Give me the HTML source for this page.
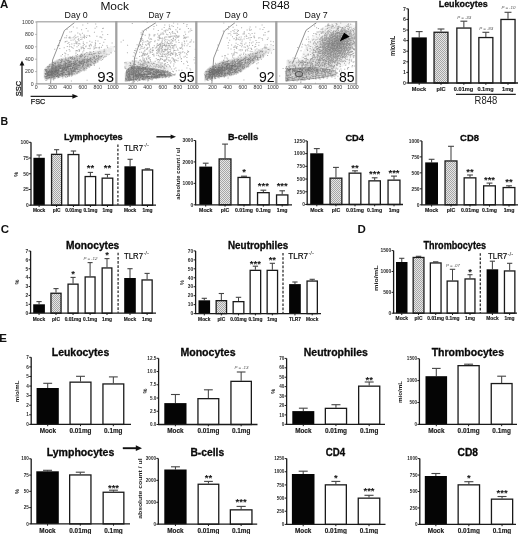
<!DOCTYPE html>
<html><head><meta charset="utf-8"><style>
html,body{margin:0;padding:0;background:#fff;width:520px;height:534px;overflow:hidden}
svg{display:block;will-change:transform;filter:blur(0.3px)}
</style></head><body>
<svg width="520" height="534" viewBox="0 0 520 534" font-family='"Liberation Sans", sans-serif'>
<defs>
<pattern id="hatch" width="2" height="2" patternUnits="userSpaceOnUse">
<rect width="2" height="2" fill="#e6e6e6"/><rect width="1" height="1" fill="#a6a6a6"/><rect x="1" y="1" width="1" height="1" fill="#a6a6a6"/>
</pattern>
<filter id="fb" x="-5%" y="-5%" width="110%" height="110%"><feGaussianBlur stdDeviation="0.6"/></filter>
<filter id="fd" x="-5%" y="-5%" width="110%" height="110%"><feGaussianBlur stdDeviation="0.4"/></filter>
<filter id="bl1" x="-20%" y="-20%" width="140%" height="140%"><feGaussianBlur stdDeviation="1.2"/></filter>
<filter id="bl2" x="-20%" y="-20%" width="140%" height="140%"><feGaussianBlur stdDeviation="2.5"/></filter>
<filter id="bl3" x="-20%" y="-20%" width="140%" height="140%"><feGaussianBlur stdDeviation="4"/></filter>
</defs>
<rect width="520" height="534" fill="#fff"/>
<g filter="url(#fb)">
<path fill="rgb(245,245,245)" d="M110 46h3v1h-3zM107 47h7v1h-7zM104 48h3v1h-3zM112 48h2v1h-2zM100 49h3v1h-3zM112 49h2v1h-2zM95 50h4v1h-4zM112 50h2v1h-2zM90 51h3v1h-3zM112 51h1v1h-1zM85 52h2v1h-2zM111 52h1v1h-1zM81 53h2v1h-2zM110 53h2v1h-2zM78 54h2v1h-2zM108 54h2v1h-2zM72 55h4v1h-4zM107 55h2v1h-2zM67 56h3v1h-3zM106 56h1v1h-1zM62 57h3v1h-3zM104 57h2v1h-2zM59 58h1v1h-1zM103 58h1v1h-1zM56 59h1v1h-1zM102 59h1v1h-1zM54 60h1v1h-1zM100 60h1v1h-1zM52 61h1v1h-1zM98 61h1v1h-1zM97 62h1v1h-1zM49 63h1v1h-1zM95 63h1v1h-1zM48 64h1v1h-1zM94 64h1v1h-1zM47 65h1v1h-1zM92 65h1v1h-1zM89 67h1v1h-1zM44 68h1v1h-1zM86 69h1v1h-1zM43 70h1v1h-1zM84 70h1v1h-1zM43 71h1v1h-1zM82 71h1v1h-1zM43 72h1v1h-1zM43 73h1v1h-1zM79 73h1v1h-1zM43 74h1v1h-1zM77 74h1v1h-1zM43 75h1v1h-1zM74 75h2v1h-2zM43 76h1v1h-1zM70 76h2v1h-2zM43 77h1v1h-1zM62 77h4v1h-4zM56 78h2v1h-2zM51 79h2v1h-2zM162 43h6v1h-6zM160 44h9v1h-9zM160 45h9v1h-9zM159 46h11v1h-11zM159 47h11v1h-11zM159 48h10v1h-10zM159 49h10v1h-10zM159 50h9v1h-9zM160 51h6v1h-6zM162 52h2v1h-2zM131 60h15v1h-15zM125 61h6v1h-6zM147 61h9v1h-9zM124 62h1v1h-1zM155 62h7v1h-7zM124 63h1v1h-1zM162 63h3v1h-3zM124 64h1v1h-1zM164 64h4v1h-4zM124 65h1v1h-1zM167 65h3v1h-3zM124 66h1v1h-1zM168 66h3v1h-3zM124 67h1v1h-1zM169 67h2v1h-2zM125 68h3v1h-3zM169 68h2v1h-2zM126 69h1v1h-1zM169 69h2v1h-2zM167 70h4v1h-4zM169 71h2v1h-2zM124 73h1v1h-1zM172 73h1v1h-1zM124 74h1v1h-1zM174 74h1v1h-1zM124 75h1v1h-1zM174 75h1v1h-1zM124 76h1v1h-1zM171 76h2v1h-2zM124 77h1v1h-1zM167 77h1v1h-1zM124 78h1v1h-1zM160 78h2v1h-2zM124 79h1v1h-1zM151 79h2v1h-2zM124 80h1v1h-1zM140 80h3v1h-3zM129 81h1v1h-1zM269 46h5v1h-5zM264 47h10v1h-10zM260 48h4v1h-4zM271 48h3v1h-3zM258 49h2v1h-2zM271 49h3v1h-3zM255 50h2v1h-2zM271 50h2v1h-2zM252 51h2v1h-2zM270 51h2v1h-2zM250 52h2v1h-2zM268 52h2v1h-2zM247 53h2v1h-2zM267 53h2v1h-2zM245 54h1v1h-1zM266 54h1v1h-1zM242 55h2v1h-2zM265 55h1v1h-1zM239 56h2v1h-2zM264 56h1v1h-1zM235 57h3v1h-3zM263 57h1v1h-1zM231 58h2v1h-2zM261 58h2v1h-2zM226 59h3v1h-3zM260 59h1v1h-1zM221 60h3v1h-3zM258 60h1v1h-1zM219 61h1v1h-1zM257 61h1v1h-1zM217 62h1v1h-1zM255 62h1v1h-1zM215 63h1v1h-1zM213 64h1v1h-1zM252 64h1v1h-1zM211 65h1v1h-1zM209 66h1v1h-1zM249 66h1v1h-1zM208 67h1v1h-1zM246 68h1v1h-1zM245 69h1v1h-1zM243 70h1v1h-1zM204 71h1v1h-1zM242 71h1v1h-1zM240 72h1v1h-1zM203 73h1v1h-1zM238 73h1v1h-1zM236 74h1v1h-1zM233 75h1v1h-1zM229 76h3v1h-3zM222 77h3v1h-3zM216 78h2v1h-2zM212 79h2v1h-2zM209 80h1v1h-1zM204 81h2v1h-2zM334 22h14v1h-14zM331 23h20v1h-20zM328 24h25v1h-25zM326 25h29v1h-29zM324 26h32v1h-32zM323 27h12v1h-12zM346 27h10v1h-10zM321 28h11v1h-11zM349 28h7v1h-7zM320 29h10v1h-10zM351 29h5v1h-5zM319 30h9v1h-9zM352 30h4v1h-4zM318 31h8v1h-8zM353 31h3v1h-3zM317 32h8v1h-8zM354 32h2v1h-2zM316 33h8v1h-8zM355 33h1v1h-1zM315 34h8v1h-8zM355 34h1v1h-1zM314 35h8v1h-8zM313 36h8v1h-8zM312 37h8v1h-8zM311 38h8v1h-8zM311 39h7v1h-7zM310 40h8v1h-8zM309 41h8v1h-8zM308 42h8v1h-8zM308 43h8v1h-8zM307 44h8v1h-8zM307 45h8v1h-8zM306 46h9v1h-9zM305 47h9v1h-9zM355 47h1v1h-1zM305 48h9v1h-9zM355 48h1v1h-1zM304 49h9v1h-9zM354 49h2v1h-2zM304 50h9v1h-9zM354 50h2v1h-2zM303 51h10v1h-10zM353 51h3v1h-3zM303 52h10v1h-10zM352 52h4v1h-4zM302 53h10v1h-10zM351 53h5v1h-5zM302 54h10v1h-10zM351 54h5v1h-5zM302 55h11v1h-11zM350 55h6v1h-6zM301 56h12v1h-12zM349 56h7v1h-7zM301 57h12v1h-12zM347 57h8v1h-8zM298 58h12v1h-12zM346 58h8v1h-8zM287 59h14v1h-14zM344 59h9v1h-9zM286 60h1v1h-1zM343 60h9v1h-9zM286 61h1v1h-1zM341 61h10v1h-10zM286 62h1v1h-1zM339 62h11v1h-11zM286 63h1v1h-1zM338 63h10v1h-10zM286 64h1v1h-1zM337 64h10v1h-10zM286 65h1v1h-1zM337 65h8v1h-8zM337 66h6v1h-6zM337 67h4v1h-4zM336 68h3v1h-3zM285 69h1v1h-1zM333 69h5v1h-5zM334 70h1v1h-1zM284 71h1v1h-1zM337 72h1v1h-1zM337 73h2v1h-2zM336 74h1v1h-1zM335 75h1v1h-1zM332 76h2v1h-2zM328 77h1v1h-1zM321 78h3v1h-3zM312 79h4v1h-4zM299 80h6v1h-6zM288 81h2v1h-2z"/>
<path fill="rgb(235,235,235)" d="M107 48h5v1h-5zM103 49h9v1h-9zM99 50h4v1h-4zM106 50h6v1h-6zM93 51h4v1h-4zM106 51h6v1h-6zM87 52h4v1h-4zM106 52h5v1h-5zM83 53h2v1h-2zM106 53h4v1h-4zM80 54h1v1h-1zM106 54h2v1h-2zM76 55h1v1h-1zM105 55h2v1h-2zM70 56h2v1h-2zM104 56h2v1h-2zM65 57h1v1h-1zM103 57h1v1h-1zM60 58h1v1h-1zM102 58h1v1h-1zM57 59h1v1h-1zM101 59h1v1h-1zM55 60h1v1h-1zM99 60h1v1h-1zM53 61h1v1h-1zM97 61h1v1h-1zM51 62h1v1h-1zM96 62h1v1h-1zM94 63h1v1h-1zM93 64h1v1h-1zM91 65h1v1h-1zM46 66h1v1h-1zM90 66h1v1h-1zM45 67h1v1h-1zM88 67h1v1h-1zM87 68h1v1h-1zM85 69h1v1h-1zM83 70h1v1h-1zM80 72h1v1h-1zM78 73h1v1h-1zM76 74h1v1h-1zM73 75h1v1h-1zM68 76h2v1h-2zM60 77h2v1h-2zM55 78h1v1h-1zM44 79h1v1h-1zM48 79h3v1h-3zM131 61h16v1h-16zM125 62h5v1h-5zM149 62h6v1h-6zM125 63h1v1h-1zM156 63h6v1h-6zM125 64h1v1h-1zM161 64h3v1h-3zM125 65h1v1h-1zM163 65h4v1h-4zM125 66h1v1h-1zM163 66h5v1h-5zM125 67h4v1h-4zM162 67h7v1h-7zM157 68h3v1h-3zM162 68h7v1h-7zM161 69h8v1h-8zM165 70h2v1h-2zM125 71h1v1h-1zM170 72h1v1h-1zM173 74h1v1h-1zM173 75h1v1h-1zM170 76h1v1h-1zM165 77h2v1h-2zM159 78h1v1h-1zM149 79h2v1h-2zM137 80h3v1h-3zM128 81h1v1h-1zM264 48h7v1h-7zM260 49h11v1h-11zM257 50h2v1h-2zM264 50h7v1h-7zM254 51h2v1h-2zM265 51h5v1h-5zM252 52h1v1h-1zM265 52h3v1h-3zM249 53h1v1h-1zM265 53h2v1h-2zM246 54h2v1h-2zM265 54h1v1h-1zM244 55h1v1h-1zM264 55h1v1h-1zM241 56h2v1h-2zM263 56h1v1h-1zM238 57h2v1h-2zM262 57h1v1h-1zM233 58h2v1h-2zM260 58h1v1h-1zM229 59h2v1h-2zM259 59h1v1h-1zM224 60h2v1h-2zM257 60h1v1h-1zM220 61h1v1h-1zM256 61h1v1h-1zM218 62h1v1h-1zM254 62h1v1h-1zM216 63h1v1h-1zM253 63h1v1h-1zM214 64h1v1h-1zM251 64h1v1h-1zM212 65h1v1h-1zM250 65h1v1h-1zM247 67h1v1h-1zM207 68h1v1h-1zM206 69h1v1h-1zM244 69h1v1h-1zM205 70h1v1h-1zM241 71h1v1h-1zM239 72h1v1h-1zM237 73h1v1h-1zM235 74h1v1h-1zM227 76h2v1h-2zM220 77h2v1h-2zM215 78h1v1h-1zM211 79h1v1h-1zM204 80h1v1h-1zM207 80h2v1h-2zM335 27h11v1h-11zM332 28h17v1h-17zM330 29h21v1h-21zM328 30h7v1h-7zM345 30h7v1h-7zM326 31h6v1h-6zM348 31h5v1h-5zM325 32h5v1h-5zM349 32h5v1h-5zM324 33h5v1h-5zM350 33h5v1h-5zM323 34h4v1h-4zM351 34h4v1h-4zM322 35h4v1h-4zM352 35h4v1h-4zM321 36h4v1h-4zM352 36h4v1h-4zM320 37h4v1h-4zM353 37h3v1h-3zM319 38h4v1h-4zM353 38h3v1h-3zM318 39h4v1h-4zM353 39h3v1h-3zM318 40h4v1h-4zM353 40h3v1h-3zM317 41h4v1h-4zM353 41h3v1h-3zM316 42h5v1h-5zM353 42h3v1h-3zM316 43h4v1h-4zM353 43h3v1h-3zM315 44h5v1h-5zM353 44h3v1h-3zM315 45h4v1h-4zM352 45h4v1h-4zM315 46h4v1h-4zM352 46h4v1h-4zM314 47h5v1h-5zM352 47h3v1h-3zM314 48h4v1h-4zM351 48h4v1h-4zM313 49h5v1h-5zM350 49h4v1h-4zM313 50h5v1h-5zM350 50h4v1h-4zM313 51h5v1h-5zM349 51h4v1h-4zM313 52h5v1h-5zM348 52h4v1h-4zM312 53h6v1h-6zM347 53h4v1h-4zM312 54h7v1h-7zM346 54h5v1h-5zM313 55h6v1h-6zM345 55h5v1h-5zM313 56h7v1h-7zM343 56h6v1h-6zM313 57h8v1h-8zM342 57h5v1h-5zM310 58h8v1h-8zM340 58h6v1h-6zM301 59h10v1h-10zM337 59h7v1h-7zM287 60h12v1h-12zM336 60h7v1h-7zM287 61h1v1h-1zM337 61h4v1h-4zM287 62h1v1h-1zM337 62h2v1h-2zM287 63h1v1h-1zM336 63h2v1h-2zM287 64h1v1h-1zM336 64h1v1h-1zM287 65h1v1h-1zM336 65h1v1h-1zM286 66h1v1h-1zM335 66h2v1h-2zM286 67h1v1h-1zM335 67h2v1h-2zM327 68h9v1h-9zM332 69h1v1h-1zM335 71h1v1h-1zM336 72h1v1h-1zM336 73h1v1h-1zM334 75h1v1h-1zM331 76h1v1h-1zM326 77h2v1h-2zM319 78h2v1h-2zM309 79h3v1h-3zM294 80h5v1h-5zM285 81h1v1h-1zM287 81h1v1h-1z"/>
<path fill="rgb(226,226,226)" d="M103 50h3v1h-3zM97 51h9v1h-9zM91 52h4v1h-4zM98 52h8v1h-8zM85 53h2v1h-2zM100 53h6v1h-6zM81 54h2v1h-2zM101 54h5v1h-5zM77 55h2v1h-2zM102 55h3v1h-3zM72 56h2v1h-2zM102 56h2v1h-2zM66 57h2v1h-2zM102 57h1v1h-1zM61 58h2v1h-2zM101 58h1v1h-1zM58 59h1v1h-1zM100 59h1v1h-1zM98 60h1v1h-1zM52 62h1v1h-1zM95 62h1v1h-1zM50 63h1v1h-1zM49 64h1v1h-1zM92 64h1v1h-1zM89 66h1v1h-1zM86 68h1v1h-1zM44 69h1v1h-1zM84 69h1v1h-1zM81 71h1v1h-1zM79 72h1v1h-1zM77 73h1v1h-1zM75 74h1v1h-1zM71 75h2v1h-2zM66 76h2v1h-2zM59 77h1v1h-1zM44 78h1v1h-1zM54 78h1v1h-1zM45 79h3v1h-3zM130 62h19v1h-19zM126 63h30v1h-30zM126 64h35v1h-35zM126 65h37v1h-37zM126 66h5v1h-5zM143 66h20v1h-20zM149 67h13v1h-13zM155 68h2v1h-2zM160 68h2v1h-2zM160 69h1v1h-1zM164 70h1v1h-1zM168 71h1v1h-1zM171 73h1v1h-1zM172 75h1v1h-1zM164 77h1v1h-1zM157 78h2v1h-2zM148 79h1v1h-1zM134 80h3v1h-3zM125 81h1v1h-1zM259 50h5v1h-5zM256 51h9v1h-9zM253 52h12v1h-12zM250 53h2v1h-2zM262 53h3v1h-3zM248 54h1v1h-1zM263 54h2v1h-2zM245 55h2v1h-2zM263 55h1v1h-1zM243 56h1v1h-1zM262 56h1v1h-1zM240 57h1v1h-1zM261 57h1v1h-1zM235 58h2v1h-2zM259 58h1v1h-1zM231 59h1v1h-1zM258 59h1v1h-1zM226 60h1v1h-1zM221 61h1v1h-1zM255 61h1v1h-1zM219 62h1v1h-1zM252 63h1v1h-1zM249 65h1v1h-1zM210 66h1v1h-1zM248 66h1v1h-1zM245 68h1v1h-1zM242 70h1v1h-1zM204 72h1v1h-1zM204 73h1v1h-1zM236 73h1v1h-1zM204 74h1v1h-1zM234 74h1v1h-1zM204 75h1v1h-1zM231 75h2v1h-2zM204 76h1v1h-1zM225 76h2v1h-2zM204 77h1v1h-1zM218 77h2v1h-2zM204 78h1v1h-1zM214 78h1v1h-1zM204 79h1v1h-1zM210 79h1v1h-1zM205 80h2v1h-2zM335 30h10v1h-10zM332 31h16v1h-16zM330 32h7v1h-7zM343 32h6v1h-6zM329 33h5v1h-5zM346 33h4v1h-4zM327 34h5v1h-5zM347 34h4v1h-4zM326 35h4v1h-4zM348 35h4v1h-4zM325 36h4v1h-4zM349 36h3v1h-3zM324 37h4v1h-4zM350 37h3v1h-3zM323 38h4v1h-4zM350 38h3v1h-3zM322 39h4v1h-4zM350 39h3v1h-3zM322 40h3v1h-3zM350 40h3v1h-3zM321 41h3v1h-3zM350 41h3v1h-3zM321 42h3v1h-3zM350 42h3v1h-3zM320 43h3v1h-3zM350 43h3v1h-3zM320 44h3v1h-3zM350 44h3v1h-3zM319 45h3v1h-3zM350 45h2v1h-2zM319 46h3v1h-3zM349 46h3v1h-3zM319 47h3v1h-3zM349 47h3v1h-3zM318 48h4v1h-4zM348 48h3v1h-3zM318 49h4v1h-4zM347 49h3v1h-3zM318 50h4v1h-4zM347 50h3v1h-3zM318 51h4v1h-4zM346 51h3v1h-3zM318 52h4v1h-4zM345 52h3v1h-3zM318 53h5v1h-5zM344 53h3v1h-3zM319 54h5v1h-5zM342 54h4v1h-4zM319 55h6v1h-6zM340 55h5v1h-5zM320 56h6v1h-6zM338 56h5v1h-5zM321 57h10v1h-10zM333 57h9v1h-9zM318 58h22v1h-22zM311 59h8v1h-8zM323 59h14v1h-14zM299 60h11v1h-11zM332 60h4v1h-4zM288 61h13v1h-13zM334 61h3v1h-3zM288 62h11v1h-11zM335 62h2v1h-2zM288 63h11v1h-11zM334 63h2v1h-2zM288 64h12v1h-12zM332 64h4v1h-4zM288 65h12v1h-12zM330 65h6v1h-6zM287 66h18v1h-18zM328 66h7v1h-7zM287 67h7v1h-7zM319 67h16v1h-16zM286 68h1v1h-1zM325 68h2v1h-2zM330 69h2v1h-2zM285 70h1v1h-1zM333 70h1v1h-1zM285 71h1v1h-1zM285 72h1v1h-1zM335 72h1v1h-1zM285 73h1v1h-1zM335 73h1v1h-1zM285 74h1v1h-1zM335 74h1v1h-1zM285 75h1v1h-1zM333 75h1v1h-1zM285 76h1v1h-1zM329 76h2v1h-2zM285 77h1v1h-1zM324 77h2v1h-2zM285 78h1v1h-1zM317 78h2v1h-2zM285 79h1v1h-1zM307 79h2v1h-2zM285 80h1v1h-1zM291 80h3v1h-3zM286 81h1v1h-1z"/>
<path fill="rgb(216,216,216)" d="M95 52h3v1h-3zM87 53h13v1h-13zM83 54h3v1h-3zM88 54h13v1h-13zM79 55h2v1h-2zM89 55h7v1h-7zM99 55h3v1h-3zM74 56h3v1h-3zM100 56h2v1h-2zM68 57h2v1h-2zM100 57h2v1h-2zM63 58h2v1h-2zM100 58h1v1h-1zM59 59h1v1h-1zM99 59h1v1h-1zM56 60h1v1h-1zM97 60h1v1h-1zM54 61h1v1h-1zM96 61h1v1h-1zM94 62h1v1h-1zM51 63h1v1h-1zM93 63h1v1h-1zM91 64h1v1h-1zM48 65h1v1h-1zM90 65h1v1h-1zM47 66h1v1h-1zM87 67h1v1h-1zM85 68h1v1h-1zM44 70h1v1h-1zM82 70h1v1h-1zM44 71h1v1h-1zM80 71h1v1h-1zM44 72h1v1h-1zM78 72h1v1h-1zM44 73h1v1h-1zM44 74h1v1h-1zM74 74h1v1h-1zM44 75h1v1h-1zM70 75h1v1h-1zM44 76h1v1h-1zM63 76h3v1h-3zM44 77h1v1h-1zM57 77h2v1h-2zM52 78h2v1h-2zM138 66h5v1h-5zM129 67h1v1h-1zM148 67h1v1h-1zM154 68h1v1h-1zM159 69h1v1h-1zM163 70h1v1h-1zM167 71h1v1h-1zM125 72h1v1h-1zM169 72h1v1h-1zM125 73h1v1h-1zM125 74h1v1h-1zM172 74h1v1h-1zM125 75h1v1h-1zM125 76h1v1h-1zM169 76h1v1h-1zM125 77h1v1h-1zM163 77h1v1h-1zM125 78h1v1h-1zM156 78h1v1h-1zM125 79h1v1h-1zM146 79h2v1h-2zM125 80h1v1h-1zM132 80h2v1h-2zM127 81h1v1h-1zM252 53h10v1h-10zM249 54h14v1h-14zM247 55h6v1h-6zM259 55h4v1h-4zM244 56h4v1h-4zM259 56h3v1h-3zM241 57h2v1h-2zM258 57h3v1h-3zM237 58h2v1h-2zM258 58h1v1h-1zM232 59h2v1h-2zM257 59h1v1h-1zM227 60h2v1h-2zM256 60h1v1h-1zM222 61h2v1h-2zM254 61h1v1h-1zM253 62h1v1h-1zM217 63h1v1h-1zM251 63h1v1h-1zM215 64h1v1h-1zM250 64h1v1h-1zM213 65h1v1h-1zM211 66h1v1h-1zM247 66h1v1h-1zM209 67h1v1h-1zM246 67h1v1h-1zM243 69h1v1h-1zM240 71h1v1h-1zM238 72h1v1h-1zM233 74h1v1h-1zM230 75h1v1h-1zM223 76h2v1h-2zM216 77h2v1h-2zM213 78h1v1h-1zM209 79h1v1h-1zM337 32h6v1h-6zM334 33h12v1h-12zM332 34h7v1h-7zM340 34h7v1h-7zM330 35h5v1h-5zM344 35h4v1h-4zM329 36h4v1h-4zM346 36h3v1h-3zM328 37h3v1h-3zM347 37h3v1h-3zM327 38h3v1h-3zM347 38h3v1h-3zM326 39h3v1h-3zM348 39h2v1h-2zM325 40h3v1h-3zM348 40h2v1h-2zM324 41h3v1h-3zM348 41h2v1h-2zM324 42h3v1h-3zM348 42h2v1h-2zM323 43h3v1h-3zM348 43h2v1h-2zM323 44h3v1h-3zM347 44h3v1h-3zM322 45h3v1h-3zM347 45h3v1h-3zM322 46h3v1h-3zM347 46h2v1h-2zM322 47h3v1h-3zM346 47h3v1h-3zM322 48h3v1h-3zM345 48h3v1h-3zM322 49h3v1h-3zM345 49h2v1h-2zM322 50h3v1h-3zM344 50h3v1h-3zM322 51h4v1h-4zM343 51h3v1h-3zM322 52h4v1h-4zM341 52h4v1h-4zM323 53h5v1h-5zM339 53h5v1h-5zM324 54h6v1h-6zM337 54h5v1h-5zM325 55h15v1h-15zM326 56h12v1h-12zM331 57h2v1h-2zM319 59h4v1h-4zM310 60h9v1h-9zM321 60h11v1h-11zM301 61h14v1h-14zM327 61h7v1h-7zM299 62h17v1h-17zM326 62h9v1h-9zM299 63h20v1h-20zM322 63h12v1h-12zM300 64h32v1h-32zM300 65h30v1h-30zM305 66h23v1h-23zM294 67h9v1h-9zM318 67h1v1h-1zM323 68h2v1h-2zM328 69h2v1h-2zM334 71h1v1h-1zM333 72h2v1h-2zM330 73h5v1h-5zM330 74h5v1h-5zM329 75h4v1h-4zM327 76h2v1h-2zM322 77h2v1h-2zM314 78h3v1h-3zM304 79h3v1h-3zM290 80h1v1h-1z"/>
<path fill="rgb(206,206,206)" d="M86 54h2v1h-2zM81 55h8v1h-8zM96 55h3v1h-3zM77 56h23v1h-23zM70 57h4v1h-4zM78 57h11v1h-11zM97 57h3v1h-3zM65 58h2v1h-2zM97 58h3v1h-3zM60 59h2v1h-2zM96 59h3v1h-3zM57 60h1v1h-1zM95 60h2v1h-2zM55 61h1v1h-1zM94 61h2v1h-2zM53 62h1v1h-1zM93 62h1v1h-1zM91 63h2v1h-2zM50 64h1v1h-1zM90 64h1v1h-1zM89 65h1v1h-1zM87 66h2v1h-2zM46 67h1v1h-1zM86 67h1v1h-1zM45 68h1v1h-1zM84 68h1v1h-1zM83 69h1v1h-1zM81 70h1v1h-1zM79 71h1v1h-1zM77 72h1v1h-1zM75 73h2v1h-2zM73 74h1v1h-1zM69 75h1v1h-1zM62 76h1v1h-1zM56 77h1v1h-1zM51 78h1v1h-1zM135 66h3v1h-3zM146 67h2v1h-2zM128 68h1v1h-1zM152 68h2v1h-2zM158 69h1v1h-1zM162 70h1v1h-1zM166 71h1v1h-1zM170 73h1v1h-1zM171 74h1v1h-1zM171 75h1v1h-1zM168 76h1v1h-1zM162 77h1v1h-1zM154 78h2v1h-2zM145 79h1v1h-1zM131 80h1v1h-1zM126 81h1v1h-1zM253 55h6v1h-6zM248 56h11v1h-11zM243 57h6v1h-6zM256 57h2v1h-2zM239 58h6v1h-6zM255 58h3v1h-3zM234 59h6v1h-6zM254 59h3v1h-3zM229 60h3v1h-3zM253 60h3v1h-3zM224 61h3v1h-3zM252 61h2v1h-2zM220 62h1v1h-1zM251 62h2v1h-2zM218 63h1v1h-1zM250 63h1v1h-1zM216 64h1v1h-1zM249 64h1v1h-1zM248 65h1v1h-1zM245 67h1v1h-1zM208 68h1v1h-1zM244 68h1v1h-1zM241 70h1v1h-1zM205 71h1v1h-1zM239 71h1v1h-1zM237 72h1v1h-1zM235 73h1v1h-1zM228 75h2v1h-2zM221 76h2v1h-2zM215 77h1v1h-1zM205 78h1v1h-1zM212 78h1v1h-1zM205 79h1v1h-1zM208 79h1v1h-1zM339 34h1v1h-1zM335 35h9v1h-9zM333 36h13v1h-13zM331 37h4v1h-4zM342 37h5v1h-5zM330 38h3v1h-3zM344 38h3v1h-3zM329 39h3v1h-3zM344 39h4v1h-4zM328 40h3v1h-3zM345 40h3v1h-3zM327 41h3v1h-3zM345 41h3v1h-3zM327 42h2v1h-2zM345 42h3v1h-3zM326 43h3v1h-3zM345 43h3v1h-3zM326 44h2v1h-2zM345 44h2v1h-2zM325 45h3v1h-3zM344 45h3v1h-3zM325 46h3v1h-3zM344 46h3v1h-3zM325 47h3v1h-3zM343 47h3v1h-3zM325 48h3v1h-3zM342 48h3v1h-3zM325 49h3v1h-3zM341 49h4v1h-4zM325 50h4v1h-4zM340 50h4v1h-4zM326 51h4v1h-4zM338 51h5v1h-5zM326 52h15v1h-15zM328 53h11v1h-11zM330 54h7v1h-7zM319 60h2v1h-2zM315 61h12v1h-12zM316 62h10v1h-10zM319 63h3v1h-3zM303 67h6v1h-6zM316 67h2v1h-2zM287 68h2v1h-2zM321 68h2v1h-2zM327 69h1v1h-1zM331 70h2v1h-2zM332 71h2v1h-2zM318 72h15v1h-15zM310 73h20v1h-20zM308 74h22v1h-22zM307 75h22v1h-22zM307 76h20v1h-20zM306 77h16v1h-16zM305 78h9v1h-9zM299 79h5v1h-5zM289 80h1v1h-1z"/>
<path fill="rgb(196,196,196)" d="M74 57h4v1h-4zM89 57h8v1h-8zM67 58h30v1h-30zM62 59h19v1h-19zM91 59h5v1h-5zM58 60h16v1h-16zM91 60h4v1h-4zM56 61h13v1h-13zM90 61h4v1h-4zM54 62h10v1h-10zM89 62h4v1h-4zM52 63h8v1h-8zM88 63h3v1h-3zM51 64h4v1h-4zM87 64h3v1h-3zM49 65h3v1h-3zM86 65h3v1h-3zM48 66h2v1h-2zM85 66h2v1h-2zM47 67h1v1h-1zM83 67h3v1h-3zM82 68h2v1h-2zM80 69h3v1h-3zM79 70h2v1h-2zM77 71h2v1h-2zM76 72h1v1h-1zM74 73h1v1h-1zM71 74h2v1h-2zM67 75h2v1h-2zM60 76h2v1h-2zM55 77h1v1h-1zM45 78h1v1h-1zM47 78h4v1h-4zM133 66h2v1h-2zM145 67h1v1h-1zM151 68h1v1h-1zM157 69h1v1h-1zM126 70h1v1h-1zM161 70h1v1h-1zM165 71h1v1h-1zM170 74h1v1h-1zM170 75h1v1h-1zM167 76h1v1h-1zM161 77h1v1h-1zM153 78h1v1h-1zM143 79h2v1h-2zM130 80h1v1h-1zM249 57h7v1h-7zM245 58h10v1h-10zM240 59h5v1h-5zM250 59h4v1h-4zM232 60h8v1h-8zM249 60h4v1h-4zM227 61h7v1h-7zM248 61h4v1h-4zM221 62h8v1h-8zM247 62h4v1h-4zM219 63h5v1h-5zM246 63h4v1h-4zM217 64h1v1h-1zM245 64h4v1h-4zM214 65h1v1h-1zM244 65h4v1h-4zM212 66h1v1h-1zM243 66h4v1h-4zM210 67h1v1h-1zM243 67h2v1h-2zM242 68h2v1h-2zM207 69h1v1h-1zM241 69h2v1h-2zM206 70h1v1h-1zM240 70h1v1h-1zM238 71h1v1h-1zM205 72h1v1h-1zM236 72h1v1h-1zM205 73h1v1h-1zM234 73h1v1h-1zM205 74h1v1h-1zM232 74h1v1h-1zM205 75h1v1h-1zM226 75h2v1h-2zM205 76h1v1h-1zM220 76h1v1h-1zM205 77h1v1h-1zM211 78h1v1h-1zM206 79h2v1h-2zM335 37h7v1h-7zM333 38h11v1h-11zM332 39h12v1h-12zM331 40h4v1h-4zM341 40h4v1h-4zM330 41h4v1h-4zM342 41h3v1h-3zM329 42h4v1h-4zM342 42h3v1h-3zM329 43h3v1h-3zM342 43h3v1h-3zM328 44h4v1h-4zM342 44h3v1h-3zM328 45h3v1h-3zM341 45h3v1h-3zM328 46h3v1h-3zM341 46h3v1h-3zM328 47h4v1h-4zM340 47h3v1h-3zM328 48h4v1h-4zM338 48h4v1h-4zM328 49h13v1h-13zM329 50h11v1h-11zM330 51h8v1h-8zM309 67h7v1h-7zM289 68h1v1h-1zM319 68h2v1h-2zM286 69h1v1h-1zM326 69h1v1h-1zM330 70h1v1h-1zM286 71h1v1h-1zM297 71h35v1h-35zM286 72h1v1h-1zM290 72h28v1h-28zM286 73h1v1h-1zM290 73h20v1h-20zM286 74h1v1h-1zM290 74h18v1h-18zM286 75h1v1h-1zM290 75h17v1h-17zM286 76h1v1h-1zM290 76h17v1h-17zM286 77h1v1h-1zM290 77h16v1h-16zM286 78h1v1h-1zM290 78h15v1h-15zM286 79h1v1h-1zM290 79h9v1h-9zM286 80h3v1h-3z"/>
<path fill="rgb(186,186,186)" d="M81 59h10v1h-10zM74 60h17v1h-17zM69 61h5v1h-5zM85 61h5v1h-5zM64 62h5v1h-5zM85 62h4v1h-4zM60 63h4v1h-4zM84 63h4v1h-4zM55 64h5v1h-5zM83 64h4v1h-4zM52 65h4v1h-4zM81 65h5v1h-5zM50 66h3v1h-3zM80 66h5v1h-5zM48 67h2v1h-2zM79 67h4v1h-4zM46 68h2v1h-2zM78 68h4v1h-4zM45 69h1v1h-1zM77 69h3v1h-3zM76 70h3v1h-3zM75 71h2v1h-2zM73 72h3v1h-3zM72 73h2v1h-2zM70 74h1v1h-1zM64 75h3v1h-3zM58 76h2v1h-2zM45 77h1v1h-1zM53 77h2v1h-2zM46 78h1v1h-1zM131 66h2v1h-2zM144 67h1v1h-1zM150 68h1v1h-1zM127 69h1v1h-1zM156 69h1v1h-1zM164 71h1v1h-1zM168 72h1v1h-1zM168 73h2v1h-2zM168 74h2v1h-2zM168 75h2v1h-2zM165 76h2v1h-2zM160 77h1v1h-1zM151 78h2v1h-2zM141 79h2v1h-2zM129 80h1v1h-1zM245 59h5v1h-5zM240 60h9v1h-9zM234 61h5v1h-5zM244 61h4v1h-4zM229 62h4v1h-4zM243 62h4v1h-4zM224 63h4v1h-4zM243 63h3v1h-3zM218 64h5v1h-5zM241 64h4v1h-4zM215 65h2v1h-2zM240 65h4v1h-4zM213 66h1v1h-1zM239 66h4v1h-4zM211 67h1v1h-1zM238 67h5v1h-5zM209 68h1v1h-1zM238 68h4v1h-4zM237 69h4v1h-4zM237 70h3v1h-3zM236 71h2v1h-2zM235 72h1v1h-1zM233 73h1v1h-1zM230 74h2v1h-2zM224 75h2v1h-2zM218 76h2v1h-2zM214 77h1v1h-1zM206 78h1v1h-1zM210 78h1v1h-1zM335 40h6v1h-6zM334 41h8v1h-8zM333 42h9v1h-9zM332 43h10v1h-10zM332 44h10v1h-10zM331 45h10v1h-10zM331 46h10v1h-10zM332 47h8v1h-8zM332 48h6v1h-6zM290 68h1v1h-1zM313 68h6v1h-6zM319 69h7v1h-7zM286 70h1v1h-1zM321 70h9v1h-9zM287 71h10v1h-10zM287 72h3v1h-3zM287 73h3v1h-3zM287 74h3v1h-3zM287 75h3v1h-3zM287 76h3v1h-3zM287 77h3v1h-3zM287 78h3v1h-3zM287 79h3v1h-3z"/>
<path fill="rgb(177,177,177)" d="M74 61h11v1h-11zM69 62h16v1h-16zM64 63h5v1h-5zM78 63h6v1h-6zM60 64h4v1h-4zM78 64h5v1h-5zM56 65h4v1h-4zM77 65h4v1h-4zM53 66h2v1h-2zM76 66h4v1h-4zM50 67h2v1h-2zM75 67h4v1h-4zM48 68h2v1h-2zM73 68h5v1h-5zM46 69h2v1h-2zM72 69h5v1h-5zM45 70h1v1h-1zM70 70h6v1h-6zM45 71h1v1h-1zM69 71h6v1h-6zM45 72h1v1h-1zM67 72h6v1h-6zM66 73h6v1h-6zM45 74h1v1h-1zM64 74h6v1h-6zM45 75h1v1h-1zM61 75h3v1h-3zM45 76h1v1h-1zM57 76h1v1h-1zM46 77h1v1h-1zM51 77h2v1h-2zM130 67h1v1h-1zM143 67h1v1h-1zM149 68h1v1h-1zM155 69h1v1h-1zM159 70h2v1h-2zM126 71h1v1h-1zM161 71h3v1h-3zM126 72h1v1h-1zM161 72h7v1h-7zM126 73h1v1h-1zM160 73h8v1h-8zM126 74h1v1h-1zM160 74h8v1h-8zM126 75h1v1h-1zM160 75h8v1h-8zM126 76h1v1h-1zM160 76h5v1h-5zM126 77h1v1h-1zM158 77h2v1h-2zM126 78h1v1h-1zM149 78h2v1h-2zM126 79h1v1h-1zM137 79h4v1h-4zM126 80h1v1h-1zM128 80h1v1h-1zM239 61h5v1h-5zM233 62h10v1h-10zM228 63h4v1h-4zM239 63h4v1h-4zM223 64h4v1h-4zM238 64h3v1h-3zM217 65h5v1h-5zM237 65h3v1h-3zM214 66h2v1h-2zM236 66h3v1h-3zM212 67h1v1h-1zM235 67h3v1h-3zM210 68h1v1h-1zM234 68h4v1h-4zM208 69h1v1h-1zM233 69h4v1h-4zM207 70h1v1h-1zM232 70h5v1h-5zM206 71h1v1h-1zM232 71h4v1h-4zM206 72h1v1h-1zM231 72h4v1h-4zM206 73h1v1h-1zM229 73h4v1h-4zM225 74h5v1h-5zM221 75h3v1h-3zM206 76h1v1h-1zM216 76h2v1h-2zM206 77h1v1h-1zM213 77h1v1h-1zM209 78h1v1h-1zM291 68h22v1h-22zM287 69h1v1h-1zM307 69h12v1h-12zM287 70h34v1h-34z"/>
<path fill="rgb(167,167,167)" d="M69 63h9v1h-9zM64 64h14v1h-14zM60 65h17v1h-17zM55 66h8v1h-8zM71 66h5v1h-5zM52 67h5v1h-5zM70 67h5v1h-5zM50 68h3v1h-3zM69 68h4v1h-4zM48 69h3v1h-3zM67 69h5v1h-5zM46 70h3v1h-3zM64 70h6v1h-6zM46 71h2v1h-2zM62 71h7v1h-7zM60 72h7v1h-7zM45 73h1v1h-1zM58 73h8v1h-8zM56 74h8v1h-8zM46 75h1v1h-1zM54 75h7v1h-7zM46 76h11v1h-11zM47 77h4v1h-4zM137 67h6v1h-6zM129 68h2v1h-2zM133 68h7v1h-7zM147 68h2v1h-2zM128 69h22v1h-22zM153 69h2v1h-2zM127 70h32v1h-32zM127 71h34v1h-34zM127 72h34v1h-34zM127 73h33v1h-33zM127 74h33v1h-33zM127 75h33v1h-33zM127 76h33v1h-33zM127 77h31v1h-31zM127 78h22v1h-22zM127 79h10v1h-10zM127 80h1v1h-1zM232 63h7v1h-7zM227 64h5v1h-5zM233 64h5v1h-5zM222 65h4v1h-4zM234 65h3v1h-3zM216 66h6v1h-6zM233 66h3v1h-3zM213 67h2v1h-2zM232 67h3v1h-3zM211 68h2v1h-2zM230 68h4v1h-4zM209 69h2v1h-2zM228 69h5v1h-5zM208 70h1v1h-1zM227 70h5v1h-5zM207 71h1v1h-1zM225 71h7v1h-7zM223 72h8v1h-8zM221 73h8v1h-8zM206 74h1v1h-1zM219 74h6v1h-6zM206 75h1v1h-1zM217 75h4v1h-4zM214 76h2v1h-2zM207 77h1v1h-1zM210 77h3v1h-3zM207 78h2v1h-2zM288 69h1v1h-1zM295 69h12v1h-12z"/>
<path fill="rgb(157,157,157)" d="M63 66h8v1h-8zM57 67h13v1h-13zM53 68h16v1h-16zM51 69h16v1h-16zM49 70h5v1h-5zM58 70h6v1h-6zM48 71h3v1h-3zM57 71h5v1h-5zM46 72h4v1h-4zM56 72h4v1h-4zM46 73h3v1h-3zM52 73h6v1h-6zM46 74h10v1h-10zM47 75h7v1h-7zM133 67h4v1h-4zM131 68h2v1h-2zM140 68h7v1h-7zM150 69h3v1h-3zM232 64h1v1h-1zM226 65h8v1h-8zM222 66h11v1h-11zM215 67h17v1h-17zM213 68h17v1h-17zM211 69h5v1h-5zM222 69h6v1h-6zM209 70h4v1h-4zM221 70h6v1h-6zM208 71h3v1h-3zM220 71h5v1h-5zM207 72h2v1h-2zM219 72h4v1h-4zM207 73h1v1h-1zM217 73h4v1h-4zM207 74h1v1h-1zM215 74h4v1h-4zM207 75h1v1h-1zM211 75h6v1h-6zM207 76h7v1h-7zM208 77h2v1h-2zM289 69h6v1h-6z"/>
<path fill="rgb(147,147,147)" d="M54 70h4v1h-4zM51 71h6v1h-6zM50 72h6v1h-6zM49 73h3v1h-3zM131 67h2v1h-2zM216 69h6v1h-6zM213 70h8v1h-8zM211 71h9v1h-9zM209 72h10v1h-10zM208 73h9v1h-9zM208 74h7v1h-7zM208 75h3v1h-3z"/>
</g>
<path fill="#303030" fill-opacity="0.40" d="M87.2 22.8h1v1h-1zM95.2 23.4h1v1h-1zM82.3 24.6h1v1h-1zM72.9 26.5h1v1h-1zM96.2 26.2h1v1h-1zM76.5 27.5h1v1h-1zM94.6 27.8h1v1h-1zM102.8 27.7h1v1h-1zM66.6 28.7h1v1h-1zM85.8 28.1h1v1h-1zM102.2 28.0h1v1h-1zM81.1 29.2h1v1h-1zM87.5 30.5h1v1h-1zM69.4 31.5h1v1h-1zM71.1 31.2h1v1h-1zM93.9 31.7h1v1h-1zM101.4 31.3h1v1h-1zM77.3 32.6h1v1h-1zM81.9 32.7h1v1h-1zM79.2 33.5h1v1h-1zM107.2 33.9h1v1h-1zM74.7 34.8h1v1h-1zM80.1 34.4h1v1h-1zM83.6 34.5h1v1h-1zM88.8 34.9h1v1h-1zM102.2 34.3h1v1h-1zM66.2 35.3h1v1h-1zM83.9 35.4h1v1h-1zM86.5 35.3h1v1h-1zM89.3 35.7h1v1h-1zM96.4 35.7h1v1h-1zM69.3 36.6h1v1h-1zM73.7 36.2h1v1h-1zM75.6 36.7h1v1h-1zM77.4 36.3h1v1h-1zM80.4 36.7h1v1h-1zM82.4 36.7h1v1h-1zM83.2 36.8h1v1h-1zM84.4 36.3h1v1h-1zM86.0 36.9h1v1h-1zM99.4 36.6h1v1h-1zM100.3 36.6h1v1h-1zM64.3 37.3h1v1h-1zM65.8 37.3h1v1h-1zM68.4 37.2h1v1h-1zM69.1 37.5h1v1h-1zM70.3 37.4h1v1h-1zM72.6 37.2h1v1h-1zM75.2 37.3h1v1h-1zM84.0 37.6h1v1h-1zM101.3 37.3h1v1h-1zM74.1 38.5h1v1h-1zM78.2 38.2h1v1h-1zM81.5 38.4h1v1h-1zM70.5 39.8h1v1h-1zM72.6 39.4h1v1h-1zM77.6 39.1h1v1h-1zM78.3 39.7h1v1h-1zM80.3 39.0h1v1h-1zM104.5 39.1h1v1h-1zM59.2 40.1h1v1h-1zM65.2 40.9h1v1h-1zM66.5 40.7h1v1h-1zM74.9 40.4h1v1h-1zM78.5 40.2h1v1h-1zM89.3 40.7h1v1h-1zM95.1 40.3h1v1h-1zM97.5 40.4h1v1h-1zM64.6 41.4h1v1h-1zM68.4 41.9h1v1h-1zM75.9 41.4h1v1h-1zM76.8 41.6h1v1h-1zM82.8 41.6h1v1h-1zM91.5 41.7h1v1h-1zM103.3 41.8h1v1h-1zM75.5 42.3h1v1h-1zM86.4 42.3h1v1h-1zM94.8 42.2h1v1h-1zM111.6 42.4h1v1h-1zM67.4 43.0h1v1h-1zM71.3 43.5h1v1h-1zM73.7 43.3h1v1h-1zM75.5 43.1h1v1h-1zM76.5 43.3h1v1h-1zM78.4 43.0h1v1h-1zM79.4 43.5h1v1h-1zM82.8 43.1h1v1h-1zM90.1 43.7h1v1h-1zM95.1 43.3h1v1h-1zM99.4 43.1h1v1h-1zM57.4 44.9h1v1h-1zM58.5 44.9h1v1h-1zM69.1 44.2h1v1h-1zM77.9 44.7h1v1h-1zM83.7 44.0h1v1h-1zM88.8 44.7h1v1h-1zM90.7 44.4h1v1h-1zM94.7 44.4h1v1h-1zM102.1 44.8h1v1h-1zM73.7 45.3h1v1h-1zM82.7 45.1h1v1h-1zM85.6 45.5h1v1h-1zM88.9 45.7h1v1h-1zM90.7 45.2h1v1h-1zM94.7 45.5h1v1h-1zM106.5 45.2h1v1h-1zM66.8 46.1h1v1h-1zM68.9 46.3h1v1h-1zM70.6 46.1h1v1h-1zM71.5 46.9h1v1h-1zM76.5 46.2h1v1h-1zM80.6 46.4h1v1h-1zM82.4 46.5h1v1h-1zM85.3 46.3h1v1h-1zM93.4 46.5h1v1h-1zM98.5 46.9h1v1h-1zM99.1 46.8h1v1h-1zM101.0 46.7h1v1h-1zM107.1 46.7h1v1h-1zM113.7 46.2h1v1h-1zM63.7 47.2h1v1h-1zM72.7 47.7h1v1h-1zM81.4 47.3h1v1h-1zM82.8 47.1h1v1h-1zM83.8 47.9h1v1h-1zM87.6 47.9h1v1h-1zM89.6 47.8h1v1h-1zM94.2 47.8h1v1h-1zM95.2 47.3h1v1h-1zM96.3 47.2h1v1h-1zM54.2 48.7h1v1h-1zM59.3 48.0h1v1h-1zM78.5 48.9h1v1h-1zM80.7 48.2h1v1h-1zM82.9 48.3h1v1h-1zM83.6 48.3h1v1h-1zM89.4 48.2h1v1h-1zM93.4 48.4h1v1h-1zM98.7 48.2h1v1h-1zM68.7 49.1h1v1h-1zM79.1 49.7h1v1h-1zM103.8 49.5h1v1h-1zM66.1 50.2h1v1h-1zM69.4 50.5h1v1h-1zM75.6 50.1h1v1h-1zM76.4 50.0h1v1h-1zM77.4 50.4h1v1h-1zM78.9 50.8h1v1h-1zM83.3 50.2h1v1h-1zM114.4 50.7h1v1h-1zM75.5 51.4h1v1h-1zM82.3 51.6h1v1h-1zM89.3 51.6h1v1h-1zM90.3 51.8h1v1h-1zM93.1 51.1h1v1h-1zM97.6 51.6h1v1h-1zM99.4 51.3h1v1h-1zM103.6 51.1h1v1h-1zM64.3 52.5h1v1h-1zM86.3 52.0h1v1h-1zM95.2 52.9h1v1h-1zM97.8 52.5h1v1h-1zM99.4 52.6h1v1h-1zM100.5 52.8h1v1h-1zM103.4 52.8h1v1h-1zM110.6 52.2h1v1h-1zM65.2 53.2h1v1h-1zM75.4 53.3h1v1h-1zM77.0 53.9h1v1h-1zM80.5 53.8h1v1h-1zM81.5 53.4h1v1h-1zM84.7 53.1h1v1h-1zM89.0 53.0h1v1h-1zM91.0 53.8h1v1h-1zM93.1 53.3h1v1h-1zM94.1 53.2h1v1h-1zM98.6 53.2h1v1h-1zM106.4 53.8h1v1h-1zM62.0 54.0h1v1h-1zM67.6 54.2h1v1h-1zM79.7 54.9h1v1h-1zM80.6 54.1h1v1h-1zM81.4 54.2h1v1h-1zM84.1 54.0h1v1h-1zM88.6 54.0h1v1h-1zM89.0 54.1h1v1h-1zM90.5 54.1h1v1h-1zM92.1 54.6h1v1h-1zM108.4 54.1h1v1h-1zM60.6 55.4h1v1h-1zM64.5 55.4h1v1h-1zM69.8 55.9h1v1h-1zM75.5 55.1h1v1h-1zM79.7 55.7h1v1h-1zM80.4 55.6h1v1h-1zM82.1 55.2h1v1h-1zM85.2 55.9h1v1h-1zM93.8 55.7h1v1h-1zM95.6 55.2h1v1h-1zM96.1 55.7h1v1h-1zM98.1 55.1h1v1h-1zM100.2 55.7h1v1h-1zM101.8 55.3h1v1h-1zM105.6 55.7h1v1h-1zM71.9 56.3h1v1h-1zM76.5 56.1h1v1h-1zM79.5 56.2h1v1h-1zM80.2 56.6h1v1h-1zM81.1 56.2h1v1h-1zM83.9 56.8h1v1h-1zM84.1 56.7h1v1h-1zM87.1 56.2h1v1h-1zM93.4 56.6h1v1h-1zM96.0 56.1h1v1h-1zM97.8 56.8h1v1h-1zM98.3 56.3h1v1h-1zM99.1 56.5h1v1h-1zM101.1 56.0h1v1h-1zM104.2 56.3h1v1h-1zM65.0 57.4h1v1h-1zM68.6 57.3h1v1h-1zM70.0 57.3h1v1h-1zM71.1 57.0h1v1h-1zM72.0 57.8h1v1h-1zM73.4 57.5h1v1h-1zM74.1 57.7h1v1h-1zM76.7 57.5h1v1h-1zM84.4 57.3h1v1h-1zM90.1 57.6h1v1h-1zM92.4 57.3h1v1h-1zM93.8 57.8h1v1h-1zM94.4 57.2h1v1h-1zM100.4 57.6h1v1h-1zM103.1 57.2h1v1h-1zM61.1 58.7h1v1h-1zM68.4 58.6h1v1h-1zM70.2 58.2h1v1h-1zM71.6 58.8h1v1h-1zM74.3 58.1h1v1h-1zM79.0 58.6h1v1h-1zM82.7 58.6h1v1h-1zM87.3 58.3h1v1h-1zM89.6 58.1h1v1h-1zM90.4 58.1h1v1h-1zM95.3 58.8h1v1h-1zM96.4 58.5h1v1h-1zM97.5 58.1h1v1h-1zM98.3 58.7h1v1h-1zM58.7 59.1h1v1h-1zM61.6 59.0h1v1h-1zM64.7 59.5h1v1h-1zM65.5 59.2h1v1h-1zM66.8 59.3h1v1h-1zM68.0 59.9h1v1h-1zM73.2 59.1h1v1h-1zM74.4 59.4h1v1h-1zM75.9 59.3h1v1h-1zM77.0 59.5h1v1h-1zM81.9 59.8h1v1h-1zM83.3 59.8h1v1h-1zM84.3 59.0h1v1h-1zM86.3 59.2h1v1h-1zM87.6 59.6h1v1h-1zM88.5 59.1h1v1h-1zM89.7 59.2h1v1h-1zM91.7 59.0h1v1h-1zM95.4 59.3h1v1h-1zM97.1 59.8h1v1h-1zM100.7 59.8h1v1h-1zM102.1 59.1h1v1h-1zM60.1 60.5h1v1h-1zM61.4 60.1h1v1h-1zM62.7 60.7h1v1h-1zM64.0 60.7h1v1h-1zM66.4 60.1h1v1h-1zM67.1 60.4h1v1h-1zM68.7 60.5h1v1h-1zM70.2 60.8h1v1h-1zM75.5 60.4h1v1h-1zM77.0 60.0h1v1h-1zM79.0 60.5h1v1h-1zM80.6 60.8h1v1h-1zM82.3 60.7h1v1h-1zM83.8 60.6h1v1h-1zM86.6 60.3h1v1h-1zM87.0 60.5h1v1h-1zM88.1 60.7h1v1h-1zM89.7 60.2h1v1h-1zM90.8 60.7h1v1h-1zM94.3 60.5h1v1h-1zM95.6 60.8h1v1h-1zM97.3 60.4h1v1h-1zM57.4 61.7h1v1h-1zM60.9 61.6h1v1h-1zM61.1 61.0h1v1h-1zM64.7 61.5h1v1h-1zM67.6 61.6h1v1h-1zM68.9 61.4h1v1h-1zM69.5 61.3h1v1h-1zM70.8 61.2h1v1h-1zM72.8 61.0h1v1h-1zM74.6 61.4h1v1h-1zM75.3 61.4h1v1h-1zM77.7 61.5h1v1h-1zM78.9 61.5h1v1h-1zM79.5 61.8h1v1h-1zM80.6 61.4h1v1h-1zM81.1 61.2h1v1h-1zM82.4 61.5h1v1h-1zM83.6 61.4h1v1h-1zM85.9 61.5h1v1h-1zM86.2 61.6h1v1h-1zM87.6 61.2h1v1h-1zM90.5 61.5h1v1h-1zM93.9 61.0h1v1h-1zM94.7 61.2h1v1h-1zM95.2 61.4h1v1h-1zM97.3 61.4h1v1h-1zM52.6 62.1h1v1h-1zM53.1 62.5h1v1h-1zM54.2 62.7h1v1h-1zM55.1 62.6h1v1h-1zM57.5 62.6h1v1h-1zM59.7 62.1h1v1h-1zM60.5 62.2h1v1h-1zM64.7 62.4h1v1h-1zM65.1 62.6h1v1h-1zM67.5 62.3h1v1h-1zM68.7 62.0h1v1h-1zM69.5 62.1h1v1h-1zM71.2 62.5h1v1h-1zM72.6 62.4h1v1h-1zM74.4 62.2h1v1h-1zM75.9 62.4h1v1h-1zM77.1 62.0h1v1h-1zM79.0 62.7h1v1h-1zM80.0 62.7h1v1h-1zM81.2 62.7h1v1h-1zM83.7 62.5h1v1h-1zM84.2 62.1h1v1h-1zM85.5 62.5h1v1h-1zM86.6 62.5h1v1h-1zM92.1 62.6h1v1h-1zM93.6 62.5h1v1h-1zM95.3 62.6h1v1h-1zM53.4 63.7h1v1h-1zM54.6 63.1h1v1h-1zM55.1 63.5h1v1h-1zM57.8 63.7h1v1h-1zM59.3 63.5h1v1h-1zM62.7 63.6h1v1h-1zM64.4 63.4h1v1h-1zM65.5 63.1h1v1h-1zM66.1 63.0h1v1h-1zM67.7 63.4h1v1h-1zM69.3 63.8h1v1h-1zM70.8 63.2h1v1h-1zM72.7 63.1h1v1h-1zM73.3 63.3h1v1h-1zM74.1 63.4h1v1h-1zM75.7 63.3h1v1h-1zM80.5 63.1h1v1h-1zM81.3 63.6h1v1h-1zM82.7 63.1h1v1h-1zM83.4 63.8h1v1h-1zM87.3 63.9h1v1h-1zM88.2 63.5h1v1h-1zM90.3 63.7h1v1h-1zM93.2 63.3h1v1h-1zM94.0 63.5h1v1h-1zM49.3 64.1h1v1h-1zM51.7 64.5h1v1h-1zM52.4 64.0h1v1h-1zM53.0 64.9h1v1h-1zM57.6 64.3h1v1h-1zM59.4 64.5h1v1h-1zM60.2 64.6h1v1h-1zM61.4 64.9h1v1h-1zM62.7 64.7h1v1h-1zM64.7 64.0h1v1h-1zM65.2 64.5h1v1h-1zM67.6 64.1h1v1h-1zM68.8 64.6h1v1h-1zM69.5 64.4h1v1h-1zM70.2 64.7h1v1h-1zM71.0 64.6h1v1h-1zM73.9 64.2h1v1h-1zM74.4 64.1h1v1h-1zM75.2 64.2h1v1h-1zM76.6 64.6h1v1h-1zM77.9 64.4h1v1h-1zM78.8 64.6h1v1h-1zM79.7 64.7h1v1h-1zM80.1 64.7h1v1h-1zM82.7 64.2h1v1h-1zM85.0 64.4h1v1h-1zM87.1 64.8h1v1h-1zM89.7 64.0h1v1h-1zM90.3 64.9h1v1h-1zM91.1 64.7h1v1h-1zM93.8 64.9h1v1h-1zM49.0 65.7h1v1h-1zM52.7 65.2h1v1h-1zM53.4 65.0h1v1h-1zM54.5 65.5h1v1h-1zM55.1 65.5h1v1h-1zM56.3 65.2h1v1h-1zM57.4 65.3h1v1h-1zM58.6 65.2h1v1h-1zM59.2 65.7h1v1h-1zM60.5 65.7h1v1h-1zM64.6 65.1h1v1h-1zM65.1 65.6h1v1h-1zM66.8 65.7h1v1h-1zM67.3 65.3h1v1h-1zM68.1 65.8h1v1h-1zM69.0 65.9h1v1h-1zM70.7 65.4h1v1h-1zM72.8 65.3h1v1h-1zM73.1 65.1h1v1h-1zM74.7 65.8h1v1h-1zM76.7 65.5h1v1h-1zM78.2 65.1h1v1h-1zM79.4 65.3h1v1h-1zM81.8 65.2h1v1h-1zM83.3 65.1h1v1h-1zM86.4 65.3h1v1h-1zM88.4 65.0h1v1h-1zM47.2 66.1h1v1h-1zM48.5 66.1h1v1h-1zM50.9 66.6h1v1h-1zM51.3 66.3h1v1h-1zM52.1 66.2h1v1h-1zM53.4 66.4h1v1h-1zM54.8 66.8h1v1h-1zM55.7 66.3h1v1h-1zM57.7 66.3h1v1h-1zM58.4 66.1h1v1h-1zM59.2 66.4h1v1h-1zM62.7 66.6h1v1h-1zM64.5 66.5h1v1h-1zM66.5 66.3h1v1h-1zM67.6 66.0h1v1h-1zM68.6 66.4h1v1h-1zM69.4 66.1h1v1h-1zM70.9 66.1h1v1h-1zM71.6 66.6h1v1h-1zM72.5 66.9h1v1h-1zM76.2 66.2h1v1h-1zM78.4 66.8h1v1h-1zM81.9 66.3h1v1h-1zM83.3 66.8h1v1h-1zM85.6 66.7h1v1h-1zM87.1 66.2h1v1h-1zM88.5 66.3h1v1h-1zM89.1 66.6h1v1h-1zM47.6 67.3h1v1h-1zM51.2 67.6h1v1h-1zM52.0 67.8h1v1h-1zM53.2 67.5h1v1h-1zM54.7 67.6h1v1h-1zM55.6 67.1h1v1h-1zM56.1 67.3h1v1h-1zM57.5 67.6h1v1h-1zM59.2 67.7h1v1h-1zM60.2 67.2h1v1h-1zM61.8 67.4h1v1h-1zM63.2 67.4h1v1h-1zM64.1 67.4h1v1h-1zM65.3 67.3h1v1h-1zM66.5 67.0h1v1h-1zM67.2 67.2h1v1h-1zM70.8 67.8h1v1h-1zM72.0 67.3h1v1h-1zM73.8 67.2h1v1h-1zM74.2 67.8h1v1h-1zM75.4 67.2h1v1h-1zM76.9 67.6h1v1h-1zM80.5 67.4h1v1h-1zM84.2 67.9h1v1h-1zM98.9 67.7h1v1h-1zM48.7 68.7h1v1h-1zM50.0 68.8h1v1h-1zM52.4 68.7h1v1h-1zM53.7 68.6h1v1h-1zM54.9 68.6h1v1h-1zM56.3 68.4h1v1h-1zM57.9 68.8h1v1h-1zM59.7 68.1h1v1h-1zM60.4 68.1h1v1h-1zM62.1 68.5h1v1h-1zM63.9 68.6h1v1h-1zM64.1 68.0h1v1h-1zM65.6 68.4h1v1h-1zM66.4 68.8h1v1h-1zM67.2 68.7h1v1h-1zM68.3 68.4h1v1h-1zM69.7 68.1h1v1h-1zM70.6 68.3h1v1h-1zM72.1 68.3h1v1h-1zM73.6 68.4h1v1h-1zM74.5 68.8h1v1h-1zM75.2 68.6h1v1h-1zM76.1 68.1h1v1h-1zM80.3 68.9h1v1h-1zM83.3 68.2h1v1h-1zM86.2 68.1h1v1h-1zM44.5 69.0h1v1h-1zM45.1 69.3h1v1h-1zM46.2 69.1h1v1h-1zM47.9 69.9h1v1h-1zM49.1 69.6h1v1h-1zM52.8 69.8h1v1h-1zM54.6 69.4h1v1h-1zM55.8 69.5h1v1h-1zM56.4 69.8h1v1h-1zM57.4 69.8h1v1h-1zM58.2 69.6h1v1h-1zM61.6 69.7h1v1h-1zM62.8 69.1h1v1h-1zM63.4 69.7h1v1h-1zM64.9 69.8h1v1h-1zM65.7 69.7h1v1h-1zM66.6 69.8h1v1h-1zM70.1 69.6h1v1h-1zM71.1 69.8h1v1h-1zM72.8 69.9h1v1h-1zM73.6 69.5h1v1h-1zM75.2 69.8h1v1h-1zM76.8 69.0h1v1h-1zM78.5 69.4h1v1h-1zM79.8 69.4h1v1h-1zM82.8 69.8h1v1h-1zM83.7 69.3h1v1h-1zM85.4 69.4h1v1h-1zM45.3 70.1h1v1h-1zM46.4 70.4h1v1h-1zM48.2 70.6h1v1h-1zM49.4 70.4h1v1h-1zM50.6 70.5h1v1h-1zM51.4 70.2h1v1h-1zM52.4 70.7h1v1h-1zM54.5 70.1h1v1h-1zM55.2 70.3h1v1h-1zM56.2 70.8h1v1h-1zM57.9 70.0h1v1h-1zM58.3 70.5h1v1h-1zM59.5 70.8h1v1h-1zM60.3 70.7h1v1h-1zM61.2 70.8h1v1h-1zM62.1 70.5h1v1h-1zM65.3 70.1h1v1h-1zM66.7 70.5h1v1h-1zM68.5 70.4h1v1h-1zM70.8 70.6h1v1h-1zM71.7 70.4h1v1h-1zM73.8 70.8h1v1h-1zM74.3 70.6h1v1h-1zM77.5 70.8h1v1h-1zM80.6 70.2h1v1h-1zM83.6 70.3h1v1h-1zM46.0 71.2h1v1h-1zM47.5 71.3h1v1h-1zM48.4 71.4h1v1h-1zM49.5 71.5h1v1h-1zM50.7 71.4h1v1h-1zM51.8 71.1h1v1h-1zM52.4 71.4h1v1h-1zM53.8 71.3h1v1h-1zM54.5 71.1h1v1h-1zM55.1 71.5h1v1h-1zM56.8 71.8h1v1h-1zM57.4 71.6h1v1h-1zM58.8 71.4h1v1h-1zM62.6 71.5h1v1h-1zM63.8 71.8h1v1h-1zM66.3 71.5h1v1h-1zM67.7 71.6h1v1h-1zM68.2 71.2h1v1h-1zM69.4 71.5h1v1h-1zM71.3 71.5h1v1h-1zM72.6 71.0h1v1h-1zM73.5 71.3h1v1h-1zM75.1 71.2h1v1h-1zM77.8 71.1h1v1h-1zM78.5 71.5h1v1h-1zM45.4 72.8h1v1h-1zM46.5 72.3h1v1h-1zM47.2 72.4h1v1h-1zM48.1 72.3h1v1h-1zM49.6 72.1h1v1h-1zM51.5 72.3h1v1h-1zM52.3 72.8h1v1h-1zM53.1 72.8h1v1h-1zM54.2 72.6h1v1h-1zM55.5 72.2h1v1h-1zM56.6 72.8h1v1h-1zM57.5 72.5h1v1h-1zM60.4 72.9h1v1h-1zM61.5 72.7h1v1h-1zM62.5 72.6h1v1h-1zM63.3 72.0h1v1h-1zM67.8 72.7h1v1h-1zM68.2 72.7h1v1h-1zM69.0 72.5h1v1h-1zM70.8 72.5h1v1h-1zM71.4 72.0h1v1h-1zM76.3 72.8h1v1h-1zM77.1 72.6h1v1h-1zM44.5 73.3h1v1h-1zM45.1 73.6h1v1h-1zM46.9 73.2h1v1h-1zM47.3 73.5h1v1h-1zM48.4 73.8h1v1h-1zM49.4 73.8h1v1h-1zM50.7 73.5h1v1h-1zM51.6 73.6h1v1h-1zM52.9 73.1h1v1h-1zM54.4 73.7h1v1h-1zM55.6 73.8h1v1h-1zM56.7 73.6h1v1h-1zM57.7 73.4h1v1h-1zM58.5 73.7h1v1h-1zM59.4 73.8h1v1h-1zM60.8 73.3h1v1h-1zM61.6 73.5h1v1h-1zM62.1 73.4h1v1h-1zM66.1 73.8h1v1h-1zM67.5 73.4h1v1h-1zM69.1 73.4h1v1h-1zM70.4 73.5h1v1h-1zM71.3 73.7h1v1h-1zM72.2 73.2h1v1h-1zM74.3 73.3h1v1h-1zM99.5 73.1h1v1h-1zM45.5 74.5h1v1h-1zM46.8 74.8h1v1h-1zM47.6 74.5h1v1h-1zM48.1 74.8h1v1h-1zM50.1 74.3h1v1h-1zM51.1 74.3h1v1h-1zM52.4 74.1h1v1h-1zM53.9 74.5h1v1h-1zM54.4 74.3h1v1h-1zM55.2 74.7h1v1h-1zM58.5 74.6h1v1h-1zM59.1 74.4h1v1h-1zM61.7 74.0h1v1h-1zM62.2 74.3h1v1h-1zM63.6 74.6h1v1h-1zM65.0 74.1h1v1h-1zM66.2 74.3h1v1h-1zM67.8 74.3h1v1h-1zM68.7 74.2h1v1h-1zM69.0 74.4h1v1h-1zM71.6 74.5h1v1h-1zM44.6 75.3h1v1h-1zM47.3 75.6h1v1h-1zM48.7 75.0h1v1h-1zM49.5 75.2h1v1h-1zM51.7 75.0h1v1h-1zM52.8 75.6h1v1h-1zM53.1 75.7h1v1h-1zM56.8 75.0h1v1h-1zM57.2 75.2h1v1h-1zM58.0 75.9h1v1h-1zM59.6 75.3h1v1h-1zM61.7 75.5h1v1h-1zM62.2 75.7h1v1h-1zM66.9 75.9h1v1h-1zM68.7 75.8h1v1h-1zM71.2 75.5h1v1h-1zM44.3 76.3h1v1h-1zM45.3 76.6h1v1h-1zM46.2 76.0h1v1h-1zM48.8 76.9h1v1h-1zM49.1 76.8h1v1h-1zM51.2 76.9h1v1h-1zM52.2 76.6h1v1h-1zM54.0 76.2h1v1h-1zM55.9 76.1h1v1h-1zM56.6 76.0h1v1h-1zM58.7 76.5h1v1h-1zM64.9 76.1h1v1h-1zM65.5 76.9h1v1h-1zM67.1 76.3h1v1h-1zM45.6 77.9h1v1h-1zM46.5 77.6h1v1h-1zM48.2 77.6h1v1h-1zM49.7 77.0h1v1h-1zM51.1 77.2h1v1h-1zM52.9 77.7h1v1h-1zM53.0 77.5h1v1h-1zM54.5 77.8h1v1h-1zM57.5 77.2h1v1h-1zM58.1 77.1h1v1h-1zM62.3 77.4h1v1h-1zM47.3 78.3h1v1h-1zM52.8 78.9h1v1h-1zM54.2 78.2h1v1h-1zM45.4 79.9h1v1h-1zM46.3 79.5h1v1h-1zM53.2 79.6h1v1h-1zM86.6 79.8h1v1h-1zM70.9 80.6h1v1h-1zM131.8 22.9h1v1h-1zM146.7 22.1h1v1h-1zM173.1 22.4h1v1h-1zM183.2 22.9h1v1h-1zM177.2 23.5h1v1h-1zM186.5 23.9h1v1h-1zM156.1 24.7h1v1h-1zM164.3 24.4h1v1h-1zM168.8 24.4h1v1h-1zM153.5 25.9h1v1h-1zM171.4 25.2h1v1h-1zM186.2 25.8h1v1h-1zM169.1 26.0h1v1h-1zM172.8 26.1h1v1h-1zM147.9 27.4h1v1h-1zM163.7 27.0h1v1h-1zM168.7 27.8h1v1h-1zM169.3 27.8h1v1h-1zM177.1 27.3h1v1h-1zM187.9 27.9h1v1h-1zM153.2 28.6h1v1h-1zM161.5 28.7h1v1h-1zM168.4 28.5h1v1h-1zM170.0 28.8h1v1h-1zM179.5 28.4h1v1h-1zM190.3 28.5h1v1h-1zM145.9 29.6h1v1h-1zM157.8 29.9h1v1h-1zM165.7 29.6h1v1h-1zM167.3 29.7h1v1h-1zM175.4 29.3h1v1h-1zM179.3 29.0h1v1h-1zM141.8 30.6h1v1h-1zM163.6 30.4h1v1h-1zM164.8 30.2h1v1h-1zM176.7 30.7h1v1h-1zM189.6 30.6h1v1h-1zM191.3 30.1h1v1h-1zM165.1 31.5h1v1h-1zM171.6 31.8h1v1h-1zM172.1 31.0h1v1h-1zM177.1 31.8h1v1h-1zM184.4 31.6h1v1h-1zM188.2 31.5h1v1h-1zM140.6 32.2h1v1h-1zM160.6 32.7h1v1h-1zM162.4 32.3h1v1h-1zM169.1 32.0h1v1h-1zM172.3 32.8h1v1h-1zM173.7 32.7h1v1h-1zM140.8 33.8h1v1h-1zM148.7 33.7h1v1h-1zM157.2 33.5h1v1h-1zM160.4 33.9h1v1h-1zM162.3 33.5h1v1h-1zM163.2 33.5h1v1h-1zM166.1 33.8h1v1h-1zM170.1 33.4h1v1h-1zM174.9 33.2h1v1h-1zM185.1 33.8h1v1h-1zM142.6 34.0h1v1h-1zM144.7 34.8h1v1h-1zM149.3 34.4h1v1h-1zM153.5 34.4h1v1h-1zM154.5 34.2h1v1h-1zM159.3 34.7h1v1h-1zM167.3 34.2h1v1h-1zM175.5 34.8h1v1h-1zM183.3 34.9h1v1h-1zM148.7 35.5h1v1h-1zM153.6 35.5h1v1h-1zM158.3 35.2h1v1h-1zM170.2 35.7h1v1h-1zM171.3 35.8h1v1h-1zM172.6 35.4h1v1h-1zM173.9 35.8h1v1h-1zM174.1 35.5h1v1h-1zM175.9 35.3h1v1h-1zM177.4 35.5h1v1h-1zM178.6 35.5h1v1h-1zM157.5 36.8h1v1h-1zM158.8 36.3h1v1h-1zM164.6 36.5h1v1h-1zM165.8 36.4h1v1h-1zM167.7 36.5h1v1h-1zM168.8 36.2h1v1h-1zM169.7 36.4h1v1h-1zM175.1 36.4h1v1h-1zM176.7 36.3h1v1h-1zM178.2 36.3h1v1h-1zM183.5 36.6h1v1h-1zM184.7 36.7h1v1h-1zM186.1 36.8h1v1h-1zM187.5 36.5h1v1h-1zM148.2 37.4h1v1h-1zM158.8 37.2h1v1h-1zM159.8 37.5h1v1h-1zM161.8 37.6h1v1h-1zM164.0 37.5h1v1h-1zM169.4 37.1h1v1h-1zM172.6 37.7h1v1h-1zM173.0 37.5h1v1h-1zM175.7 37.5h1v1h-1zM177.4 37.0h1v1h-1zM183.9 37.3h1v1h-1zM185.1 37.8h1v1h-1zM140.3 38.1h1v1h-1zM141.5 38.1h1v1h-1zM149.4 38.8h1v1h-1zM150.3 38.2h1v1h-1zM151.1 38.7h1v1h-1zM158.9 38.2h1v1h-1zM160.5 38.1h1v1h-1zM162.5 38.5h1v1h-1zM164.8 38.7h1v1h-1zM173.0 38.3h1v1h-1zM174.8 38.9h1v1h-1zM183.4 38.0h1v1h-1zM122.8 39.8h1v1h-1zM140.9 39.2h1v1h-1zM141.8 39.7h1v1h-1zM142.5 39.8h1v1h-1zM157.3 39.4h1v1h-1zM158.3 39.8h1v1h-1zM161.6 39.7h1v1h-1zM164.2 39.7h1v1h-1zM166.5 39.3h1v1h-1zM168.3 39.7h1v1h-1zM170.8 39.1h1v1h-1zM172.2 39.7h1v1h-1zM174.6 39.8h1v1h-1zM178.1 39.8h1v1h-1zM190.9 39.6h1v1h-1zM146.8 40.3h1v1h-1zM147.4 40.7h1v1h-1zM154.6 40.2h1v1h-1zM161.6 40.0h1v1h-1zM164.7 40.8h1v1h-1zM169.4 40.4h1v1h-1zM171.8 40.3h1v1h-1zM172.6 40.5h1v1h-1zM183.7 40.5h1v1h-1zM186.2 40.5h1v1h-1zM120.6 41.6h1v1h-1zM140.4 41.0h1v1h-1zM143.4 41.6h1v1h-1zM145.4 41.3h1v1h-1zM148.5 41.4h1v1h-1zM150.4 41.1h1v1h-1zM154.2 41.2h1v1h-1zM161.5 41.1h1v1h-1zM166.6 41.7h1v1h-1zM167.0 41.5h1v1h-1zM171.2 41.4h1v1h-1zM175.6 41.5h1v1h-1zM178.5 41.9h1v1h-1zM184.1 41.3h1v1h-1zM189.4 41.8h1v1h-1zM190.4 41.2h1v1h-1zM193.2 41.5h1v1h-1zM142.0 42.4h1v1h-1zM148.4 42.7h1v1h-1zM149.5 42.2h1v1h-1zM160.4 42.7h1v1h-1zM161.4 42.1h1v1h-1zM164.3 42.3h1v1h-1zM166.4 42.7h1v1h-1zM167.8 42.9h1v1h-1zM168.3 42.9h1v1h-1zM169.7 42.7h1v1h-1zM170.4 42.3h1v1h-1zM181.5 42.5h1v1h-1zM140.1 43.9h1v1h-1zM147.3 43.5h1v1h-1zM148.1 43.6h1v1h-1zM156.6 43.5h1v1h-1zM157.1 43.2h1v1h-1zM158.5 43.9h1v1h-1zM159.2 43.5h1v1h-1zM160.0 43.5h1v1h-1zM161.6 43.5h1v1h-1zM162.4 43.1h1v1h-1zM163.8 43.8h1v1h-1zM169.6 43.6h1v1h-1zM171.6 43.1h1v1h-1zM184.3 43.2h1v1h-1zM187.5 43.4h1v1h-1zM127.1 44.8h1v1h-1zM136.6 44.2h1v1h-1zM138.7 44.8h1v1h-1zM139.9 44.8h1v1h-1zM142.2 44.1h1v1h-1zM145.1 44.2h1v1h-1zM146.1 44.8h1v1h-1zM148.8 44.2h1v1h-1zM149.0 44.8h1v1h-1zM157.3 44.9h1v1h-1zM158.1 44.9h1v1h-1zM159.5 44.3h1v1h-1zM160.3 44.8h1v1h-1zM164.0 44.7h1v1h-1zM165.8 44.4h1v1h-1zM168.5 44.8h1v1h-1zM171.1 44.7h1v1h-1zM173.8 44.8h1v1h-1zM174.2 44.3h1v1h-1zM175.3 44.6h1v1h-1zM181.2 44.2h1v1h-1zM182.2 44.6h1v1h-1zM140.8 45.8h1v1h-1zM141.7 45.8h1v1h-1zM153.8 45.3h1v1h-1zM156.5 45.4h1v1h-1zM159.7 45.5h1v1h-1zM161.8 45.6h1v1h-1zM162.1 45.2h1v1h-1zM163.3 45.1h1v1h-1zM164.0 45.1h1v1h-1zM165.1 45.3h1v1h-1zM166.1 45.5h1v1h-1zM167.6 45.2h1v1h-1zM169.2 45.1h1v1h-1zM171.6 45.1h1v1h-1zM172.2 45.2h1v1h-1zM173.3 45.3h1v1h-1zM181.6 45.7h1v1h-1zM183.9 45.3h1v1h-1zM186.5 45.3h1v1h-1zM138.2 46.1h1v1h-1zM144.1 46.7h1v1h-1zM149.1 46.5h1v1h-1zM152.2 46.9h1v1h-1zM156.2 46.5h1v1h-1zM159.1 46.3h1v1h-1zM160.5 46.5h1v1h-1zM161.7 46.4h1v1h-1zM165.4 46.3h1v1h-1zM167.5 46.8h1v1h-1zM169.6 46.1h1v1h-1zM172.1 46.7h1v1h-1zM173.3 46.5h1v1h-1zM175.8 46.6h1v1h-1zM189.4 46.1h1v1h-1zM140.3 47.4h1v1h-1zM141.6 47.7h1v1h-1zM143.3 47.8h1v1h-1zM146.8 47.6h1v1h-1zM147.5 47.3h1v1h-1zM152.5 47.1h1v1h-1zM154.8 47.5h1v1h-1zM156.3 47.2h1v1h-1zM158.7 47.1h1v1h-1zM161.8 47.3h1v1h-1zM169.8 47.3h1v1h-1zM170.6 47.5h1v1h-1zM172.4 47.7h1v1h-1zM179.3 47.6h1v1h-1zM180.4 47.4h1v1h-1zM181.2 47.2h1v1h-1zM135.4 48.3h1v1h-1zM145.8 48.7h1v1h-1zM146.8 48.4h1v1h-1zM150.3 48.5h1v1h-1zM152.2 48.6h1v1h-1zM157.1 48.8h1v1h-1zM158.0 48.3h1v1h-1zM159.3 48.2h1v1h-1zM160.8 48.0h1v1h-1zM163.8 48.8h1v1h-1zM165.1 48.8h1v1h-1zM167.4 48.1h1v1h-1zM169.3 48.9h1v1h-1zM173.3 48.4h1v1h-1zM177.1 48.6h1v1h-1zM180.1 48.1h1v1h-1zM182.1 48.4h1v1h-1zM194.8 48.8h1v1h-1zM139.4 49.0h1v1h-1zM144.4 49.8h1v1h-1zM149.7 49.2h1v1h-1zM152.9 49.8h1v1h-1zM156.8 49.3h1v1h-1zM157.8 49.7h1v1h-1zM158.5 49.1h1v1h-1zM160.8 49.4h1v1h-1zM162.0 49.3h1v1h-1zM164.1 49.0h1v1h-1zM165.2 49.8h1v1h-1zM166.2 49.2h1v1h-1zM167.2 49.2h1v1h-1zM170.1 49.6h1v1h-1zM173.4 49.9h1v1h-1zM177.5 49.7h1v1h-1zM134.1 50.1h1v1h-1zM135.2 50.3h1v1h-1zM144.3 50.4h1v1h-1zM148.7 50.6h1v1h-1zM151.8 50.1h1v1h-1zM152.3 50.2h1v1h-1zM156.1 50.1h1v1h-1zM157.9 50.7h1v1h-1zM159.0 50.2h1v1h-1zM161.8 50.4h1v1h-1zM164.1 50.4h1v1h-1zM167.4 50.9h1v1h-1zM174.0 50.1h1v1h-1zM175.4 50.0h1v1h-1zM187.1 50.5h1v1h-1zM188.1 50.9h1v1h-1zM139.2 51.7h1v1h-1zM141.1 51.7h1v1h-1zM143.3 51.5h1v1h-1zM149.9 51.3h1v1h-1zM150.4 51.8h1v1h-1zM151.8 51.7h1v1h-1zM156.9 51.4h1v1h-1zM159.6 51.3h1v1h-1zM161.1 51.4h1v1h-1zM163.1 51.0h1v1h-1zM167.7 51.4h1v1h-1zM169.3 51.3h1v1h-1zM170.0 51.3h1v1h-1zM173.1 51.5h1v1h-1zM179.6 51.8h1v1h-1zM181.7 51.8h1v1h-1zM182.5 51.3h1v1h-1zM126.9 52.3h1v1h-1zM133.6 52.1h1v1h-1zM142.4 52.7h1v1h-1zM143.3 52.9h1v1h-1zM147.2 52.7h1v1h-1zM149.5 52.6h1v1h-1zM156.1 52.4h1v1h-1zM158.2 52.3h1v1h-1zM159.5 52.8h1v1h-1zM161.8 52.5h1v1h-1zM163.5 52.5h1v1h-1zM166.5 52.8h1v1h-1zM167.6 52.5h1v1h-1zM168.2 52.1h1v1h-1zM170.6 52.8h1v1h-1zM171.3 52.2h1v1h-1zM174.7 52.2h1v1h-1zM178.4 52.1h1v1h-1zM180.2 52.7h1v1h-1zM184.2 52.2h1v1h-1zM187.3 52.1h1v1h-1zM134.5 53.2h1v1h-1zM142.5 53.6h1v1h-1zM143.3 53.4h1v1h-1zM144.7 53.1h1v1h-1zM146.6 53.6h1v1h-1zM153.4 53.6h1v1h-1zM156.7 53.0h1v1h-1zM160.1 53.8h1v1h-1zM162.3 53.8h1v1h-1zM165.2 53.5h1v1h-1zM166.7 53.3h1v1h-1zM168.1 53.8h1v1h-1zM169.8 53.5h1v1h-1zM170.7 53.2h1v1h-1zM171.8 53.1h1v1h-1zM172.8 53.4h1v1h-1zM174.9 53.6h1v1h-1zM176.1 53.2h1v1h-1zM178.8 53.8h1v1h-1zM185.9 53.2h1v1h-1zM142.3 54.6h1v1h-1zM144.2 54.0h1v1h-1zM145.5 54.2h1v1h-1zM146.6 54.1h1v1h-1zM152.1 54.0h1v1h-1zM153.4 54.6h1v1h-1zM156.3 54.7h1v1h-1zM158.2 54.7h1v1h-1zM161.4 54.5h1v1h-1zM163.7 54.0h1v1h-1zM164.4 54.3h1v1h-1zM166.2 54.1h1v1h-1zM167.3 54.9h1v1h-1zM169.4 54.2h1v1h-1zM172.1 54.1h1v1h-1zM175.4 54.2h1v1h-1zM179.5 54.5h1v1h-1zM186.6 54.2h1v1h-1zM132.7 55.8h1v1h-1zM140.9 55.6h1v1h-1zM141.7 55.3h1v1h-1zM142.4 55.1h1v1h-1zM144.2 55.1h1v1h-1zM147.6 55.8h1v1h-1zM148.2 55.2h1v1h-1zM153.5 55.5h1v1h-1zM158.1 55.2h1v1h-1zM160.7 55.9h1v1h-1zM161.8 55.5h1v1h-1zM162.1 55.4h1v1h-1zM165.3 55.6h1v1h-1zM170.2 55.1h1v1h-1zM174.9 55.5h1v1h-1zM176.8 55.0h1v1h-1zM184.8 55.8h1v1h-1zM139.1 56.1h1v1h-1zM142.4 56.8h1v1h-1zM147.5 56.5h1v1h-1zM159.3 56.3h1v1h-1zM161.8 56.0h1v1h-1zM162.5 56.3h1v1h-1zM164.6 56.3h1v1h-1zM166.5 56.4h1v1h-1zM179.8 56.6h1v1h-1zM183.5 56.6h1v1h-1zM134.5 57.8h1v1h-1zM136.3 57.8h1v1h-1zM145.7 57.4h1v1h-1zM148.1 57.7h1v1h-1zM149.5 57.1h1v1h-1zM160.0 57.7h1v1h-1zM166.1 57.4h1v1h-1zM168.5 57.0h1v1h-1zM171.5 57.4h1v1h-1zM172.1 57.6h1v1h-1zM177.7 57.8h1v1h-1zM180.9 57.9h1v1h-1zM186.4 57.0h1v1h-1zM194.5 57.0h1v1h-1zM142.2 58.4h1v1h-1zM143.4 58.4h1v1h-1zM144.0 58.4h1v1h-1zM146.2 58.3h1v1h-1zM148.8 58.2h1v1h-1zM155.8 58.1h1v1h-1zM159.9 58.7h1v1h-1zM160.6 58.2h1v1h-1zM161.8 58.8h1v1h-1zM162.2 58.9h1v1h-1zM165.5 58.9h1v1h-1zM166.3 58.6h1v1h-1zM173.1 58.2h1v1h-1zM180.7 58.6h1v1h-1zM139.3 59.8h1v1h-1zM140.0 59.5h1v1h-1zM143.6 59.8h1v1h-1zM146.3 59.3h1v1h-1zM149.8 59.0h1v1h-1zM156.7 59.5h1v1h-1zM157.3 59.1h1v1h-1zM158.2 59.1h1v1h-1zM159.4 59.4h1v1h-1zM163.4 59.9h1v1h-1zM164.1 59.5h1v1h-1zM167.8 59.6h1v1h-1zM169.7 59.7h1v1h-1zM172.7 59.6h1v1h-1zM173.6 59.3h1v1h-1zM174.8 59.5h1v1h-1zM176.0 59.7h1v1h-1zM193.5 59.2h1v1h-1zM132.1 60.4h1v1h-1zM135.4 60.6h1v1h-1zM140.9 60.8h1v1h-1zM142.7 60.3h1v1h-1zM144.5 60.5h1v1h-1zM147.4 60.8h1v1h-1zM149.8 60.2h1v1h-1zM154.7 60.8h1v1h-1zM158.7 60.5h1v1h-1zM164.6 60.1h1v1h-1zM165.3 60.6h1v1h-1zM168.7 60.6h1v1h-1zM173.9 60.3h1v1h-1zM177.4 60.3h1v1h-1zM181.0 60.9h1v1h-1zM186.3 60.7h1v1h-1zM133.7 61.2h1v1h-1zM137.8 61.8h1v1h-1zM143.8 61.6h1v1h-1zM144.7 61.4h1v1h-1zM147.7 61.5h1v1h-1zM148.3 61.7h1v1h-1zM150.2 61.0h1v1h-1zM157.6 61.4h1v1h-1zM158.3 61.9h1v1h-1zM163.8 61.0h1v1h-1zM170.7 61.2h1v1h-1zM173.7 61.0h1v1h-1zM174.6 61.7h1v1h-1zM187.0 61.7h1v1h-1zM124.2 62.2h1v1h-1zM125.5 62.2h1v1h-1zM129.6 62.1h1v1h-1zM138.7 62.8h1v1h-1zM142.7 62.7h1v1h-1zM145.6 62.6h1v1h-1zM147.5 62.5h1v1h-1zM148.6 62.4h1v1h-1zM150.8 62.8h1v1h-1zM153.1 62.8h1v1h-1zM160.4 62.5h1v1h-1zM161.8 62.4h1v1h-1zM164.8 62.9h1v1h-1zM166.8 62.1h1v1h-1zM170.1 62.5h1v1h-1zM194.5 62.6h1v1h-1zM130.1 63.1h1v1h-1zM132.9 63.5h1v1h-1zM133.4 63.4h1v1h-1zM134.9 63.9h1v1h-1zM140.1 63.3h1v1h-1zM142.1 63.6h1v1h-1zM143.4 63.7h1v1h-1zM144.3 63.3h1v1h-1zM152.1 63.8h1v1h-1zM153.5 63.0h1v1h-1zM156.3 63.9h1v1h-1zM164.1 63.8h1v1h-1zM173.4 63.4h1v1h-1zM183.2 63.2h1v1h-1zM130.4 64.8h1v1h-1zM132.5 64.9h1v1h-1zM133.7 64.3h1v1h-1zM138.6 64.0h1v1h-1zM139.8 64.4h1v1h-1zM140.5 64.0h1v1h-1zM141.4 64.3h1v1h-1zM142.1 64.4h1v1h-1zM143.7 64.8h1v1h-1zM145.6 64.0h1v1h-1zM146.9 64.3h1v1h-1zM149.8 64.7h1v1h-1zM155.8 64.6h1v1h-1zM157.4 64.0h1v1h-1zM160.3 64.1h1v1h-1zM164.5 64.7h1v1h-1zM167.6 64.0h1v1h-1zM129.5 65.1h1v1h-1zM132.1 65.2h1v1h-1zM136.5 65.2h1v1h-1zM137.4 65.6h1v1h-1zM140.6 65.5h1v1h-1zM142.4 65.0h1v1h-1zM143.6 65.4h1v1h-1zM146.5 65.7h1v1h-1zM147.1 65.2h1v1h-1zM150.6 65.9h1v1h-1zM153.5 65.7h1v1h-1zM158.3 65.3h1v1h-1zM160.5 65.6h1v1h-1zM162.1 65.4h1v1h-1zM166.0 65.7h1v1h-1zM169.1 65.4h1v1h-1zM173.1 65.4h1v1h-1zM187.5 65.1h1v1h-1zM124.4 66.4h1v1h-1zM131.1 66.9h1v1h-1zM136.4 66.6h1v1h-1zM137.6 66.1h1v1h-1zM139.2 66.1h1v1h-1zM142.2 66.6h1v1h-1zM145.5 66.1h1v1h-1zM147.2 66.1h1v1h-1zM149.0 66.2h1v1h-1zM154.9 66.6h1v1h-1zM156.6 66.1h1v1h-1zM158.2 66.8h1v1h-1zM159.1 66.4h1v1h-1zM160.5 66.7h1v1h-1zM162.2 66.4h1v1h-1zM163.5 66.4h1v1h-1zM169.8 66.6h1v1h-1zM124.6 67.7h1v1h-1zM131.3 67.6h1v1h-1zM132.1 67.8h1v1h-1zM133.6 67.5h1v1h-1zM134.5 67.6h1v1h-1zM135.1 67.8h1v1h-1zM137.1 67.7h1v1h-1zM138.3 67.3h1v1h-1zM139.4 67.8h1v1h-1zM142.4 67.7h1v1h-1zM143.2 67.2h1v1h-1zM145.2 67.1h1v1h-1zM148.1 67.6h1v1h-1zM152.6 67.5h1v1h-1zM160.5 67.3h1v1h-1zM163.6 67.4h1v1h-1zM175.3 67.6h1v1h-1zM186.4 67.5h1v1h-1zM125.5 68.3h1v1h-1zM128.2 68.5h1v1h-1zM130.6 68.6h1v1h-1zM131.6 68.0h1v1h-1zM132.2 68.3h1v1h-1zM133.6 68.2h1v1h-1zM135.6 68.2h1v1h-1zM136.0 68.7h1v1h-1zM137.4 68.1h1v1h-1zM138.3 68.3h1v1h-1zM139.2 68.4h1v1h-1zM140.6 68.3h1v1h-1zM141.1 68.0h1v1h-1zM142.4 68.3h1v1h-1zM143.7 68.4h1v1h-1zM144.8 68.0h1v1h-1zM145.1 68.5h1v1h-1zM146.5 68.7h1v1h-1zM147.8 68.6h1v1h-1zM149.6 68.5h1v1h-1zM151.3 68.8h1v1h-1zM152.1 68.9h1v1h-1zM154.4 68.2h1v1h-1zM162.7 68.7h1v1h-1zM164.4 68.2h1v1h-1zM171.1 68.4h1v1h-1zM173.8 68.4h1v1h-1zM189.5 68.2h1v1h-1zM127.9 69.3h1v1h-1zM128.5 69.6h1v1h-1zM130.3 69.2h1v1h-1zM131.5 69.4h1v1h-1zM133.1 69.2h1v1h-1zM134.3 69.2h1v1h-1zM135.5 69.4h1v1h-1zM136.9 69.8h1v1h-1zM137.3 69.6h1v1h-1zM138.2 69.5h1v1h-1zM139.5 69.7h1v1h-1zM140.0 69.4h1v1h-1zM141.6 69.1h1v1h-1zM142.7 69.9h1v1h-1zM143.1 69.3h1v1h-1zM144.6 69.3h1v1h-1zM146.3 69.2h1v1h-1zM147.1 69.6h1v1h-1zM148.8 69.1h1v1h-1zM149.6 69.1h1v1h-1zM150.7 69.8h1v1h-1zM151.7 69.7h1v1h-1zM152.8 69.2h1v1h-1zM156.2 69.5h1v1h-1zM158.0 69.9h1v1h-1zM160.1 69.8h1v1h-1zM178.5 69.7h1v1h-1zM181.4 69.8h1v1h-1zM190.2 69.6h1v1h-1zM128.0 70.8h1v1h-1zM129.4 70.3h1v1h-1zM130.7 70.9h1v1h-1zM131.6 70.1h1v1h-1zM132.1 70.6h1v1h-1zM133.9 70.4h1v1h-1zM134.5 70.8h1v1h-1zM135.5 70.2h1v1h-1zM136.4 70.7h1v1h-1zM138.0 70.7h1v1h-1zM140.6 70.6h1v1h-1zM141.5 70.8h1v1h-1zM142.4 70.5h1v1h-1zM145.2 70.7h1v1h-1zM146.1 70.7h1v1h-1zM147.3 70.9h1v1h-1zM148.2 70.7h1v1h-1zM149.5 70.6h1v1h-1zM150.4 70.0h1v1h-1zM153.0 70.9h1v1h-1zM154.8 70.2h1v1h-1zM156.2 70.6h1v1h-1zM157.2 70.8h1v1h-1zM160.5 70.3h1v1h-1zM161.9 70.4h1v1h-1zM163.1 70.6h1v1h-1zM165.2 70.0h1v1h-1zM167.2 70.1h1v1h-1zM171.9 70.7h1v1h-1zM175.8 70.3h1v1h-1zM126.9 71.5h1v1h-1zM128.3 71.1h1v1h-1zM129.2 71.4h1v1h-1zM130.8 71.7h1v1h-1zM131.4 71.8h1v1h-1zM133.2 71.2h1v1h-1zM135.7 71.1h1v1h-1zM136.5 71.8h1v1h-1zM137.9 71.2h1v1h-1zM138.2 71.4h1v1h-1zM140.7 71.8h1v1h-1zM142.0 71.0h1v1h-1zM144.3 71.0h1v1h-1zM145.7 71.2h1v1h-1zM146.0 71.4h1v1h-1zM147.3 71.8h1v1h-1zM148.6 71.0h1v1h-1zM149.7 71.8h1v1h-1zM150.5 71.9h1v1h-1zM151.4 71.4h1v1h-1zM153.7 71.1h1v1h-1zM154.9 71.9h1v1h-1zM155.4 71.4h1v1h-1zM156.2 71.3h1v1h-1zM157.1 71.6h1v1h-1zM158.1 71.2h1v1h-1zM159.0 71.3h1v1h-1zM160.3 71.4h1v1h-1zM161.7 71.3h1v1h-1zM162.6 71.7h1v1h-1zM163.6 71.2h1v1h-1zM164.7 71.6h1v1h-1zM166.3 71.5h1v1h-1zM167.1 71.4h1v1h-1zM173.0 71.2h1v1h-1zM189.4 71.4h1v1h-1zM126.6 72.6h1v1h-1zM127.2 72.8h1v1h-1zM128.5 72.9h1v1h-1zM129.5 72.6h1v1h-1zM131.6 72.6h1v1h-1zM132.2 72.4h1v1h-1zM133.8 72.2h1v1h-1zM134.9 72.2h1v1h-1zM135.8 72.2h1v1h-1zM137.8 72.6h1v1h-1zM138.2 72.5h1v1h-1zM139.7 72.7h1v1h-1zM140.4 72.7h1v1h-1zM141.3 72.3h1v1h-1zM142.8 72.1h1v1h-1zM143.3 72.2h1v1h-1zM144.9 72.7h1v1h-1zM147.3 72.2h1v1h-1zM148.4 72.5h1v1h-1zM149.5 72.4h1v1h-1zM152.8 72.5h1v1h-1zM153.4 72.5h1v1h-1zM154.7 72.1h1v1h-1zM155.6 72.4h1v1h-1zM156.6 72.4h1v1h-1zM157.4 72.1h1v1h-1zM158.3 72.0h1v1h-1zM159.6 72.5h1v1h-1zM160.2 72.0h1v1h-1zM161.0 72.3h1v1h-1zM162.5 72.0h1v1h-1zM163.8 72.1h1v1h-1zM164.1 72.4h1v1h-1zM165.6 72.3h1v1h-1zM169.8 72.0h1v1h-1zM127.1 73.7h1v1h-1zM128.6 73.8h1v1h-1zM129.1 73.8h1v1h-1zM130.2 73.7h1v1h-1zM131.2 73.5h1v1h-1zM132.2 73.8h1v1h-1zM133.1 73.6h1v1h-1zM134.4 73.2h1v1h-1zM135.1 73.2h1v1h-1zM137.6 73.2h1v1h-1zM138.6 73.1h1v1h-1zM139.1 73.3h1v1h-1zM140.9 73.9h1v1h-1zM142.2 73.7h1v1h-1zM143.8 73.5h1v1h-1zM144.6 73.6h1v1h-1zM146.2 73.8h1v1h-1zM147.2 73.8h1v1h-1zM148.0 73.8h1v1h-1zM149.5 73.5h1v1h-1zM150.2 73.5h1v1h-1zM152.1 73.5h1v1h-1zM153.2 73.9h1v1h-1zM156.2 73.3h1v1h-1zM158.4 73.9h1v1h-1zM160.2 73.3h1v1h-1zM161.2 73.2h1v1h-1zM162.8 73.4h1v1h-1zM163.5 73.4h1v1h-1zM164.5 73.5h1v1h-1zM167.1 73.5h1v1h-1zM168.5 73.2h1v1h-1zM169.6 73.8h1v1h-1zM174.7 73.5h1v1h-1zM185.1 73.9h1v1h-1zM126.5 74.3h1v1h-1zM128.0 74.2h1v1h-1zM129.2 74.8h1v1h-1zM130.9 74.2h1v1h-1zM131.3 74.1h1v1h-1zM132.1 74.0h1v1h-1zM134.6 74.4h1v1h-1zM135.6 74.2h1v1h-1zM136.6 74.8h1v1h-1zM137.2 74.3h1v1h-1zM138.7 74.4h1v1h-1zM139.3 74.1h1v1h-1zM140.4 74.6h1v1h-1zM141.6 74.7h1v1h-1zM142.3 74.3h1v1h-1zM143.5 74.0h1v1h-1zM144.1 74.6h1v1h-1zM145.6 74.5h1v1h-1zM149.6 74.2h1v1h-1zM151.1 74.5h1v1h-1zM152.8 74.2h1v1h-1zM154.0 74.0h1v1h-1zM155.4 74.7h1v1h-1zM157.2 74.7h1v1h-1zM158.6 74.1h1v1h-1zM159.6 74.0h1v1h-1zM160.6 74.0h1v1h-1zM161.7 74.2h1v1h-1zM162.6 74.9h1v1h-1zM163.7 74.0h1v1h-1zM164.3 74.8h1v1h-1zM166.7 74.2h1v1h-1zM167.4 74.4h1v1h-1zM168.5 74.4h1v1h-1zM170.3 74.8h1v1h-1zM173.5 74.1h1v1h-1zM174.3 74.5h1v1h-1zM126.2 75.4h1v1h-1zM127.4 75.4h1v1h-1zM128.9 75.0h1v1h-1zM129.0 75.7h1v1h-1zM132.1 75.8h1v1h-1zM133.7 75.7h1v1h-1zM135.5 75.3h1v1h-1zM136.6 75.6h1v1h-1zM138.0 75.3h1v1h-1zM139.4 75.1h1v1h-1zM140.7 75.2h1v1h-1zM141.8 75.3h1v1h-1zM142.0 75.6h1v1h-1zM143.7 75.1h1v1h-1zM145.4 75.8h1v1h-1zM146.6 75.5h1v1h-1zM147.9 75.6h1v1h-1zM151.1 75.6h1v1h-1zM153.9 75.5h1v1h-1zM155.5 75.8h1v1h-1zM156.6 75.4h1v1h-1zM157.3 75.9h1v1h-1zM158.7 75.2h1v1h-1zM159.4 75.4h1v1h-1zM161.2 75.3h1v1h-1zM162.8 75.2h1v1h-1zM164.8 75.3h1v1h-1zM165.3 75.5h1v1h-1zM166.4 75.7h1v1h-1zM168.8 75.8h1v1h-1zM169.7 75.1h1v1h-1zM170.3 75.5h1v1h-1zM171.3 75.2h1v1h-1zM127.3 76.6h1v1h-1zM128.1 76.6h1v1h-1zM129.2 76.2h1v1h-1zM130.0 76.4h1v1h-1zM131.5 76.3h1v1h-1zM132.5 76.1h1v1h-1zM135.1 76.6h1v1h-1zM136.1 76.6h1v1h-1zM137.5 76.3h1v1h-1zM139.8 76.9h1v1h-1zM140.6 76.6h1v1h-1zM142.4 76.6h1v1h-1zM143.4 76.3h1v1h-1zM145.3 76.7h1v1h-1zM146.7 76.7h1v1h-1zM147.6 76.1h1v1h-1zM148.2 76.0h1v1h-1zM150.4 76.3h1v1h-1zM151.7 76.2h1v1h-1zM153.3 76.8h1v1h-1zM154.5 76.5h1v1h-1zM155.8 76.5h1v1h-1zM157.7 76.8h1v1h-1zM159.0 76.7h1v1h-1zM162.8 76.4h1v1h-1zM164.5 76.3h1v1h-1zM165.8 76.7h1v1h-1zM168.4 76.9h1v1h-1zM126.4 77.6h1v1h-1zM127.9 77.6h1v1h-1zM128.1 77.3h1v1h-1zM129.1 77.4h1v1h-1zM132.4 77.4h1v1h-1zM133.2 77.1h1v1h-1zM136.5 77.3h1v1h-1zM137.1 77.9h1v1h-1zM138.1 77.1h1v1h-1zM142.0 77.9h1v1h-1zM143.5 77.3h1v1h-1zM145.2 77.6h1v1h-1zM146.8 77.1h1v1h-1zM148.6 77.3h1v1h-1zM151.0 77.3h1v1h-1zM152.6 77.5h1v1h-1zM153.5 77.0h1v1h-1zM154.7 77.4h1v1h-1zM155.4 77.5h1v1h-1zM156.7 77.0h1v1h-1zM157.4 77.3h1v1h-1zM162.0 77.3h1v1h-1zM164.7 77.2h1v1h-1zM184.3 77.1h1v1h-1zM125.2 78.3h1v1h-1zM128.2 78.7h1v1h-1zM129.8 78.3h1v1h-1zM130.4 78.6h1v1h-1zM131.1 78.5h1v1h-1zM132.2 78.3h1v1h-1zM134.8 78.2h1v1h-1zM135.7 78.7h1v1h-1zM138.8 78.6h1v1h-1zM139.0 78.8h1v1h-1zM141.8 78.9h1v1h-1zM142.8 78.5h1v1h-1zM143.8 78.7h1v1h-1zM147.7 78.5h1v1h-1zM148.8 78.1h1v1h-1zM149.3 78.3h1v1h-1zM152.2 78.7h1v1h-1zM156.1 78.2h1v1h-1zM190.9 78.7h1v1h-1zM126.0 79.2h1v1h-1zM127.5 79.8h1v1h-1zM128.7 79.6h1v1h-1zM129.2 79.5h1v1h-1zM130.2 79.5h1v1h-1zM131.4 79.5h1v1h-1zM132.8 79.4h1v1h-1zM133.1 79.2h1v1h-1zM134.7 79.1h1v1h-1zM135.8 79.8h1v1h-1zM138.4 79.9h1v1h-1zM139.8 79.7h1v1h-1zM142.8 79.5h1v1h-1zM143.7 79.6h1v1h-1zM145.3 79.6h1v1h-1zM147.3 79.5h1v1h-1zM148.2 79.8h1v1h-1zM150.5 79.1h1v1h-1zM151.5 79.4h1v1h-1zM179.2 79.1h1v1h-1zM183.5 79.9h1v1h-1zM128.8 80.6h1v1h-1zM130.4 80.1h1v1h-1zM134.1 80.6h1v1h-1zM137.2 80.7h1v1h-1zM139.2 80.1h1v1h-1zM147.3 80.5h1v1h-1zM134.1 81.2h1v1h-1zM130.9 82.8h1v1h-1zM223.3 22.4h1v1h-1zM236.1 24.7h1v1h-1zM261.6 24.4h1v1h-1zM228.1 26.1h1v1h-1zM232.6 26.8h1v1h-1zM249.6 26.4h1v1h-1zM255.3 26.5h1v1h-1zM241.1 27.3h1v1h-1zM263.6 27.0h1v1h-1zM227.7 28.8h1v1h-1zM248.9 28.4h1v1h-1zM259.5 28.5h1v1h-1zM262.4 28.9h1v1h-1zM234.3 29.2h1v1h-1zM236.7 29.5h1v1h-1zM246.6 29.6h1v1h-1zM249.5 29.7h1v1h-1zM250.8 29.3h1v1h-1zM222.8 30.6h1v1h-1zM232.5 30.0h1v1h-1zM238.0 30.0h1v1h-1zM249.4 30.1h1v1h-1zM268.4 30.8h1v1h-1zM230.4 31.2h1v1h-1zM233.6 31.3h1v1h-1zM237.2 31.0h1v1h-1zM243.8 31.2h1v1h-1zM267.5 31.3h1v1h-1zM234.8 32.8h1v1h-1zM236.2 32.5h1v1h-1zM243.6 32.4h1v1h-1zM248.4 32.9h1v1h-1zM254.2 32.8h1v1h-1zM264.6 32.1h1v1h-1zM227.8 33.3h1v1h-1zM229.4 33.1h1v1h-1zM233.5 33.1h1v1h-1zM236.8 33.3h1v1h-1zM242.5 33.4h1v1h-1zM243.7 33.5h1v1h-1zM251.6 33.0h1v1h-1zM230.4 34.5h1v1h-1zM236.2 34.7h1v1h-1zM238.2 34.1h1v1h-1zM245.8 34.8h1v1h-1zM249.7 34.4h1v1h-1zM263.0 34.6h1v1h-1zM264.5 34.4h1v1h-1zM236.8 35.1h1v1h-1zM246.2 35.9h1v1h-1zM253.6 35.4h1v1h-1zM232.0 36.3h1v1h-1zM235.7 36.7h1v1h-1zM238.7 36.8h1v1h-1zM240.7 36.6h1v1h-1zM244.3 36.3h1v1h-1zM253.5 36.6h1v1h-1zM226.7 37.6h1v1h-1zM233.6 37.9h1v1h-1zM236.2 37.8h1v1h-1zM248.1 37.6h1v1h-1zM249.6 37.2h1v1h-1zM250.9 37.0h1v1h-1zM254.1 37.2h1v1h-1zM258.1 37.5h1v1h-1zM259.4 37.3h1v1h-1zM267.6 37.6h1v1h-1zM233.5 38.3h1v1h-1zM235.7 38.9h1v1h-1zM236.2 38.5h1v1h-1zM237.6 38.7h1v1h-1zM238.3 38.8h1v1h-1zM240.4 38.5h1v1h-1zM243.6 38.5h1v1h-1zM246.4 38.1h1v1h-1zM261.6 38.1h1v1h-1zM229.2 39.8h1v1h-1zM235.4 39.6h1v1h-1zM239.5 39.4h1v1h-1zM241.7 39.4h1v1h-1zM249.6 39.4h1v1h-1zM262.1 39.4h1v1h-1zM266.8 39.0h1v1h-1zM255.5 40.1h1v1h-1zM270.3 40.8h1v1h-1zM241.5 41.3h1v1h-1zM252.5 41.4h1v1h-1zM272.9 41.3h1v1h-1zM228.1 42.3h1v1h-1zM235.6 42.8h1v1h-1zM240.3 42.8h1v1h-1zM245.4 42.4h1v1h-1zM249.1 42.2h1v1h-1zM251.1 42.4h1v1h-1zM256.3 42.1h1v1h-1zM258.5 42.0h1v1h-1zM241.4 43.2h1v1h-1zM244.2 43.7h1v1h-1zM255.2 43.8h1v1h-1zM217.5 44.4h1v1h-1zM227.5 44.9h1v1h-1zM231.1 44.6h1v1h-1zM237.4 44.1h1v1h-1zM239.5 44.9h1v1h-1zM241.8 44.8h1v1h-1zM248.9 44.7h1v1h-1zM258.3 44.8h1v1h-1zM264.6 44.4h1v1h-1zM266.7 44.2h1v1h-1zM270.5 44.2h1v1h-1zM272.7 44.9h1v1h-1zM234.7 45.3h1v1h-1zM246.7 45.3h1v1h-1zM252.1 45.0h1v1h-1zM233.2 46.7h1v1h-1zM234.1 46.6h1v1h-1zM235.5 46.7h1v1h-1zM236.6 46.1h1v1h-1zM241.2 46.2h1v1h-1zM243.6 46.6h1v1h-1zM244.9 46.8h1v1h-1zM247.3 46.3h1v1h-1zM254.2 46.6h1v1h-1zM255.2 46.1h1v1h-1zM264.1 46.6h1v1h-1zM265.4 46.6h1v1h-1zM227.8 47.6h1v1h-1zM236.1 47.2h1v1h-1zM248.2 47.7h1v1h-1zM250.5 47.8h1v1h-1zM263.5 47.6h1v1h-1zM264.9 47.6h1v1h-1zM266.2 47.6h1v1h-1zM230.5 48.6h1v1h-1zM236.2 48.0h1v1h-1zM246.8 48.8h1v1h-1zM250.9 48.2h1v1h-1zM256.4 48.6h1v1h-1zM261.9 48.6h1v1h-1zM217.4 49.7h1v1h-1zM233.8 49.2h1v1h-1zM238.7 49.5h1v1h-1zM240.4 49.1h1v1h-1zM242.0 49.6h1v1h-1zM245.3 49.6h1v1h-1zM251.2 49.1h1v1h-1zM254.7 49.5h1v1h-1zM258.4 49.5h1v1h-1zM267.6 49.0h1v1h-1zM268.5 49.3h1v1h-1zM273.3 49.1h1v1h-1zM240.4 50.2h1v1h-1zM245.0 50.4h1v1h-1zM247.3 50.3h1v1h-1zM249.7 50.8h1v1h-1zM259.6 50.7h1v1h-1zM260.5 50.6h1v1h-1zM261.7 50.4h1v1h-1zM262.1 50.9h1v1h-1zM265.5 50.8h1v1h-1zM234.1 51.4h1v1h-1zM251.4 51.1h1v1h-1zM257.3 51.5h1v1h-1zM260.4 51.3h1v1h-1zM261.8 51.5h1v1h-1zM233.6 52.8h1v1h-1zM235.5 52.1h1v1h-1zM236.6 52.5h1v1h-1zM243.4 52.6h1v1h-1zM254.9 52.8h1v1h-1zM255.6 52.8h1v1h-1zM256.8 52.2h1v1h-1zM258.9 52.2h1v1h-1zM265.3 52.2h1v1h-1zM267.8 52.6h1v1h-1zM270.9 52.4h1v1h-1zM227.5 53.8h1v1h-1zM231.3 53.2h1v1h-1zM233.4 53.4h1v1h-1zM240.6 53.7h1v1h-1zM243.0 53.7h1v1h-1zM245.2 53.7h1v1h-1zM250.2 53.4h1v1h-1zM252.3 53.2h1v1h-1zM254.8 53.2h1v1h-1zM256.3 53.0h1v1h-1zM263.4 53.3h1v1h-1zM232.2 54.8h1v1h-1zM233.4 54.4h1v1h-1zM238.9 54.7h1v1h-1zM248.3 54.3h1v1h-1zM252.5 54.4h1v1h-1zM255.5 54.7h1v1h-1zM257.5 54.5h1v1h-1zM259.8 54.7h1v1h-1zM262.3 54.3h1v1h-1zM221.7 55.8h1v1h-1zM224.1 55.3h1v1h-1zM225.0 55.3h1v1h-1zM240.1 55.2h1v1h-1zM249.1 55.0h1v1h-1zM251.3 55.7h1v1h-1zM254.4 55.8h1v1h-1zM255.4 55.2h1v1h-1zM260.1 55.7h1v1h-1zM262.7 55.3h1v1h-1zM267.1 55.1h1v1h-1zM232.0 56.4h1v1h-1zM237.7 56.6h1v1h-1zM244.9 56.6h1v1h-1zM245.0 56.5h1v1h-1zM246.3 56.8h1v1h-1zM249.6 56.6h1v1h-1zM251.1 56.3h1v1h-1zM252.4 56.3h1v1h-1zM253.7 56.8h1v1h-1zM254.9 56.4h1v1h-1zM255.5 56.6h1v1h-1zM256.2 56.6h1v1h-1zM257.3 56.7h1v1h-1zM258.7 56.9h1v1h-1zM259.6 56.4h1v1h-1zM262.8 56.5h1v1h-1zM224.3 57.4h1v1h-1zM226.3 57.5h1v1h-1zM233.4 57.6h1v1h-1zM240.8 57.1h1v1h-1zM244.7 57.7h1v1h-1zM250.4 57.2h1v1h-1zM253.7 57.2h1v1h-1zM254.8 57.9h1v1h-1zM256.7 57.3h1v1h-1zM257.2 57.3h1v1h-1zM260.1 57.2h1v1h-1zM227.2 58.5h1v1h-1zM236.5 58.6h1v1h-1zM238.3 58.9h1v1h-1zM242.9 58.1h1v1h-1zM243.1 58.6h1v1h-1zM244.1 58.1h1v1h-1zM247.8 58.7h1v1h-1zM248.3 58.1h1v1h-1zM250.3 58.3h1v1h-1zM251.9 58.7h1v1h-1zM252.1 58.4h1v1h-1zM253.1 58.2h1v1h-1zM254.6 58.5h1v1h-1zM257.1 58.3h1v1h-1zM260.9 58.8h1v1h-1zM223.4 59.5h1v1h-1zM234.1 59.6h1v1h-1zM236.8 59.9h1v1h-1zM237.7 59.1h1v1h-1zM238.9 59.8h1v1h-1zM240.6 59.6h1v1h-1zM242.1 59.6h1v1h-1zM243.2 59.3h1v1h-1zM244.9 59.4h1v1h-1zM246.7 59.1h1v1h-1zM248.2 59.8h1v1h-1zM249.0 59.1h1v1h-1zM250.4 59.7h1v1h-1zM251.6 59.8h1v1h-1zM252.1 59.2h1v1h-1zM256.7 59.2h1v1h-1zM257.3 59.5h1v1h-1zM258.2 59.4h1v1h-1zM223.1 60.1h1v1h-1zM226.8 60.8h1v1h-1zM228.1 60.1h1v1h-1zM232.4 60.3h1v1h-1zM233.7 60.8h1v1h-1zM238.7 60.5h1v1h-1zM239.3 60.8h1v1h-1zM240.5 60.0h1v1h-1zM241.5 60.1h1v1h-1zM245.0 60.0h1v1h-1zM249.3 60.7h1v1h-1zM250.1 60.2h1v1h-1zM252.2 60.4h1v1h-1zM253.2 60.1h1v1h-1zM221.7 61.8h1v1h-1zM223.0 61.8h1v1h-1zM224.6 61.2h1v1h-1zM226.2 61.1h1v1h-1zM227.2 61.0h1v1h-1zM230.8 61.4h1v1h-1zM232.1 61.3h1v1h-1zM234.6 61.2h1v1h-1zM235.2 61.6h1v1h-1zM236.5 61.2h1v1h-1zM238.3 61.6h1v1h-1zM239.8 61.1h1v1h-1zM244.6 61.7h1v1h-1zM245.1 61.6h1v1h-1zM247.4 61.3h1v1h-1zM249.7 61.6h1v1h-1zM250.2 61.8h1v1h-1zM253.6 61.4h1v1h-1zM214.9 62.8h1v1h-1zM222.0 62.8h1v1h-1zM223.3 62.3h1v1h-1zM224.7 62.4h1v1h-1zM226.2 62.8h1v1h-1zM227.4 62.5h1v1h-1zM229.9 62.7h1v1h-1zM230.2 62.9h1v1h-1zM232.3 62.6h1v1h-1zM233.1 62.7h1v1h-1zM235.4 62.4h1v1h-1zM237.7 62.8h1v1h-1zM238.5 62.2h1v1h-1zM239.2 62.5h1v1h-1zM240.6 62.6h1v1h-1zM241.7 62.1h1v1h-1zM244.5 62.8h1v1h-1zM245.4 62.7h1v1h-1zM246.8 62.5h1v1h-1zM247.8 62.2h1v1h-1zM252.4 62.9h1v1h-1zM253.2 62.1h1v1h-1zM257.7 62.3h1v1h-1zM218.8 63.3h1v1h-1zM219.5 63.3h1v1h-1zM222.1 63.5h1v1h-1zM223.2 63.3h1v1h-1zM224.2 63.9h1v1h-1zM225.4 63.5h1v1h-1zM226.9 63.2h1v1h-1zM227.7 63.4h1v1h-1zM228.5 63.0h1v1h-1zM229.6 63.4h1v1h-1zM231.8 63.2h1v1h-1zM236.6 63.8h1v1h-1zM237.3 63.2h1v1h-1zM239.3 63.0h1v1h-1zM240.4 63.8h1v1h-1zM241.7 63.7h1v1h-1zM243.1 63.9h1v1h-1zM249.0 63.1h1v1h-1zM256.3 63.2h1v1h-1zM215.5 64.2h1v1h-1zM218.6 64.5h1v1h-1zM220.8 64.8h1v1h-1zM221.1 64.6h1v1h-1zM224.3 64.2h1v1h-1zM225.2 64.1h1v1h-1zM226.6 64.6h1v1h-1zM227.6 64.1h1v1h-1zM228.5 64.4h1v1h-1zM229.2 64.8h1v1h-1zM231.5 64.9h1v1h-1zM232.0 64.8h1v1h-1zM233.1 64.7h1v1h-1zM234.2 64.1h1v1h-1zM235.3 64.6h1v1h-1zM238.6 64.2h1v1h-1zM239.6 64.4h1v1h-1zM240.7 64.2h1v1h-1zM244.0 64.5h1v1h-1zM245.4 64.2h1v1h-1zM247.8 64.2h1v1h-1zM248.0 64.2h1v1h-1zM214.1 65.3h1v1h-1zM218.8 65.3h1v1h-1zM221.7 65.7h1v1h-1zM222.3 65.8h1v1h-1zM225.9 65.3h1v1h-1zM226.8 65.6h1v1h-1zM227.4 65.1h1v1h-1zM229.2 65.4h1v1h-1zM230.6 65.0h1v1h-1zM231.6 65.6h1v1h-1zM232.6 65.3h1v1h-1zM233.7 65.3h1v1h-1zM234.5 65.8h1v1h-1zM235.5 65.2h1v1h-1zM236.2 65.5h1v1h-1zM237.2 65.6h1v1h-1zM238.5 65.6h1v1h-1zM239.8 65.5h1v1h-1zM240.0 65.1h1v1h-1zM241.5 65.6h1v1h-1zM242.4 65.6h1v1h-1zM246.9 65.8h1v1h-1zM248.2 65.8h1v1h-1zM212.3 66.2h1v1h-1zM213.1 66.3h1v1h-1zM214.9 66.5h1v1h-1zM217.9 66.8h1v1h-1zM218.0 66.8h1v1h-1zM219.8 66.8h1v1h-1zM221.5 66.8h1v1h-1zM225.9 66.0h1v1h-1zM226.0 66.5h1v1h-1zM227.7 66.8h1v1h-1zM228.7 66.1h1v1h-1zM229.1 66.7h1v1h-1zM230.9 66.5h1v1h-1zM231.2 66.3h1v1h-1zM232.3 66.4h1v1h-1zM234.2 66.3h1v1h-1zM235.2 66.3h1v1h-1zM236.8 66.7h1v1h-1zM237.5 66.4h1v1h-1zM238.7 66.2h1v1h-1zM239.5 66.5h1v1h-1zM240.2 66.6h1v1h-1zM242.4 66.2h1v1h-1zM243.6 66.3h1v1h-1zM244.0 66.8h1v1h-1zM245.9 66.6h1v1h-1zM247.8 66.6h1v1h-1zM213.4 67.7h1v1h-1zM214.8 67.2h1v1h-1zM215.3 67.4h1v1h-1zM218.1 67.2h1v1h-1zM219.0 67.3h1v1h-1zM220.7 67.4h1v1h-1zM221.7 67.4h1v1h-1zM222.5 67.0h1v1h-1zM223.9 67.5h1v1h-1zM224.1 67.1h1v1h-1zM225.3 67.5h1v1h-1zM226.8 67.7h1v1h-1zM227.2 67.3h1v1h-1zM229.8 67.8h1v1h-1zM230.8 67.6h1v1h-1zM231.6 67.8h1v1h-1zM232.2 67.9h1v1h-1zM236.4 67.9h1v1h-1zM237.5 67.7h1v1h-1zM238.2 67.7h1v1h-1zM241.6 67.4h1v1h-1zM242.0 67.2h1v1h-1zM243.8 67.3h1v1h-1zM256.8 67.5h1v1h-1zM257.5 67.8h1v1h-1zM209.9 68.0h1v1h-1zM210.3 68.2h1v1h-1zM211.8 68.8h1v1h-1zM212.8 68.9h1v1h-1zM213.5 68.9h1v1h-1zM214.8 68.3h1v1h-1zM216.5 68.6h1v1h-1zM217.7 68.4h1v1h-1zM219.5 68.2h1v1h-1zM220.7 68.0h1v1h-1zM221.6 68.0h1v1h-1zM222.1 68.5h1v1h-1zM224.2 68.6h1v1h-1zM225.8 68.6h1v1h-1zM226.1 68.7h1v1h-1zM227.8 68.2h1v1h-1zM228.8 68.2h1v1h-1zM229.8 68.9h1v1h-1zM230.3 68.2h1v1h-1zM231.0 68.2h1v1h-1zM233.2 68.9h1v1h-1zM234.2 68.7h1v1h-1zM235.6 68.3h1v1h-1zM236.2 68.7h1v1h-1zM238.6 68.1h1v1h-1zM239.9 68.2h1v1h-1zM242.5 68.1h1v1h-1zM243.1 68.5h1v1h-1zM257.2 68.2h1v1h-1zM209.3 69.4h1v1h-1zM211.2 69.3h1v1h-1zM212.5 69.2h1v1h-1zM213.4 69.9h1v1h-1zM214.3 69.2h1v1h-1zM215.3 69.6h1v1h-1zM216.8 69.4h1v1h-1zM217.4 69.8h1v1h-1zM218.4 69.3h1v1h-1zM219.5 69.4h1v1h-1zM220.5 69.2h1v1h-1zM221.2 69.4h1v1h-1zM222.4 69.5h1v1h-1zM223.2 69.8h1v1h-1zM224.4 69.6h1v1h-1zM225.1 69.7h1v1h-1zM226.3 69.2h1v1h-1zM228.5 69.6h1v1h-1zM229.2 69.1h1v1h-1zM230.9 69.0h1v1h-1zM231.3 69.9h1v1h-1zM232.1 69.4h1v1h-1zM234.4 69.8h1v1h-1zM235.0 69.2h1v1h-1zM236.0 69.0h1v1h-1zM237.8 69.6h1v1h-1zM238.8 69.7h1v1h-1zM240.3 69.3h1v1h-1zM208.3 70.7h1v1h-1zM209.1 70.8h1v1h-1zM210.4 70.0h1v1h-1zM211.3 70.4h1v1h-1zM212.1 70.7h1v1h-1zM213.8 70.4h1v1h-1zM214.6 70.3h1v1h-1zM215.8 70.8h1v1h-1zM216.3 70.7h1v1h-1zM217.7 70.1h1v1h-1zM218.3 70.5h1v1h-1zM219.2 70.3h1v1h-1zM220.4 70.6h1v1h-1zM221.6 70.6h1v1h-1zM222.3 70.3h1v1h-1zM223.7 70.3h1v1h-1zM224.3 70.6h1v1h-1zM227.8 70.2h1v1h-1zM228.2 70.4h1v1h-1zM229.6 70.6h1v1h-1zM230.1 70.3h1v1h-1zM231.2 70.6h1v1h-1zM234.1 70.7h1v1h-1zM235.1 70.1h1v1h-1zM236.3 70.8h1v1h-1zM238.2 70.1h1v1h-1zM239.5 70.4h1v1h-1zM240.7 70.5h1v1h-1zM205.5 71.1h1v1h-1zM206.2 71.3h1v1h-1zM207.2 71.7h1v1h-1zM208.1 71.6h1v1h-1zM209.1 71.8h1v1h-1zM210.1 71.9h1v1h-1zM211.1 71.5h1v1h-1zM212.4 71.3h1v1h-1zM213.3 71.4h1v1h-1zM214.6 71.7h1v1h-1zM215.3 71.6h1v1h-1zM216.2 71.6h1v1h-1zM217.1 71.3h1v1h-1zM218.1 71.4h1v1h-1zM219.2 71.0h1v1h-1zM220.1 71.8h1v1h-1zM221.1 71.4h1v1h-1zM222.2 71.7h1v1h-1zM228.6 71.0h1v1h-1zM229.7 71.2h1v1h-1zM231.6 71.8h1v1h-1zM233.7 71.2h1v1h-1zM234.7 71.3h1v1h-1zM235.8 71.8h1v1h-1zM236.9 71.7h1v1h-1zM239.9 71.3h1v1h-1zM240.4 71.2h1v1h-1zM209.1 72.3h1v1h-1zM211.5 72.0h1v1h-1zM212.1 72.6h1v1h-1zM213.5 72.8h1v1h-1zM214.3 72.7h1v1h-1zM215.9 72.0h1v1h-1zM216.5 72.4h1v1h-1zM217.6 72.1h1v1h-1zM218.1 72.5h1v1h-1zM219.8 72.4h1v1h-1zM220.6 72.8h1v1h-1zM221.4 72.7h1v1h-1zM223.6 72.6h1v1h-1zM224.8 72.6h1v1h-1zM226.8 72.9h1v1h-1zM227.3 72.1h1v1h-1zM228.5 72.6h1v1h-1zM229.6 72.4h1v1h-1zM230.4 72.5h1v1h-1zM231.8 72.0h1v1h-1zM232.5 72.2h1v1h-1zM234.9 72.0h1v1h-1zM237.5 72.6h1v1h-1zM206.4 73.8h1v1h-1zM208.2 73.4h1v1h-1zM209.8 73.4h1v1h-1zM211.5 73.2h1v1h-1zM212.6 73.7h1v1h-1zM213.3 73.1h1v1h-1zM214.7 73.1h1v1h-1zM216.4 73.4h1v1h-1zM217.8 73.1h1v1h-1zM218.8 73.0h1v1h-1zM219.0 73.6h1v1h-1zM220.7 73.5h1v1h-1zM221.5 73.4h1v1h-1zM222.0 73.6h1v1h-1zM224.2 73.0h1v1h-1zM225.2 73.6h1v1h-1zM227.5 73.2h1v1h-1zM228.8 73.7h1v1h-1zM231.2 73.7h1v1h-1zM233.9 73.4h1v1h-1zM235.8 73.6h1v1h-1zM204.2 74.3h1v1h-1zM206.2 74.7h1v1h-1zM209.1 74.2h1v1h-1zM210.7 74.1h1v1h-1zM212.6 74.0h1v1h-1zM213.1 74.1h1v1h-1zM214.0 74.2h1v1h-1zM215.6 74.3h1v1h-1zM217.2 74.1h1v1h-1zM218.3 74.7h1v1h-1zM219.1 74.8h1v1h-1zM221.2 74.3h1v1h-1zM223.7 74.9h1v1h-1zM224.3 74.1h1v1h-1zM229.1 74.5h1v1h-1zM230.6 74.8h1v1h-1zM232.6 74.2h1v1h-1zM204.9 75.1h1v1h-1zM205.0 75.8h1v1h-1zM209.3 75.4h1v1h-1zM210.3 75.2h1v1h-1zM211.7 75.9h1v1h-1zM212.1 75.8h1v1h-1zM213.3 75.4h1v1h-1zM214.0 75.4h1v1h-1zM215.4 75.4h1v1h-1zM216.1 75.8h1v1h-1zM217.4 75.7h1v1h-1zM218.6 75.8h1v1h-1zM220.7 75.8h1v1h-1zM221.4 75.8h1v1h-1zM222.9 75.6h1v1h-1zM224.3 75.9h1v1h-1zM225.2 75.1h1v1h-1zM205.3 76.2h1v1h-1zM206.4 76.0h1v1h-1zM207.9 76.2h1v1h-1zM208.8 76.7h1v1h-1zM209.3 76.1h1v1h-1zM210.9 76.8h1v1h-1zM211.7 76.1h1v1h-1zM212.2 76.9h1v1h-1zM214.2 76.7h1v1h-1zM215.4 76.5h1v1h-1zM217.6 76.7h1v1h-1zM219.9 76.1h1v1h-1zM220.2 76.1h1v1h-1zM221.2 76.1h1v1h-1zM223.8 76.4h1v1h-1zM205.1 77.3h1v1h-1zM207.4 77.5h1v1h-1zM208.9 77.3h1v1h-1zM210.5 77.5h1v1h-1zM211.7 77.9h1v1h-1zM212.1 77.1h1v1h-1zM214.2 77.5h1v1h-1zM218.6 77.4h1v1h-1zM227.6 77.5h1v1h-1zM205.5 78.6h1v1h-1zM206.1 78.7h1v1h-1zM207.4 78.5h1v1h-1zM209.8 78.7h1v1h-1zM210.8 78.8h1v1h-1zM211.1 78.3h1v1h-1zM214.3 78.3h1v1h-1zM215.3 78.0h1v1h-1zM207.0 79.5h1v1h-1zM211.2 79.9h1v1h-1zM243.4 79.4h1v1h-1zM260.2 79.5h1v1h-1zM207.5 80.1h1v1h-1zM340.2 22.5h1v1h-1zM314.8 23.1h1v1h-1zM327.4 23.7h1v1h-1zM328.2 23.4h1v1h-1zM335.7 23.0h1v1h-1zM336.5 23.7h1v1h-1zM348.0 23.5h1v1h-1zM350.2 23.7h1v1h-1zM327.3 24.7h1v1h-1zM331.7 24.2h1v1h-1zM336.2 24.3h1v1h-1zM347.4 24.3h1v1h-1zM314.1 25.6h1v1h-1zM325.4 25.7h1v1h-1zM327.1 25.6h1v1h-1zM328.0 25.1h1v1h-1zM329.3 25.1h1v1h-1zM331.7 25.5h1v1h-1zM332.1 25.8h1v1h-1zM333.0 25.5h1v1h-1zM335.3 25.4h1v1h-1zM338.5 25.8h1v1h-1zM345.5 25.5h1v1h-1zM346.3 25.8h1v1h-1zM347.5 25.8h1v1h-1zM348.5 25.4h1v1h-1zM328.6 26.7h1v1h-1zM330.5 26.5h1v1h-1zM331.1 26.4h1v1h-1zM332.4 26.1h1v1h-1zM336.7 26.3h1v1h-1zM337.8 26.2h1v1h-1zM338.5 26.6h1v1h-1zM339.8 26.7h1v1h-1zM343.7 26.6h1v1h-1zM347.8 26.1h1v1h-1zM350.5 26.8h1v1h-1zM316.1 27.3h1v1h-1zM322.3 27.7h1v1h-1zM327.4 27.6h1v1h-1zM330.8 27.8h1v1h-1zM332.5 27.4h1v1h-1zM334.2 27.2h1v1h-1zM336.8 27.8h1v1h-1zM337.3 27.7h1v1h-1zM338.5 27.1h1v1h-1zM341.1 27.5h1v1h-1zM342.1 27.0h1v1h-1zM345.0 27.2h1v1h-1zM347.3 27.7h1v1h-1zM348.9 27.3h1v1h-1zM349.1 27.1h1v1h-1zM354.8 27.2h1v1h-1zM317.9 28.0h1v1h-1zM320.7 28.8h1v1h-1zM325.7 28.6h1v1h-1zM327.0 28.0h1v1h-1zM329.3 28.7h1v1h-1zM336.8 28.5h1v1h-1zM337.4 28.7h1v1h-1zM338.0 28.0h1v1h-1zM342.2 28.1h1v1h-1zM343.3 28.6h1v1h-1zM344.5 28.6h1v1h-1zM348.5 28.6h1v1h-1zM351.3 28.4h1v1h-1zM353.3 28.0h1v1h-1zM322.2 29.3h1v1h-1zM324.6 29.7h1v1h-1zM327.6 29.8h1v1h-1zM336.1 29.8h1v1h-1zM337.4 29.0h1v1h-1zM340.8 29.2h1v1h-1zM341.5 29.1h1v1h-1zM343.5 29.5h1v1h-1zM344.8 29.6h1v1h-1zM347.8 29.0h1v1h-1zM349.8 29.4h1v1h-1zM351.5 29.3h1v1h-1zM352.4 29.8h1v1h-1zM353.2 29.7h1v1h-1zM354.3 29.1h1v1h-1zM327.8 30.4h1v1h-1zM328.5 30.6h1v1h-1zM330.7 30.1h1v1h-1zM332.8 30.8h1v1h-1zM333.6 30.2h1v1h-1zM335.0 30.7h1v1h-1zM337.8 30.1h1v1h-1zM340.3 30.2h1v1h-1zM341.5 30.0h1v1h-1zM342.4 30.5h1v1h-1zM343.6 30.5h1v1h-1zM344.7 30.5h1v1h-1zM345.8 30.7h1v1h-1zM346.3 30.1h1v1h-1zM347.3 30.8h1v1h-1zM348.4 30.5h1v1h-1zM349.9 30.4h1v1h-1zM350.4 30.3h1v1h-1zM352.3 30.1h1v1h-1zM353.3 30.7h1v1h-1zM307.8 31.0h1v1h-1zM316.5 31.6h1v1h-1zM317.7 31.4h1v1h-1zM319.5 31.2h1v1h-1zM320.7 31.6h1v1h-1zM322.3 31.0h1v1h-1zM323.2 31.4h1v1h-1zM324.5 31.4h1v1h-1zM326.4 31.7h1v1h-1zM327.1 31.3h1v1h-1zM328.9 31.3h1v1h-1zM330.2 31.8h1v1h-1zM333.2 31.5h1v1h-1zM335.3 31.0h1v1h-1zM336.9 31.4h1v1h-1zM337.6 31.9h1v1h-1zM338.6 31.5h1v1h-1zM339.5 31.2h1v1h-1zM340.5 31.0h1v1h-1zM341.2 31.3h1v1h-1zM342.1 31.1h1v1h-1zM344.6 31.2h1v1h-1zM345.4 31.2h1v1h-1zM346.8 31.5h1v1h-1zM347.9 31.4h1v1h-1zM348.6 31.4h1v1h-1zM349.7 31.9h1v1h-1zM350.6 31.1h1v1h-1zM352.9 31.4h1v1h-1zM353.0 31.6h1v1h-1zM321.7 32.1h1v1h-1zM322.5 32.8h1v1h-1zM327.6 32.4h1v1h-1zM328.0 32.6h1v1h-1zM330.6 32.8h1v1h-1zM331.8 32.2h1v1h-1zM332.4 32.3h1v1h-1zM333.1 32.8h1v1h-1zM334.8 32.8h1v1h-1zM335.8 32.2h1v1h-1zM336.6 32.1h1v1h-1zM337.0 32.4h1v1h-1zM338.3 32.5h1v1h-1zM339.4 32.4h1v1h-1zM340.8 32.4h1v1h-1zM341.1 32.5h1v1h-1zM342.1 32.4h1v1h-1zM343.0 32.3h1v1h-1zM344.7 32.0h1v1h-1zM345.8 32.3h1v1h-1zM346.2 32.2h1v1h-1zM349.5 32.7h1v1h-1zM350.6 32.5h1v1h-1zM354.2 32.6h1v1h-1zM313.3 33.1h1v1h-1zM315.2 33.2h1v1h-1zM316.1 33.8h1v1h-1zM319.0 33.9h1v1h-1zM320.8 33.0h1v1h-1zM324.9 33.1h1v1h-1zM325.5 33.4h1v1h-1zM327.3 33.5h1v1h-1zM330.8 33.5h1v1h-1zM331.3 33.9h1v1h-1zM332.3 33.5h1v1h-1zM333.3 33.5h1v1h-1zM334.9 33.4h1v1h-1zM335.5 33.4h1v1h-1zM336.5 33.1h1v1h-1zM337.2 33.1h1v1h-1zM338.8 33.3h1v1h-1zM339.7 33.0h1v1h-1zM340.4 33.6h1v1h-1zM341.2 33.5h1v1h-1zM342.1 33.2h1v1h-1zM343.9 33.0h1v1h-1zM344.3 33.2h1v1h-1zM345.4 33.9h1v1h-1zM346.3 33.4h1v1h-1zM347.2 33.2h1v1h-1zM348.3 33.3h1v1h-1zM349.2 33.1h1v1h-1zM350.4 33.4h1v1h-1zM351.1 33.8h1v1h-1zM352.9 33.8h1v1h-1zM354.5 33.5h1v1h-1zM324.1 34.2h1v1h-1zM325.7 34.4h1v1h-1zM326.5 34.8h1v1h-1zM329.2 34.2h1v1h-1zM330.5 34.2h1v1h-1zM331.2 34.5h1v1h-1zM332.4 34.3h1v1h-1zM333.5 34.7h1v1h-1zM334.5 34.7h1v1h-1zM335.3 34.5h1v1h-1zM336.7 34.5h1v1h-1zM337.4 34.4h1v1h-1zM338.8 34.4h1v1h-1zM339.9 34.5h1v1h-1zM340.2 34.8h1v1h-1zM341.1 34.7h1v1h-1zM342.3 34.8h1v1h-1zM343.8 34.8h1v1h-1zM344.2 34.5h1v1h-1zM345.5 34.3h1v1h-1zM346.3 34.0h1v1h-1zM347.3 34.8h1v1h-1zM348.7 34.0h1v1h-1zM349.4 34.8h1v1h-1zM350.2 34.8h1v1h-1zM352.6 34.5h1v1h-1zM354.5 34.6h1v1h-1zM312.4 35.2h1v1h-1zM319.1 35.6h1v1h-1zM321.8 35.8h1v1h-1zM322.3 35.7h1v1h-1zM323.6 35.6h1v1h-1zM324.1 35.0h1v1h-1zM325.1 35.3h1v1h-1zM329.3 35.3h1v1h-1zM330.3 35.4h1v1h-1zM331.2 35.1h1v1h-1zM332.1 35.4h1v1h-1zM333.7 35.7h1v1h-1zM334.2 35.8h1v1h-1zM335.5 35.7h1v1h-1zM336.8 35.3h1v1h-1zM337.2 35.6h1v1h-1zM338.6 35.3h1v1h-1zM339.4 35.9h1v1h-1zM340.2 35.5h1v1h-1zM341.7 35.4h1v1h-1zM342.9 35.2h1v1h-1zM343.8 35.4h1v1h-1zM344.1 35.8h1v1h-1zM345.0 35.1h1v1h-1zM346.2 35.5h1v1h-1zM347.2 35.1h1v1h-1zM348.1 35.6h1v1h-1zM349.7 35.7h1v1h-1zM351.0 35.6h1v1h-1zM352.4 35.1h1v1h-1zM354.6 35.7h1v1h-1zM307.7 36.5h1v1h-1zM316.0 36.8h1v1h-1zM321.2 36.8h1v1h-1zM324.2 36.6h1v1h-1zM326.0 36.3h1v1h-1zM327.4 36.7h1v1h-1zM329.2 36.3h1v1h-1zM330.4 36.7h1v1h-1zM331.8 36.3h1v1h-1zM332.3 36.2h1v1h-1zM333.2 36.0h1v1h-1zM334.8 36.2h1v1h-1zM335.5 36.4h1v1h-1zM336.5 36.6h1v1h-1zM337.1 36.2h1v1h-1zM338.5 36.1h1v1h-1zM339.3 36.6h1v1h-1zM340.0 36.4h1v1h-1zM341.7 36.3h1v1h-1zM342.1 36.5h1v1h-1zM343.7 36.3h1v1h-1zM344.1 36.4h1v1h-1zM345.9 36.4h1v1h-1zM346.6 36.8h1v1h-1zM347.9 36.4h1v1h-1zM348.4 36.1h1v1h-1zM349.4 36.1h1v1h-1zM350.3 36.0h1v1h-1zM351.9 36.8h1v1h-1zM352.6 36.6h1v1h-1zM353.9 36.6h1v1h-1zM317.5 37.4h1v1h-1zM320.1 37.6h1v1h-1zM321.3 37.7h1v1h-1zM322.2 37.5h1v1h-1zM324.2 37.2h1v1h-1zM325.3 37.2h1v1h-1zM326.1 37.5h1v1h-1zM327.2 37.7h1v1h-1zM328.1 37.5h1v1h-1zM329.7 37.1h1v1h-1zM330.5 37.8h1v1h-1zM331.5 37.0h1v1h-1zM332.5 37.2h1v1h-1zM333.9 37.8h1v1h-1zM334.7 37.8h1v1h-1zM335.6 37.6h1v1h-1zM336.3 37.6h1v1h-1zM337.3 37.2h1v1h-1zM338.7 37.7h1v1h-1zM339.8 37.6h1v1h-1zM340.5 37.8h1v1h-1zM341.1 37.6h1v1h-1zM342.3 37.6h1v1h-1zM343.6 37.0h1v1h-1zM344.8 37.3h1v1h-1zM345.5 37.4h1v1h-1zM346.5 37.6h1v1h-1zM347.6 37.4h1v1h-1zM348.8 37.8h1v1h-1zM349.5 37.8h1v1h-1zM350.8 37.3h1v1h-1zM351.1 37.5h1v1h-1zM353.6 37.6h1v1h-1zM354.9 37.2h1v1h-1zM305.9 38.7h1v1h-1zM308.3 38.7h1v1h-1zM313.3 38.7h1v1h-1zM318.9 38.8h1v1h-1zM319.8 38.7h1v1h-1zM321.9 38.7h1v1h-1zM323.6 38.0h1v1h-1zM324.7 38.4h1v1h-1zM325.2 38.4h1v1h-1zM326.0 38.3h1v1h-1zM327.8 38.1h1v1h-1zM328.9 38.1h1v1h-1zM329.1 38.8h1v1h-1zM330.1 38.4h1v1h-1zM331.5 38.2h1v1h-1zM332.8 38.5h1v1h-1zM333.2 38.6h1v1h-1zM334.1 38.2h1v1h-1zM335.3 38.7h1v1h-1zM336.6 38.8h1v1h-1zM337.3 38.3h1v1h-1zM338.2 38.5h1v1h-1zM339.1 38.8h1v1h-1zM340.2 38.1h1v1h-1zM341.8 38.3h1v1h-1zM342.1 38.0h1v1h-1zM343.3 38.9h1v1h-1zM344.7 38.4h1v1h-1zM345.4 38.7h1v1h-1zM346.1 38.0h1v1h-1zM347.4 38.4h1v1h-1zM348.0 38.3h1v1h-1zM349.5 38.2h1v1h-1zM350.3 38.6h1v1h-1zM351.8 38.2h1v1h-1zM352.5 38.6h1v1h-1zM353.6 38.3h1v1h-1zM354.3 38.3h1v1h-1zM312.2 39.5h1v1h-1zM315.3 39.6h1v1h-1zM316.6 39.1h1v1h-1zM320.8 39.8h1v1h-1zM321.6 39.6h1v1h-1zM322.5 39.4h1v1h-1zM323.3 39.2h1v1h-1zM324.4 39.3h1v1h-1zM325.0 39.7h1v1h-1zM326.3 39.3h1v1h-1zM327.6 39.4h1v1h-1zM328.4 39.3h1v1h-1zM329.2 39.6h1v1h-1zM330.8 39.6h1v1h-1zM331.7 39.5h1v1h-1zM332.1 39.5h1v1h-1zM333.8 39.5h1v1h-1zM334.2 39.4h1v1h-1zM335.8 39.5h1v1h-1zM336.1 39.9h1v1h-1zM337.6 39.3h1v1h-1zM338.2 39.8h1v1h-1zM339.3 39.6h1v1h-1zM340.2 39.4h1v1h-1zM341.3 39.7h1v1h-1zM342.7 39.3h1v1h-1zM343.6 39.4h1v1h-1zM344.6 39.8h1v1h-1zM345.3 39.0h1v1h-1zM346.1 39.4h1v1h-1zM347.6 39.1h1v1h-1zM348.2 39.5h1v1h-1zM349.1 39.1h1v1h-1zM350.3 39.7h1v1h-1zM351.4 39.8h1v1h-1zM353.8 39.0h1v1h-1zM318.5 40.7h1v1h-1zM319.6 40.9h1v1h-1zM320.1 40.7h1v1h-1zM321.8 40.4h1v1h-1zM322.5 40.2h1v1h-1zM324.0 40.1h1v1h-1zM325.1 40.0h1v1h-1zM326.7 40.3h1v1h-1zM327.8 40.8h1v1h-1zM328.8 40.8h1v1h-1zM329.7 40.3h1v1h-1zM330.3 40.4h1v1h-1zM331.4 40.2h1v1h-1zM332.1 40.7h1v1h-1zM333.6 40.1h1v1h-1zM334.2 40.9h1v1h-1zM335.1 40.3h1v1h-1zM336.6 40.1h1v1h-1zM337.5 40.6h1v1h-1zM338.2 40.9h1v1h-1zM339.9 40.9h1v1h-1zM340.4 40.2h1v1h-1zM341.2 40.5h1v1h-1zM342.5 40.3h1v1h-1zM343.2 40.6h1v1h-1zM344.6 40.9h1v1h-1zM345.8 40.7h1v1h-1zM346.8 40.0h1v1h-1zM347.1 40.5h1v1h-1zM348.7 40.3h1v1h-1zM349.8 40.2h1v1h-1zM350.0 40.1h1v1h-1zM351.5 40.1h1v1h-1zM352.8 40.7h1v1h-1zM353.1 40.2h1v1h-1zM308.3 41.2h1v1h-1zM310.0 41.5h1v1h-1zM314.1 41.3h1v1h-1zM317.1 41.5h1v1h-1zM319.8 41.7h1v1h-1zM321.8 41.4h1v1h-1zM322.3 41.9h1v1h-1zM323.3 41.4h1v1h-1zM324.5 41.8h1v1h-1zM325.9 41.6h1v1h-1zM326.4 41.2h1v1h-1zM327.4 41.4h1v1h-1zM328.2 41.1h1v1h-1zM329.1 41.4h1v1h-1zM330.8 41.9h1v1h-1zM331.8 41.5h1v1h-1zM332.4 41.3h1v1h-1zM333.7 41.0h1v1h-1zM334.7 41.2h1v1h-1zM335.7 41.3h1v1h-1zM336.3 41.5h1v1h-1zM337.3 41.7h1v1h-1zM338.7 41.9h1v1h-1zM339.8 41.2h1v1h-1zM340.5 41.2h1v1h-1zM341.7 41.7h1v1h-1zM342.1 41.3h1v1h-1zM343.5 41.2h1v1h-1zM344.6 41.0h1v1h-1zM345.3 41.1h1v1h-1zM346.7 41.5h1v1h-1zM347.3 41.0h1v1h-1zM348.1 41.1h1v1h-1zM349.8 41.7h1v1h-1zM350.7 41.5h1v1h-1zM353.1 41.3h1v1h-1zM354.1 41.6h1v1h-1zM313.2 42.6h1v1h-1zM314.6 42.6h1v1h-1zM315.0 42.4h1v1h-1zM317.4 42.2h1v1h-1zM319.8 42.6h1v1h-1zM320.5 42.6h1v1h-1zM322.7 42.4h1v1h-1zM323.5 42.5h1v1h-1zM324.2 42.6h1v1h-1zM325.5 42.4h1v1h-1zM326.2 42.9h1v1h-1zM327.7 42.6h1v1h-1zM328.9 42.8h1v1h-1zM329.1 42.6h1v1h-1zM330.1 42.8h1v1h-1zM331.5 42.8h1v1h-1zM332.3 42.5h1v1h-1zM333.2 42.5h1v1h-1zM334.1 42.2h1v1h-1zM335.8 42.5h1v1h-1zM336.8 42.9h1v1h-1zM337.4 42.5h1v1h-1zM338.5 42.6h1v1h-1zM339.2 42.8h1v1h-1zM340.7 42.2h1v1h-1zM341.7 42.4h1v1h-1zM342.2 42.6h1v1h-1zM343.3 42.8h1v1h-1zM344.1 42.2h1v1h-1zM345.9 42.3h1v1h-1zM346.9 42.0h1v1h-1zM347.1 42.8h1v1h-1zM348.4 42.8h1v1h-1zM349.1 42.7h1v1h-1zM350.7 42.1h1v1h-1zM352.4 42.4h1v1h-1zM353.8 42.6h1v1h-1zM354.5 42.4h1v1h-1zM302.1 43.7h1v1h-1zM312.8 43.5h1v1h-1zM315.7 43.3h1v1h-1zM316.1 43.8h1v1h-1zM318.8 43.8h1v1h-1zM320.0 43.8h1v1h-1zM321.7 43.4h1v1h-1zM322.8 43.2h1v1h-1zM323.6 43.5h1v1h-1zM324.4 43.9h1v1h-1zM325.0 43.6h1v1h-1zM326.4 43.8h1v1h-1zM327.3 43.1h1v1h-1zM328.3 43.0h1v1h-1zM329.4 43.5h1v1h-1zM330.7 43.6h1v1h-1zM331.7 43.7h1v1h-1zM332.4 43.5h1v1h-1zM333.5 43.5h1v1h-1zM334.3 43.1h1v1h-1zM335.5 43.4h1v1h-1zM336.8 43.8h1v1h-1zM337.6 43.6h1v1h-1zM338.7 43.5h1v1h-1zM339.8 43.1h1v1h-1zM340.2 43.1h1v1h-1zM341.6 43.1h1v1h-1zM342.3 43.0h1v1h-1zM343.9 43.4h1v1h-1zM344.5 43.5h1v1h-1zM345.3 43.2h1v1h-1zM346.4 43.2h1v1h-1zM347.5 43.3h1v1h-1zM348.7 43.6h1v1h-1zM349.7 43.8h1v1h-1zM350.2 43.2h1v1h-1zM351.4 43.5h1v1h-1zM352.1 43.5h1v1h-1zM353.2 43.0h1v1h-1zM354.4 43.8h1v1h-1zM304.6 44.5h1v1h-1zM307.5 44.2h1v1h-1zM314.6 44.7h1v1h-1zM320.6 44.2h1v1h-1zM321.2 44.4h1v1h-1zM322.4 44.5h1v1h-1zM323.5 44.7h1v1h-1zM324.8 44.5h1v1h-1zM325.2 44.3h1v1h-1zM326.7 44.4h1v1h-1zM327.8 44.1h1v1h-1zM328.0 44.5h1v1h-1zM329.2 44.1h1v1h-1zM330.7 44.6h1v1h-1zM331.5 44.7h1v1h-1zM332.1 44.7h1v1h-1zM333.3 44.5h1v1h-1zM334.7 44.8h1v1h-1zM335.5 44.2h1v1h-1zM336.8 44.6h1v1h-1zM337.5 44.7h1v1h-1zM338.7 44.6h1v1h-1zM339.8 44.3h1v1h-1zM340.6 44.0h1v1h-1zM341.8 44.3h1v1h-1zM342.8 44.1h1v1h-1zM343.2 44.2h1v1h-1zM344.4 44.1h1v1h-1zM345.8 44.3h1v1h-1zM346.8 44.6h1v1h-1zM347.9 44.0h1v1h-1zM348.8 44.4h1v1h-1zM349.7 44.7h1v1h-1zM350.6 44.8h1v1h-1zM351.6 44.1h1v1h-1zM352.8 44.6h1v1h-1zM305.6 45.2h1v1h-1zM308.6 45.5h1v1h-1zM314.6 45.1h1v1h-1zM317.4 45.2h1v1h-1zM319.3 45.2h1v1h-1zM320.2 45.9h1v1h-1zM321.8 45.7h1v1h-1zM322.8 45.7h1v1h-1zM323.9 45.3h1v1h-1zM324.2 45.6h1v1h-1zM325.7 45.9h1v1h-1zM326.8 45.5h1v1h-1zM327.7 45.4h1v1h-1zM328.7 45.6h1v1h-1zM329.3 45.3h1v1h-1zM330.6 45.8h1v1h-1zM331.7 45.2h1v1h-1zM332.8 45.3h1v1h-1zM333.8 45.8h1v1h-1zM334.0 45.0h1v1h-1zM335.3 45.2h1v1h-1zM336.5 45.8h1v1h-1zM337.2 45.8h1v1h-1zM338.6 45.2h1v1h-1zM339.3 45.5h1v1h-1zM340.7 45.3h1v1h-1zM341.3 45.8h1v1h-1zM342.7 45.8h1v1h-1zM343.2 45.2h1v1h-1zM344.3 45.4h1v1h-1zM345.5 45.5h1v1h-1zM346.2 45.0h1v1h-1zM347.1 45.0h1v1h-1zM348.8 45.1h1v1h-1zM349.2 45.1h1v1h-1zM351.5 45.7h1v1h-1zM353.8 45.6h1v1h-1zM354.8 45.3h1v1h-1zM301.4 46.5h1v1h-1zM310.2 46.1h1v1h-1zM312.4 46.8h1v1h-1zM315.2 46.6h1v1h-1zM316.2 46.0h1v1h-1zM317.2 46.1h1v1h-1zM318.3 46.7h1v1h-1zM319.7 46.7h1v1h-1zM320.1 46.4h1v1h-1zM321.7 46.4h1v1h-1zM322.8 46.2h1v1h-1zM323.0 46.7h1v1h-1zM324.1 46.4h1v1h-1zM325.7 46.2h1v1h-1zM326.7 46.4h1v1h-1zM327.6 46.8h1v1h-1zM328.5 46.2h1v1h-1zM329.4 46.9h1v1h-1zM330.1 46.4h1v1h-1zM331.6 46.8h1v1h-1zM332.3 46.5h1v1h-1zM333.5 46.8h1v1h-1zM334.2 46.3h1v1h-1zM335.7 46.5h1v1h-1zM336.7 46.3h1v1h-1zM337.1 46.6h1v1h-1zM338.8 46.2h1v1h-1zM339.2 46.2h1v1h-1zM340.1 46.8h1v1h-1zM341.3 46.6h1v1h-1zM342.5 46.4h1v1h-1zM343.1 46.1h1v1h-1zM344.6 46.4h1v1h-1zM345.3 46.4h1v1h-1zM346.3 46.8h1v1h-1zM347.7 46.3h1v1h-1zM348.1 46.5h1v1h-1zM349.3 46.5h1v1h-1zM350.2 46.6h1v1h-1zM351.8 46.8h1v1h-1zM297.3 47.1h1v1h-1zM306.6 47.6h1v1h-1zM314.4 47.5h1v1h-1zM316.2 47.4h1v1h-1zM317.9 47.8h1v1h-1zM318.3 47.0h1v1h-1zM319.4 47.0h1v1h-1zM320.4 47.0h1v1h-1zM321.7 47.5h1v1h-1zM322.7 47.4h1v1h-1zM323.9 47.5h1v1h-1zM324.6 47.7h1v1h-1zM325.0 47.0h1v1h-1zM326.1 47.9h1v1h-1zM327.1 47.8h1v1h-1zM328.1 47.1h1v1h-1zM329.6 47.3h1v1h-1zM330.3 47.4h1v1h-1zM331.1 47.3h1v1h-1zM332.5 47.8h1v1h-1zM333.3 47.9h1v1h-1zM334.2 47.8h1v1h-1zM335.6 47.8h1v1h-1zM336.5 47.3h1v1h-1zM337.0 47.3h1v1h-1zM338.1 47.6h1v1h-1zM339.3 47.5h1v1h-1zM340.3 47.7h1v1h-1zM341.1 47.3h1v1h-1zM342.8 47.8h1v1h-1zM343.3 47.4h1v1h-1zM344.0 47.3h1v1h-1zM345.3 47.4h1v1h-1zM346.3 47.2h1v1h-1zM347.8 47.3h1v1h-1zM348.6 47.2h1v1h-1zM349.7 47.2h1v1h-1zM350.5 47.5h1v1h-1zM351.8 47.7h1v1h-1zM352.3 47.7h1v1h-1zM309.6 48.1h1v1h-1zM312.5 48.6h1v1h-1zM316.6 48.2h1v1h-1zM317.2 48.0h1v1h-1zM319.1 48.7h1v1h-1zM322.2 48.8h1v1h-1zM323.3 48.3h1v1h-1zM324.8 48.8h1v1h-1zM325.2 48.5h1v1h-1zM326.2 48.4h1v1h-1zM327.3 48.4h1v1h-1zM328.4 48.7h1v1h-1zM329.5 48.5h1v1h-1zM330.7 48.1h1v1h-1zM331.6 48.2h1v1h-1zM332.1 48.4h1v1h-1zM333.4 48.1h1v1h-1zM334.6 48.6h1v1h-1zM335.6 48.2h1v1h-1zM336.4 48.5h1v1h-1zM337.4 48.8h1v1h-1zM338.2 48.2h1v1h-1zM339.2 48.1h1v1h-1zM340.7 48.0h1v1h-1zM341.2 48.6h1v1h-1zM342.3 48.4h1v1h-1zM343.5 48.2h1v1h-1zM344.2 48.1h1v1h-1zM345.7 48.2h1v1h-1zM346.8 48.2h1v1h-1zM347.4 48.8h1v1h-1zM348.7 48.0h1v1h-1zM350.2 48.4h1v1h-1zM352.9 48.2h1v1h-1zM354.1 48.5h1v1h-1zM306.7 49.1h1v1h-1zM307.1 49.9h1v1h-1zM310.7 49.6h1v1h-1zM312.8 49.8h1v1h-1zM313.3 49.0h1v1h-1zM314.2 49.9h1v1h-1zM315.6 49.2h1v1h-1zM316.3 49.2h1v1h-1zM317.2 49.5h1v1h-1zM318.7 49.0h1v1h-1zM319.4 49.6h1v1h-1zM320.4 49.4h1v1h-1zM321.3 49.7h1v1h-1zM322.2 49.4h1v1h-1zM323.2 49.3h1v1h-1zM324.5 49.3h1v1h-1zM325.4 49.8h1v1h-1zM326.6 49.7h1v1h-1zM327.8 49.3h1v1h-1zM328.7 49.5h1v1h-1zM329.4 49.2h1v1h-1zM330.3 49.3h1v1h-1zM331.9 49.2h1v1h-1zM332.4 49.6h1v1h-1zM333.4 49.1h1v1h-1zM334.7 49.3h1v1h-1zM335.1 49.6h1v1h-1zM336.5 49.7h1v1h-1zM337.8 49.7h1v1h-1zM338.9 49.8h1v1h-1zM339.3 49.8h1v1h-1zM340.6 49.6h1v1h-1zM341.0 49.7h1v1h-1zM342.2 49.4h1v1h-1zM343.9 49.1h1v1h-1zM344.1 49.3h1v1h-1zM345.4 49.5h1v1h-1zM346.3 49.2h1v1h-1zM347.9 49.7h1v1h-1zM348.9 49.3h1v1h-1zM349.5 49.1h1v1h-1zM353.1 49.1h1v1h-1zM354.1 49.5h1v1h-1zM300.5 50.2h1v1h-1zM312.6 50.6h1v1h-1zM315.0 50.5h1v1h-1zM317.8 50.8h1v1h-1zM318.1 50.8h1v1h-1zM319.1 50.8h1v1h-1zM320.6 50.5h1v1h-1zM321.7 50.3h1v1h-1zM322.8 50.8h1v1h-1zM323.7 50.7h1v1h-1zM324.4 50.1h1v1h-1zM325.7 50.3h1v1h-1zM326.3 50.7h1v1h-1zM327.3 50.7h1v1h-1zM328.9 50.5h1v1h-1zM329.2 50.1h1v1h-1zM330.5 50.2h1v1h-1zM331.8 50.7h1v1h-1zM332.3 50.8h1v1h-1zM333.3 50.0h1v1h-1zM334.4 50.2h1v1h-1zM335.3 50.1h1v1h-1zM336.3 50.2h1v1h-1zM337.6 50.8h1v1h-1zM338.8 50.4h1v1h-1zM339.5 50.6h1v1h-1zM340.5 50.2h1v1h-1zM341.1 50.8h1v1h-1zM342.7 50.3h1v1h-1zM343.8 50.1h1v1h-1zM344.0 50.7h1v1h-1zM345.1 50.0h1v1h-1zM346.6 50.1h1v1h-1zM347.5 50.4h1v1h-1zM348.2 50.2h1v1h-1zM349.7 50.7h1v1h-1zM351.2 50.7h1v1h-1zM309.6 51.2h1v1h-1zM312.8 51.9h1v1h-1zM314.5 51.9h1v1h-1zM315.1 51.6h1v1h-1zM316.1 51.4h1v1h-1zM317.4 51.6h1v1h-1zM318.1 51.1h1v1h-1zM319.7 51.1h1v1h-1zM320.6 51.6h1v1h-1zM321.9 51.9h1v1h-1zM322.3 51.4h1v1h-1zM323.7 51.9h1v1h-1zM324.7 51.4h1v1h-1zM325.0 51.3h1v1h-1zM326.4 51.5h1v1h-1zM327.6 51.3h1v1h-1zM328.3 51.2h1v1h-1zM329.8 51.8h1v1h-1zM330.5 51.2h1v1h-1zM331.0 51.5h1v1h-1zM332.3 51.1h1v1h-1zM333.4 51.5h1v1h-1zM334.2 51.1h1v1h-1zM335.6 51.8h1v1h-1zM336.2 51.6h1v1h-1zM337.2 51.1h1v1h-1zM338.0 51.4h1v1h-1zM339.2 51.7h1v1h-1zM340.1 51.6h1v1h-1zM341.5 51.6h1v1h-1zM342.9 51.5h1v1h-1zM343.2 51.2h1v1h-1zM344.8 51.1h1v1h-1zM345.0 51.8h1v1h-1zM346.9 51.9h1v1h-1zM347.7 51.2h1v1h-1zM348.8 51.9h1v1h-1zM349.8 51.8h1v1h-1zM350.2 51.7h1v1h-1zM351.0 51.5h1v1h-1zM352.1 51.1h1v1h-1zM311.7 52.4h1v1h-1zM312.1 52.7h1v1h-1zM315.8 52.1h1v1h-1zM317.5 52.4h1v1h-1zM318.6 52.1h1v1h-1zM319.0 52.8h1v1h-1zM320.0 52.8h1v1h-1zM321.9 52.9h1v1h-1zM322.2 52.9h1v1h-1zM323.1 52.5h1v1h-1zM324.5 52.4h1v1h-1zM325.2 52.3h1v1h-1zM326.7 52.7h1v1h-1zM327.3 52.6h1v1h-1zM328.2 52.8h1v1h-1zM329.1 52.4h1v1h-1zM330.2 52.5h1v1h-1zM331.2 52.1h1v1h-1zM332.4 52.3h1v1h-1zM333.5 52.6h1v1h-1zM334.6 52.5h1v1h-1zM335.0 52.9h1v1h-1zM336.5 52.8h1v1h-1zM337.8 52.8h1v1h-1zM338.7 52.8h1v1h-1zM339.1 52.5h1v1h-1zM340.3 52.3h1v1h-1zM341.6 52.8h1v1h-1zM342.5 52.3h1v1h-1zM343.8 52.4h1v1h-1zM344.1 52.7h1v1h-1zM345.6 52.9h1v1h-1zM347.7 52.6h1v1h-1zM348.2 52.7h1v1h-1zM349.0 52.5h1v1h-1zM352.4 52.8h1v1h-1zM354.6 52.5h1v1h-1zM303.4 53.7h1v1h-1zM307.7 53.4h1v1h-1zM313.0 53.7h1v1h-1zM316.6 53.7h1v1h-1zM318.5 53.3h1v1h-1zM319.6 53.1h1v1h-1zM320.6 53.5h1v1h-1zM321.6 53.1h1v1h-1zM322.1 53.8h1v1h-1zM323.3 53.0h1v1h-1zM324.6 53.2h1v1h-1zM325.4 53.3h1v1h-1zM326.7 53.6h1v1h-1zM327.8 53.5h1v1h-1zM328.6 53.6h1v1h-1zM329.8 53.7h1v1h-1zM330.2 53.6h1v1h-1zM331.2 53.5h1v1h-1zM332.9 53.8h1v1h-1zM333.3 53.6h1v1h-1zM334.6 53.5h1v1h-1zM335.2 53.8h1v1h-1zM336.6 53.2h1v1h-1zM337.2 53.2h1v1h-1zM338.8 53.2h1v1h-1zM339.8 53.2h1v1h-1zM340.2 53.1h1v1h-1zM341.4 53.8h1v1h-1zM342.3 53.3h1v1h-1zM343.8 53.8h1v1h-1zM344.2 53.5h1v1h-1zM345.5 53.4h1v1h-1zM346.5 53.2h1v1h-1zM347.9 53.4h1v1h-1zM351.6 53.8h1v1h-1zM352.9 53.1h1v1h-1zM306.8 54.6h1v1h-1zM308.0 54.6h1v1h-1zM310.2 54.1h1v1h-1zM312.8 54.7h1v1h-1zM313.6 54.3h1v1h-1zM314.1 54.7h1v1h-1zM316.7 54.8h1v1h-1zM317.8 54.6h1v1h-1zM322.2 54.5h1v1h-1zM323.5 54.2h1v1h-1zM324.1 54.1h1v1h-1zM325.8 54.7h1v1h-1zM326.9 54.0h1v1h-1zM327.4 54.1h1v1h-1zM328.3 54.7h1v1h-1zM329.7 54.4h1v1h-1zM330.3 54.2h1v1h-1zM331.9 54.4h1v1h-1zM332.1 54.6h1v1h-1zM333.1 54.2h1v1h-1zM334.8 54.2h1v1h-1zM335.2 54.3h1v1h-1zM336.6 54.1h1v1h-1zM337.6 54.8h1v1h-1zM338.6 54.9h1v1h-1zM339.3 54.5h1v1h-1zM340.8 54.7h1v1h-1zM341.2 54.5h1v1h-1zM342.4 54.2h1v1h-1zM343.9 54.6h1v1h-1zM344.3 54.5h1v1h-1zM345.5 54.5h1v1h-1zM347.4 54.1h1v1h-1zM348.4 54.5h1v1h-1zM349.4 54.3h1v1h-1zM350.3 54.1h1v1h-1zM351.3 54.1h1v1h-1zM353.6 54.9h1v1h-1zM304.6 55.7h1v1h-1zM305.6 55.5h1v1h-1zM311.6 55.6h1v1h-1zM313.5 55.5h1v1h-1zM316.9 55.5h1v1h-1zM317.0 55.5h1v1h-1zM318.2 55.6h1v1h-1zM319.9 55.4h1v1h-1zM320.7 55.1h1v1h-1zM321.4 55.5h1v1h-1zM322.9 55.3h1v1h-1zM323.3 55.1h1v1h-1zM324.7 55.0h1v1h-1zM325.6 55.3h1v1h-1zM326.4 55.5h1v1h-1zM327.2 55.8h1v1h-1zM328.4 55.5h1v1h-1zM329.7 55.1h1v1h-1zM330.2 55.4h1v1h-1zM331.2 55.1h1v1h-1zM332.9 55.8h1v1h-1zM333.2 55.3h1v1h-1zM334.5 55.2h1v1h-1zM335.8 55.3h1v1h-1zM336.3 55.6h1v1h-1zM337.1 55.4h1v1h-1zM338.2 55.2h1v1h-1zM339.8 55.8h1v1h-1zM340.8 55.1h1v1h-1zM341.5 55.4h1v1h-1zM342.3 55.9h1v1h-1zM343.6 55.2h1v1h-1zM344.8 55.9h1v1h-1zM346.1 55.2h1v1h-1zM349.8 55.2h1v1h-1zM350.3 55.4h1v1h-1zM352.5 55.5h1v1h-1zM353.5 55.2h1v1h-1zM312.0 56.8h1v1h-1zM313.8 56.5h1v1h-1zM314.4 56.6h1v1h-1zM315.7 56.2h1v1h-1zM317.3 56.7h1v1h-1zM318.5 56.7h1v1h-1zM319.2 56.2h1v1h-1zM320.0 56.7h1v1h-1zM321.9 56.6h1v1h-1zM323.3 56.6h1v1h-1zM324.2 56.2h1v1h-1zM325.1 56.5h1v1h-1zM326.8 56.4h1v1h-1zM327.6 56.7h1v1h-1zM328.4 56.2h1v1h-1zM329.2 56.1h1v1h-1zM330.3 56.4h1v1h-1zM331.4 56.6h1v1h-1zM332.6 56.1h1v1h-1zM333.5 56.6h1v1h-1zM334.6 56.0h1v1h-1zM335.0 56.3h1v1h-1zM336.2 56.6h1v1h-1zM337.0 56.2h1v1h-1zM338.1 56.1h1v1h-1zM339.5 56.3h1v1h-1zM340.5 56.8h1v1h-1zM341.9 56.4h1v1h-1zM342.4 56.8h1v1h-1zM343.1 56.1h1v1h-1zM344.3 56.7h1v1h-1zM345.2 56.4h1v1h-1zM346.7 56.6h1v1h-1zM349.8 56.7h1v1h-1zM353.1 56.7h1v1h-1zM292.6 57.4h1v1h-1zM295.1 57.9h1v1h-1zM296.7 57.6h1v1h-1zM302.7 57.1h1v1h-1zM306.0 57.8h1v1h-1zM311.6 57.8h1v1h-1zM313.2 57.0h1v1h-1zM314.5 57.8h1v1h-1zM315.3 57.3h1v1h-1zM317.0 57.5h1v1h-1zM319.1 57.7h1v1h-1zM320.6 57.8h1v1h-1zM321.3 57.5h1v1h-1zM322.6 57.0h1v1h-1zM323.6 57.1h1v1h-1zM325.7 57.3h1v1h-1zM326.5 57.5h1v1h-1zM327.8 57.8h1v1h-1zM328.1 57.6h1v1h-1zM329.5 57.3h1v1h-1zM330.7 57.2h1v1h-1zM331.9 57.7h1v1h-1zM332.7 57.2h1v1h-1zM333.7 57.2h1v1h-1zM334.6 57.1h1v1h-1zM335.5 57.6h1v1h-1zM336.4 57.5h1v1h-1zM337.5 57.5h1v1h-1zM338.1 57.6h1v1h-1zM339.7 57.7h1v1h-1zM341.6 57.4h1v1h-1zM342.0 57.6h1v1h-1zM343.6 57.0h1v1h-1zM304.2 58.1h1v1h-1zM305.2 58.3h1v1h-1zM306.6 58.8h1v1h-1zM309.9 58.6h1v1h-1zM310.6 58.7h1v1h-1zM311.0 58.0h1v1h-1zM312.2 58.2h1v1h-1zM316.3 58.7h1v1h-1zM318.3 58.7h1v1h-1zM319.6 58.6h1v1h-1zM320.8 58.1h1v1h-1zM321.8 58.1h1v1h-1zM322.1 58.3h1v1h-1zM323.7 58.9h1v1h-1zM324.1 58.5h1v1h-1zM325.3 58.3h1v1h-1zM326.4 58.5h1v1h-1zM327.9 58.4h1v1h-1zM328.9 58.0h1v1h-1zM329.6 58.7h1v1h-1zM331.0 58.3h1v1h-1zM332.7 58.3h1v1h-1zM333.1 58.9h1v1h-1zM334.7 58.3h1v1h-1zM335.7 58.7h1v1h-1zM337.0 58.1h1v1h-1zM339.1 58.0h1v1h-1zM344.9 58.2h1v1h-1zM346.7 58.7h1v1h-1zM348.9 58.7h1v1h-1zM298.0 59.4h1v1h-1zM305.6 59.7h1v1h-1zM307.6 59.2h1v1h-1zM309.7 59.2h1v1h-1zM310.2 59.4h1v1h-1zM312.6 59.2h1v1h-1zM314.3 59.3h1v1h-1zM316.1 59.5h1v1h-1zM317.5 59.1h1v1h-1zM318.1 59.9h1v1h-1zM319.3 59.1h1v1h-1zM320.1 59.8h1v1h-1zM321.7 59.1h1v1h-1zM322.8 59.9h1v1h-1zM323.2 59.0h1v1h-1zM324.1 59.3h1v1h-1zM325.4 59.8h1v1h-1zM326.1 59.8h1v1h-1zM327.0 59.3h1v1h-1zM328.3 59.3h1v1h-1zM329.4 59.5h1v1h-1zM330.6 59.5h1v1h-1zM331.4 59.2h1v1h-1zM332.1 59.6h1v1h-1zM333.1 59.6h1v1h-1zM334.8 59.9h1v1h-1zM335.9 59.5h1v1h-1zM336.4 59.9h1v1h-1zM337.1 59.1h1v1h-1zM338.7 59.7h1v1h-1zM339.4 59.2h1v1h-1zM340.6 59.0h1v1h-1zM341.4 59.7h1v1h-1zM344.4 59.8h1v1h-1zM346.4 59.1h1v1h-1zM348.8 59.8h1v1h-1zM350.8 59.5h1v1h-1zM287.8 60.4h1v1h-1zM298.7 60.8h1v1h-1zM301.3 60.6h1v1h-1zM302.3 60.1h1v1h-1zM305.5 60.6h1v1h-1zM309.4 60.8h1v1h-1zM312.8 60.3h1v1h-1zM317.5 60.7h1v1h-1zM319.0 60.3h1v1h-1zM320.6 60.5h1v1h-1zM322.3 60.3h1v1h-1zM323.1 60.1h1v1h-1zM324.7 60.1h1v1h-1zM325.8 60.6h1v1h-1zM327.6 60.6h1v1h-1zM328.2 60.7h1v1h-1zM329.2 60.1h1v1h-1zM330.2 60.4h1v1h-1zM331.3 60.6h1v1h-1zM332.2 60.6h1v1h-1zM333.8 60.7h1v1h-1zM335.3 60.6h1v1h-1zM336.6 60.6h1v1h-1zM337.4 60.4h1v1h-1zM338.6 60.5h1v1h-1zM340.1 60.7h1v1h-1zM343.3 60.5h1v1h-1zM351.2 60.8h1v1h-1zM289.7 61.3h1v1h-1zM292.3 61.4h1v1h-1zM297.8 61.8h1v1h-1zM299.8 61.5h1v1h-1zM301.8 61.6h1v1h-1zM303.1 61.0h1v1h-1zM304.3 61.6h1v1h-1zM306.7 61.9h1v1h-1zM311.8 61.3h1v1h-1zM313.2 61.1h1v1h-1zM315.0 61.5h1v1h-1zM322.6 61.8h1v1h-1zM324.6 61.6h1v1h-1zM325.4 61.4h1v1h-1zM326.2 61.0h1v1h-1zM327.8 61.6h1v1h-1zM328.8 61.7h1v1h-1zM330.3 61.2h1v1h-1zM332.6 61.1h1v1h-1zM333.5 61.2h1v1h-1zM335.0 61.5h1v1h-1zM341.3 61.3h1v1h-1zM342.1 61.2h1v1h-1zM343.3 61.1h1v1h-1zM345.1 61.0h1v1h-1zM348.9 61.7h1v1h-1zM352.7 61.8h1v1h-1zM353.5 61.3h1v1h-1zM288.8 62.3h1v1h-1zM290.9 62.6h1v1h-1zM296.2 62.2h1v1h-1zM299.9 62.3h1v1h-1zM300.7 62.1h1v1h-1zM301.4 62.5h1v1h-1zM302.2 62.3h1v1h-1zM303.7 62.1h1v1h-1zM305.0 62.1h1v1h-1zM306.9 62.2h1v1h-1zM307.2 62.6h1v1h-1zM308.4 62.5h1v1h-1zM309.0 62.2h1v1h-1zM310.6 62.1h1v1h-1zM312.3 62.9h1v1h-1zM315.3 62.1h1v1h-1zM317.6 62.1h1v1h-1zM318.8 62.1h1v1h-1zM319.1 62.5h1v1h-1zM321.2 62.8h1v1h-1zM322.2 62.0h1v1h-1zM323.8 62.8h1v1h-1zM325.1 62.4h1v1h-1zM327.8 62.8h1v1h-1zM328.3 62.0h1v1h-1zM329.7 62.4h1v1h-1zM330.0 62.7h1v1h-1zM331.5 62.3h1v1h-1zM332.2 62.3h1v1h-1zM333.8 62.1h1v1h-1zM334.2 62.6h1v1h-1zM336.8 62.1h1v1h-1zM337.1 62.5h1v1h-1zM338.3 62.6h1v1h-1zM339.3 62.7h1v1h-1zM344.0 62.7h1v1h-1zM292.5 63.5h1v1h-1zM299.1 63.5h1v1h-1zM302.9 63.2h1v1h-1zM303.1 63.8h1v1h-1zM306.8 63.6h1v1h-1zM310.4 63.1h1v1h-1zM311.5 63.5h1v1h-1zM315.5 63.6h1v1h-1zM316.8 63.1h1v1h-1zM317.6 63.6h1v1h-1zM319.0 63.2h1v1h-1zM321.5 63.6h1v1h-1zM323.7 63.4h1v1h-1zM324.5 63.5h1v1h-1zM325.1 63.3h1v1h-1zM326.2 63.1h1v1h-1zM327.5 63.6h1v1h-1zM328.3 63.6h1v1h-1zM335.6 63.8h1v1h-1zM336.2 63.8h1v1h-1zM337.3 63.2h1v1h-1zM338.7 63.3h1v1h-1zM340.0 63.8h1v1h-1zM348.5 63.3h1v1h-1zM294.2 64.4h1v1h-1zM298.0 64.6h1v1h-1zM301.5 64.5h1v1h-1zM302.2 64.4h1v1h-1zM303.3 64.9h1v1h-1zM304.9 64.6h1v1h-1zM305.2 64.2h1v1h-1zM306.1 64.4h1v1h-1zM310.0 64.4h1v1h-1zM311.4 64.2h1v1h-1zM312.1 64.6h1v1h-1zM314.7 64.6h1v1h-1zM315.8 64.7h1v1h-1zM317.2 64.7h1v1h-1zM318.3 64.4h1v1h-1zM320.2 64.5h1v1h-1zM321.8 64.7h1v1h-1zM323.8 64.1h1v1h-1zM324.4 64.2h1v1h-1zM328.0 64.2h1v1h-1zM329.1 64.6h1v1h-1zM330.6 64.7h1v1h-1zM331.3 64.6h1v1h-1zM334.0 64.9h1v1h-1zM336.3 64.7h1v1h-1zM337.0 64.6h1v1h-1zM345.2 64.8h1v1h-1zM289.2 65.5h1v1h-1zM290.5 65.5h1v1h-1zM292.2 65.2h1v1h-1zM293.5 65.6h1v1h-1zM294.7 65.4h1v1h-1zM298.2 65.2h1v1h-1zM301.5 65.4h1v1h-1zM307.5 65.3h1v1h-1zM309.7 65.4h1v1h-1zM310.3 65.8h1v1h-1zM312.7 65.2h1v1h-1zM315.2 65.2h1v1h-1zM317.8 65.3h1v1h-1zM320.2 65.3h1v1h-1zM321.8 65.4h1v1h-1zM322.1 65.3h1v1h-1zM323.6 65.0h1v1h-1zM325.7 65.2h1v1h-1zM328.2 65.1h1v1h-1zM329.8 65.8h1v1h-1zM330.0 65.2h1v1h-1zM331.4 65.4h1v1h-1zM332.6 65.7h1v1h-1zM333.8 65.7h1v1h-1zM336.4 65.1h1v1h-1zM339.7 65.7h1v1h-1zM351.9 65.0h1v1h-1zM353.8 65.6h1v1h-1zM285.6 66.8h1v1h-1zM286.1 66.1h1v1h-1zM288.2 66.3h1v1h-1zM293.4 66.0h1v1h-1zM295.2 66.5h1v1h-1zM301.7 66.1h1v1h-1zM304.3 66.8h1v1h-1zM305.3 66.2h1v1h-1zM309.3 66.7h1v1h-1zM312.0 66.3h1v1h-1zM313.5 66.5h1v1h-1zM319.0 66.1h1v1h-1zM323.5 66.5h1v1h-1zM324.4 66.1h1v1h-1zM326.3 66.8h1v1h-1zM328.4 66.0h1v1h-1zM331.3 66.6h1v1h-1zM332.9 66.6h1v1h-1zM339.6 66.1h1v1h-1zM351.6 66.2h1v1h-1zM286.1 67.7h1v1h-1zM288.8 67.0h1v1h-1zM295.0 67.2h1v1h-1zM299.3 67.4h1v1h-1zM300.0 67.9h1v1h-1zM301.7 67.2h1v1h-1zM307.9 67.4h1v1h-1zM309.1 67.6h1v1h-1zM310.0 67.8h1v1h-1zM314.7 67.5h1v1h-1zM320.7 67.4h1v1h-1zM325.6 67.6h1v1h-1zM326.2 67.1h1v1h-1zM327.5 67.1h1v1h-1zM328.3 67.4h1v1h-1zM330.4 67.2h1v1h-1zM331.2 67.9h1v1h-1zM333.3 67.6h1v1h-1zM335.7 67.7h1v1h-1zM347.1 67.6h1v1h-1zM348.1 67.1h1v1h-1zM282.6 68.1h1v1h-1zM285.1 68.1h1v1h-1zM287.0 68.1h1v1h-1zM288.7 68.8h1v1h-1zM290.2 68.5h1v1h-1zM292.8 68.2h1v1h-1zM294.5 68.2h1v1h-1zM297.7 68.2h1v1h-1zM298.5 68.2h1v1h-1zM299.3 68.3h1v1h-1zM300.4 68.2h1v1h-1zM302.3 68.7h1v1h-1zM303.2 68.1h1v1h-1zM304.4 68.8h1v1h-1zM306.5 68.2h1v1h-1zM307.3 68.7h1v1h-1zM308.2 68.6h1v1h-1zM309.7 68.2h1v1h-1zM311.7 68.0h1v1h-1zM312.6 68.2h1v1h-1zM313.3 68.4h1v1h-1zM314.2 68.3h1v1h-1zM316.1 68.4h1v1h-1zM317.3 68.6h1v1h-1zM319.8 68.7h1v1h-1zM322.1 68.7h1v1h-1zM323.4 68.8h1v1h-1zM325.7 68.3h1v1h-1zM326.7 68.7h1v1h-1zM332.1 68.2h1v1h-1zM337.2 68.4h1v1h-1zM340.4 68.6h1v1h-1zM344.2 68.7h1v1h-1zM347.1 68.5h1v1h-1zM287.7 69.2h1v1h-1zM289.4 69.2h1v1h-1zM290.0 69.4h1v1h-1zM292.2 69.1h1v1h-1zM293.7 69.8h1v1h-1zM294.4 69.8h1v1h-1zM295.1 69.7h1v1h-1zM296.6 69.6h1v1h-1zM298.4 69.4h1v1h-1zM299.1 69.3h1v1h-1zM300.3 69.0h1v1h-1zM301.1 69.6h1v1h-1zM302.0 69.8h1v1h-1zM304.8 69.4h1v1h-1zM306.5 69.1h1v1h-1zM307.3 69.9h1v1h-1zM308.1 69.6h1v1h-1zM309.3 69.5h1v1h-1zM310.9 69.1h1v1h-1zM312.7 69.2h1v1h-1zM314.3 69.9h1v1h-1zM315.8 69.6h1v1h-1zM316.3 69.5h1v1h-1zM317.3 69.5h1v1h-1zM319.8 69.5h1v1h-1zM322.1 69.1h1v1h-1zM323.4 69.7h1v1h-1zM324.7 69.7h1v1h-1zM325.2 69.5h1v1h-1zM327.4 69.3h1v1h-1zM328.7 69.3h1v1h-1zM329.4 69.0h1v1h-1zM332.5 69.4h1v1h-1zM335.2 69.6h1v1h-1zM339.1 69.8h1v1h-1zM286.5 70.5h1v1h-1zM287.9 70.0h1v1h-1zM288.8 70.3h1v1h-1zM289.1 70.8h1v1h-1zM291.8 70.3h1v1h-1zM292.1 70.4h1v1h-1zM293.0 70.1h1v1h-1zM294.2 70.8h1v1h-1zM296.5 70.2h1v1h-1zM301.4 70.4h1v1h-1zM302.6 70.8h1v1h-1zM304.7 70.2h1v1h-1zM305.5 70.3h1v1h-1zM306.9 70.7h1v1h-1zM307.3 70.4h1v1h-1zM308.2 70.1h1v1h-1zM309.3 70.6h1v1h-1zM310.4 70.5h1v1h-1zM312.1 70.8h1v1h-1zM314.4 70.6h1v1h-1zM316.4 70.5h1v1h-1zM317.5 70.8h1v1h-1zM320.6 70.5h1v1h-1zM321.8 70.2h1v1h-1zM322.4 70.7h1v1h-1zM323.8 70.7h1v1h-1zM329.3 70.6h1v1h-1zM330.8 70.9h1v1h-1zM334.5 70.1h1v1h-1zM341.1 70.5h1v1h-1zM285.3 71.2h1v1h-1zM287.6 71.8h1v1h-1zM289.6 71.8h1v1h-1zM292.2 71.6h1v1h-1zM293.7 71.1h1v1h-1zM294.5 71.3h1v1h-1zM295.0 71.5h1v1h-1zM297.1 71.6h1v1h-1zM299.0 71.6h1v1h-1zM300.4 71.4h1v1h-1zM302.7 71.4h1v1h-1zM303.6 71.5h1v1h-1zM304.4 71.5h1v1h-1zM305.8 71.3h1v1h-1zM308.1 71.7h1v1h-1zM309.4 71.0h1v1h-1zM310.7 71.3h1v1h-1zM311.7 71.2h1v1h-1zM312.6 71.5h1v1h-1zM313.2 71.8h1v1h-1zM315.6 71.2h1v1h-1zM316.5 71.0h1v1h-1zM317.5 71.8h1v1h-1zM321.2 71.5h1v1h-1zM322.6 71.1h1v1h-1zM323.3 71.5h1v1h-1zM324.3 71.8h1v1h-1zM325.8 71.2h1v1h-1zM326.2 71.3h1v1h-1zM327.3 71.4h1v1h-1zM328.6 71.3h1v1h-1zM332.5 71.1h1v1h-1zM338.9 71.1h1v1h-1zM285.6 72.8h1v1h-1zM291.3 72.3h1v1h-1zM298.5 72.4h1v1h-1zM299.4 72.0h1v1h-1zM301.8 72.8h1v1h-1zM303.1 72.4h1v1h-1zM304.4 72.7h1v1h-1zM305.8 72.1h1v1h-1zM306.0 72.4h1v1h-1zM307.6 72.6h1v1h-1zM308.3 72.4h1v1h-1zM310.4 72.8h1v1h-1zM311.2 72.8h1v1h-1zM315.1 72.0h1v1h-1zM317.2 72.4h1v1h-1zM318.1 72.2h1v1h-1zM321.7 72.5h1v1h-1zM323.6 72.0h1v1h-1zM325.1 72.2h1v1h-1zM327.3 72.4h1v1h-1zM328.2 72.5h1v1h-1zM329.2 72.9h1v1h-1zM330.0 72.8h1v1h-1zM331.1 72.4h1v1h-1zM335.2 72.1h1v1h-1zM340.8 72.4h1v1h-1zM342.7 72.6h1v1h-1zM289.7 73.6h1v1h-1zM293.6 73.1h1v1h-1zM294.6 73.1h1v1h-1zM295.1 73.4h1v1h-1zM296.1 73.5h1v1h-1zM298.3 73.2h1v1h-1zM300.1 73.2h1v1h-1zM301.0 73.7h1v1h-1zM303.7 73.5h1v1h-1zM305.4 73.1h1v1h-1zM308.4 73.0h1v1h-1zM311.8 73.4h1v1h-1zM312.7 73.6h1v1h-1zM315.3 73.2h1v1h-1zM316.3 73.6h1v1h-1zM317.2 73.2h1v1h-1zM319.5 73.0h1v1h-1zM321.1 73.2h1v1h-1zM322.8 73.8h1v1h-1zM324.1 73.6h1v1h-1zM325.1 73.5h1v1h-1zM330.2 73.8h1v1h-1zM286.2 74.4h1v1h-1zM287.9 74.8h1v1h-1zM290.1 74.0h1v1h-1zM298.3 74.3h1v1h-1zM299.3 74.5h1v1h-1zM300.3 74.6h1v1h-1zM301.2 74.0h1v1h-1zM304.5 74.3h1v1h-1zM305.5 74.0h1v1h-1zM308.4 74.3h1v1h-1zM309.2 74.1h1v1h-1zM314.7 74.2h1v1h-1zM315.6 74.5h1v1h-1zM318.4 74.9h1v1h-1zM319.7 74.9h1v1h-1zM321.5 74.7h1v1h-1zM322.7 74.9h1v1h-1zM324.1 74.0h1v1h-1zM325.1 74.7h1v1h-1zM327.6 74.4h1v1h-1zM330.5 74.5h1v1h-1zM331.8 74.8h1v1h-1zM332.4 74.4h1v1h-1zM334.6 74.3h1v1h-1zM335.5 74.6h1v1h-1zM279.2 75.6h1v1h-1zM286.6 75.2h1v1h-1zM287.0 75.6h1v1h-1zM289.8 75.2h1v1h-1zM295.6 75.1h1v1h-1zM298.8 75.3h1v1h-1zM299.2 75.4h1v1h-1zM300.4 75.3h1v1h-1zM301.2 75.6h1v1h-1zM302.4 75.2h1v1h-1zM306.0 75.8h1v1h-1zM307.4 75.9h1v1h-1zM311.2 75.1h1v1h-1zM312.5 75.8h1v1h-1zM313.2 75.8h1v1h-1zM316.6 75.1h1v1h-1zM318.2 75.6h1v1h-1zM324.2 75.3h1v1h-1zM332.6 75.4h1v1h-1zM334.3 75.8h1v1h-1zM337.4 75.8h1v1h-1zM291.8 76.6h1v1h-1zM292.3 76.6h1v1h-1zM294.6 76.6h1v1h-1zM295.9 76.6h1v1h-1zM298.3 76.2h1v1h-1zM302.3 76.8h1v1h-1zM305.5 76.4h1v1h-1zM306.2 76.4h1v1h-1zM309.4 76.7h1v1h-1zM310.3 76.7h1v1h-1zM312.2 76.1h1v1h-1zM314.7 76.1h1v1h-1zM315.3 76.2h1v1h-1zM321.7 76.6h1v1h-1zM322.6 76.4h1v1h-1zM323.3 76.6h1v1h-1zM327.3 76.2h1v1h-1zM330.8 76.3h1v1h-1zM331.5 76.4h1v1h-1zM285.6 77.4h1v1h-1zM286.7 77.8h1v1h-1zM287.4 77.5h1v1h-1zM288.5 77.1h1v1h-1zM289.9 77.0h1v1h-1zM291.3 77.5h1v1h-1zM293.7 77.8h1v1h-1zM295.7 77.1h1v1h-1zM298.7 77.7h1v1h-1zM299.6 77.3h1v1h-1zM301.6 77.3h1v1h-1zM303.2 77.0h1v1h-1zM304.2 77.6h1v1h-1zM305.7 77.3h1v1h-1zM306.8 77.5h1v1h-1zM307.3 77.8h1v1h-1zM312.2 77.6h1v1h-1zM315.1 77.7h1v1h-1zM318.5 77.5h1v1h-1zM319.2 77.2h1v1h-1zM323.2 77.6h1v1h-1zM326.6 77.8h1v1h-1zM334.6 77.8h1v1h-1zM286.9 78.8h1v1h-1zM292.0 78.2h1v1h-1zM293.3 78.3h1v1h-1zM300.5 78.9h1v1h-1zM301.4 78.5h1v1h-1zM308.3 78.8h1v1h-1zM309.1 78.8h1v1h-1zM313.2 78.1h1v1h-1zM315.6 78.6h1v1h-1zM319.6 78.8h1v1h-1zM286.9 79.7h1v1h-1zM287.6 79.2h1v1h-1zM288.3 79.3h1v1h-1zM291.6 79.8h1v1h-1zM294.5 79.4h1v1h-1zM297.9 79.3h1v1h-1zM300.5 79.4h1v1h-1zM301.7 79.0h1v1h-1zM302.3 79.4h1v1h-1zM303.5 79.4h1v1h-1zM304.6 79.6h1v1h-1zM308.9 79.0h1v1h-1zM286.2 80.2h1v1h-1zM292.3 80.1h1v1h-1zM293.3 80.3h1v1h-1zM296.6 80.6h1v1h-1zM300.4 80.7h1v1h-1zM300.3 81.9h1v1h-1zM343.6 81.6h1v1h-1zM314.9 82.7h1v1h-1zM323.6 82.9h1v1h-1z"/>
<path fill="#fff" fill-opacity="0.55" d="M107.0 49.3h1v1h-1zM96.7 51.8h1v1h-1zM107.3 51.6h1v1h-1zM98.9 52.0h1v1h-1zM107.2 52.6h1v1h-1zM108.7 52.3h1v1h-1zM85.2 53.4h1v1h-1zM88.7 53.1h1v1h-1zM95.2 53.5h1v1h-1zM96.5 53.5h1v1h-1zM99.8 53.5h1v1h-1zM101.3 53.6h1v1h-1zM103.3 53.3h1v1h-1zM107.9 53.7h1v1h-1zM98.4 54.2h1v1h-1zM100.1 54.5h1v1h-1zM86.6 55.5h1v1h-1zM70.1 56.0h1v1h-1zM77.2 56.7h1v1h-1zM85.7 56.7h1v1h-1zM89.3 56.2h1v1h-1zM95.0 56.3h1v1h-1zM82.7 57.6h1v1h-1zM85.5 57.1h1v1h-1zM88.2 57.7h1v1h-1zM91.8 57.5h1v1h-1zM95.3 57.4h1v1h-1zM66.8 58.7h1v1h-1zM69.0 58.4h1v1h-1zM72.8 58.5h1v1h-1zM75.6 58.8h1v1h-1zM101.1 58.7h1v1h-1zM63.6 59.6h1v1h-1zM70.1 59.0h1v1h-1zM78.6 59.2h1v1h-1zM96.6 59.4h1v1h-1zM59.6 60.9h1v1h-1zM72.2 60.4h1v1h-1zM71.5 61.9h1v1h-1zM76.5 61.4h1v1h-1zM96.1 61.0h1v1h-1zM76.6 62.1h1v1h-1zM52.5 63.1h1v1h-1zM61.8 63.4h1v1h-1zM84.6 63.2h1v1h-1zM92.0 63.2h1v1h-1zM56.4 64.5h1v1h-1zM84.3 64.7h1v1h-1zM51.3 65.4h1v1h-1zM71.4 65.6h1v1h-1zM80.7 65.1h1v1h-1zM89.1 65.5h1v1h-1zM45.6 67.9h1v1h-1zM50.4 67.1h1v1h-1zM69.2 67.3h1v1h-1zM71.0 67.3h1v1h-1zM86.8 67.3h1v1h-1zM49.5 68.6h1v1h-1zM48.2 69.8h1v1h-1zM59.8 69.4h1v1h-1zM60.3 69.3h1v1h-1zM67.0 69.6h1v1h-1zM77.7 69.9h1v1h-1zM80.1 69.2h1v1h-1zM81.0 69.3h1v1h-1zM75.5 70.3h1v1h-1zM76.3 70.2h1v1h-1zM82.8 70.2h1v1h-1zM45.2 71.9h1v1h-1zM59.3 71.6h1v1h-1zM65.4 71.3h1v1h-1zM66.3 72.8h1v1h-1zM73.8 72.2h1v1h-1zM75.2 72.7h1v1h-1zM77.8 73.2h1v1h-1zM45.1 75.1h1v1h-1zM65.3 75.6h1v1h-1zM73.4 75.1h1v1h-1zM50.3 76.8h1v1h-1zM59.6 76.1h1v1h-1zM50.8 77.7h1v1h-1zM55.9 77.4h1v1h-1zM56.2 77.2h1v1h-1zM60.9 77.0h1v1h-1zM50.4 78.6h1v1h-1zM49.8 79.5h1v1h-1zM165.3 38.2h1v1h-1zM168.4 38.7h1v1h-1zM160.5 39.8h1v1h-1zM163.3 39.2h1v1h-1zM157.5 40.6h1v1h-1zM158.2 40.7h1v1h-1zM160.8 40.1h1v1h-1zM165.4 40.1h1v1h-1zM158.8 41.4h1v1h-1zM159.5 41.2h1v1h-1zM160.3 41.1h1v1h-1zM154.3 42.1h1v1h-1zM156.1 42.7h1v1h-1zM163.4 42.3h1v1h-1zM165.9 42.8h1v1h-1zM171.6 42.0h1v1h-1zM154.1 43.7h1v1h-1zM175.7 43.3h1v1h-1zM170.2 44.3h1v1h-1zM158.2 46.3h1v1h-1zM163.3 46.1h1v1h-1zM166.2 46.3h1v1h-1zM171.2 47.2h1v1h-1zM175.2 47.7h1v1h-1zM156.7 48.8h1v1h-1zM162.5 48.2h1v1h-1zM164.0 48.3h1v1h-1zM172.5 48.8h1v1h-1zM175.9 48.2h1v1h-1zM159.9 49.8h1v1h-1zM154.4 51.3h1v1h-1zM160.1 51.1h1v1h-1zM174.4 51.3h1v1h-1zM154.1 52.8h1v1h-1zM162.1 52.1h1v1h-1zM165.8 52.4h1v1h-1zM154.3 53.7h1v1h-1zM154.4 54.6h1v1h-1zM155.4 54.6h1v1h-1zM159.3 54.4h1v1h-1zM162.7 54.4h1v1h-1zM165.5 54.1h1v1h-1zM166.6 55.3h1v1h-1zM151.8 56.4h1v1h-1zM155.8 57.5h1v1h-1zM159.8 57.2h1v1h-1zM163.2 57.2h1v1h-1zM164.8 57.3h1v1h-1zM165.5 57.6h1v1h-1zM149.4 61.1h1v1h-1zM127.3 62.3h1v1h-1zM139.2 62.6h1v1h-1zM157.8 62.0h1v1h-1zM136.0 63.1h1v1h-1zM139.2 63.6h1v1h-1zM141.4 63.3h1v1h-1zM146.6 63.6h1v1h-1zM148.3 63.2h1v1h-1zM150.4 63.5h1v1h-1zM155.6 63.3h1v1h-1zM157.1 63.7h1v1h-1zM160.3 63.8h1v1h-1zM126.7 64.7h1v1h-1zM128.3 64.1h1v1h-1zM137.3 64.6h1v1h-1zM144.4 64.1h1v1h-1zM147.2 64.1h1v1h-1zM152.7 64.0h1v1h-1zM158.4 64.1h1v1h-1zM162.1 64.4h1v1h-1zM126.8 65.4h1v1h-1zM133.4 65.3h1v1h-1zM144.5 65.5h1v1h-1zM151.3 65.2h1v1h-1zM157.3 65.7h1v1h-1zM126.6 66.4h1v1h-1zM135.7 66.4h1v1h-1zM141.1 66.8h1v1h-1zM148.5 66.3h1v1h-1zM150.3 66.3h1v1h-1zM153.6 66.7h1v1h-1zM154.7 67.8h1v1h-1zM159.1 67.5h1v1h-1zM162.1 67.0h1v1h-1zM134.5 68.7h1v1h-1zM148.2 68.6h1v1h-1zM167.7 68.3h1v1h-1zM159.7 69.7h1v1h-1zM162.6 69.6h1v1h-1zM165.6 69.9h1v1h-1zM166.2 69.7h1v1h-1zM167.2 69.6h1v1h-1zM144.4 70.0h1v1h-1zM151.5 70.7h1v1h-1zM141.7 71.8h1v1h-1zM143.5 71.5h1v1h-1zM165.8 71.5h1v1h-1zM168.4 71.5h1v1h-1zM145.0 72.5h1v1h-1zM146.2 72.6h1v1h-1zM170.7 72.1h1v1h-1zM126.7 73.6h1v1h-1zM141.7 73.2h1v1h-1zM157.1 73.8h1v1h-1zM165.3 73.1h1v1h-1zM166.6 73.6h1v1h-1zM150.9 74.2h1v1h-1zM171.5 74.3h1v1h-1zM172.3 74.1h1v1h-1zM131.6 75.9h1v1h-1zM144.7 75.4h1v1h-1zM148.1 75.0h1v1h-1zM149.4 75.0h1v1h-1zM150.2 75.6h1v1h-1zM163.1 75.4h1v1h-1zM172.7 75.6h1v1h-1zM126.0 76.6h1v1h-1zM166.3 76.9h1v1h-1zM131.8 77.9h1v1h-1zM163.8 77.5h1v1h-1zM155.7 78.4h1v1h-1zM157.2 78.7h1v1h-1zM140.0 79.6h1v1h-1zM125.3 81.5h1v1h-1zM128.8 81.6h1v1h-1zM261.7 49.4h1v1h-1zM263.2 49.1h1v1h-1zM267.7 50.0h1v1h-1zM266.1 53.3h1v1h-1zM258.2 54.4h1v1h-1zM247.5 55.8h1v1h-1zM258.5 55.8h1v1h-1zM241.7 56.5h1v1h-1zM243.5 56.1h1v1h-1zM250.9 56.3h1v1h-1zM241.4 57.2h1v1h-1zM242.7 57.9h1v1h-1zM251.6 57.2h1v1h-1zM255.7 57.8h1v1h-1zM262.6 57.4h1v1h-1zM256.0 58.0h1v1h-1zM239.1 59.5h1v1h-1zM235.2 60.2h1v1h-1zM242.3 60.9h1v1h-1zM246.0 60.5h1v1h-1zM255.3 60.5h1v1h-1zM256.9 60.8h1v1h-1zM251.8 61.7h1v1h-1zM218.2 62.1h1v1h-1zM228.5 62.0h1v1h-1zM236.0 62.0h1v1h-1zM230.1 63.6h1v1h-1zM232.8 63.5h1v1h-1zM242.8 63.2h1v1h-1zM245.1 63.8h1v1h-1zM214.2 64.2h1v1h-1zM219.5 64.2h1v1h-1zM236.2 64.2h1v1h-1zM228.3 65.6h1v1h-1zM210.2 66.4h1v1h-1zM248.1 66.6h1v1h-1zM239.7 67.7h1v1h-1zM245.3 67.5h1v1h-1zM215.1 68.1h1v1h-1zM243.3 69.5h1v1h-1zM205.6 70.3h1v1h-1zM207.5 70.2h1v1h-1zM225.7 70.2h1v1h-1zM230.8 71.1h1v1h-1zM206.7 72.2h1v1h-1zM207.5 72.3h1v1h-1zM239.3 72.5h1v1h-1zM232.3 73.3h1v1h-1zM237.8 73.8h1v1h-1zM228.2 74.9h1v1h-1zM231.9 74.7h1v1h-1zM233.7 74.8h1v1h-1zM206.6 75.4h1v1h-1zM231.2 75.8h1v1h-1zM213.0 76.8h1v1h-1zM216.1 76.7h1v1h-1zM213.4 77.8h1v1h-1zM216.1 77.5h1v1h-1zM208.1 78.7h1v1h-1zM336.4 25.7h1v1h-1zM344.7 25.5h1v1h-1zM348.6 26.4h1v1h-1zM339.0 27.5h1v1h-1zM331.6 28.7h1v1h-1zM333.6 28.4h1v1h-1zM339.7 28.0h1v1h-1zM345.1 28.2h1v1h-1zM349.2 28.8h1v1h-1zM328.7 29.5h1v1h-1zM331.6 29.9h1v1h-1zM333.8 29.2h1v1h-1zM350.8 29.4h1v1h-1zM324.1 30.5h1v1h-1zM339.3 30.6h1v1h-1zM347.3 32.7h1v1h-1zM322.5 33.8h1v1h-1zM323.3 33.7h1v1h-1zM319.2 34.4h1v1h-1zM321.2 34.7h1v1h-1zM323.2 34.4h1v1h-1zM350.1 35.4h1v1h-1zM319.0 36.3h1v1h-1zM323.4 36.1h1v1h-1zM316.1 37.1h1v1h-1zM317.5 39.6h1v1h-1zM354.4 39.1h1v1h-1zM317.9 40.2h1v1h-1zM320.3 41.6h1v1h-1zM316.2 42.2h1v1h-1zM315.1 44.7h1v1h-1zM318.6 44.6h1v1h-1zM353.4 44.9h1v1h-1zM318.3 45.2h1v1h-1zM352.8 45.6h1v1h-1zM354.0 46.4h1v1h-1zM313.2 47.0h1v1h-1zM314.9 48.7h1v1h-1zM321.5 48.5h1v1h-1zM311.4 49.4h1v1h-1zM353.3 50.3h1v1h-1zM308.0 51.5h1v1h-1zM310.6 51.1h1v1h-1zM354.4 51.3h1v1h-1zM316.0 52.4h1v1h-1zM351.1 52.9h1v1h-1zM348.3 53.3h1v1h-1zM349.5 53.5h1v1h-1zM354.1 53.5h1v1h-1zM311.0 54.8h1v1h-1zM307.3 55.4h1v1h-1zM315.3 55.5h1v1h-1zM307.5 56.9h1v1h-1zM308.7 56.3h1v1h-1zM310.9 56.6h1v1h-1zM350.5 56.7h1v1h-1zM351.5 56.0h1v1h-1zM307.3 57.7h1v1h-1zM309.6 57.6h1v1h-1zM310.4 57.1h1v1h-1zM318.1 57.2h1v1h-1zM324.6 57.2h1v1h-1zM315.5 58.5h1v1h-1zM349.3 58.4h1v1h-1zM300.6 59.1h1v1h-1zM304.6 59.6h1v1h-1zM308.8 59.1h1v1h-1zM290.4 60.2h1v1h-1zM292.2 60.4h1v1h-1zM303.4 60.4h1v1h-1zM304.1 60.1h1v1h-1zM306.7 60.4h1v1h-1zM313.4 60.1h1v1h-1zM314.3 60.6h1v1h-1zM326.6 60.3h1v1h-1zM287.7 61.2h1v1h-1zM293.5 61.9h1v1h-1zM312.4 61.8h1v1h-1zM316.7 61.3h1v1h-1zM320.9 61.1h1v1h-1zM321.8 61.3h1v1h-1zM291.0 62.3h1v1h-1zM292.9 62.7h1v1h-1zM293.3 62.2h1v1h-1zM313.5 62.4h1v1h-1zM320.6 62.8h1v1h-1zM324.6 62.2h1v1h-1zM326.4 62.4h1v1h-1zM291.3 63.6h1v1h-1zM304.2 63.1h1v1h-1zM313.3 63.6h1v1h-1zM318.5 63.3h1v1h-1zM333.1 63.0h1v1h-1zM299.8 64.8h1v1h-1zM335.1 64.4h1v1h-1zM303.0 65.3h1v1h-1zM308.6 65.8h1v1h-1zM316.5 65.7h1v1h-1zM324.8 65.6h1v1h-1zM327.7 65.0h1v1h-1zM294.2 66.7h1v1h-1zM299.7 66.3h1v1h-1zM302.6 66.5h1v1h-1zM322.7 66.4h1v1h-1zM325.7 66.4h1v1h-1zM327.7 66.4h1v1h-1zM330.5 66.9h1v1h-1zM291.2 67.7h1v1h-1zM293.6 67.7h1v1h-1zM298.7 67.5h1v1h-1zM306.4 67.3h1v1h-1zM313.2 67.3h1v1h-1zM317.3 67.2h1v1h-1zM318.6 68.1h1v1h-1zM320.4 68.7h1v1h-1zM327.7 68.5h1v1h-1zM291.1 69.5h1v1h-1zM297.8 69.5h1v1h-1zM303.6 69.4h1v1h-1zM321.0 69.7h1v1h-1zM285.2 70.1h1v1h-1zM290.5 70.3h1v1h-1zM298.4 70.7h1v1h-1zM327.9 70.1h1v1h-1zM332.3 70.4h1v1h-1zM291.0 71.8h1v1h-1zM287.5 72.4h1v1h-1zM293.8 72.6h1v1h-1zM302.4 72.2h1v1h-1zM322.8 72.3h1v1h-1zM304.8 73.5h1v1h-1zM306.3 73.3h1v1h-1zM314.1 73.8h1v1h-1zM323.7 73.5h1v1h-1zM326.1 73.5h1v1h-1zM291.8 74.9h1v1h-1zM292.8 74.4h1v1h-1zM303.1 74.2h1v1h-1zM311.1 74.2h1v1h-1zM290.0 75.9h1v1h-1zM293.6 75.7h1v1h-1zM320.1 75.8h1v1h-1zM323.8 75.6h1v1h-1zM330.4 75.6h1v1h-1zM286.3 76.4h1v1h-1zM304.6 76.0h1v1h-1zM307.2 76.4h1v1h-1zM319.8 76.8h1v1h-1zM324.9 76.3h1v1h-1zM328.7 76.5h1v1h-1zM329.0 76.2h1v1h-1zM292.7 77.0h1v1h-1zM311.7 77.2h1v1h-1zM313.5 77.5h1v1h-1zM314.2 77.1h1v1h-1zM305.7 78.3h1v1h-1zM307.9 78.2h1v1h-1zM310.3 78.5h1v1h-1zM316.5 78.2h1v1h-1zM289.1 80.2h1v1h-1zM291.4 80.2h1v1h-1zM287.9 81.4h1v1h-1z"/>
<g filter="url(#fb)" fill="none" stroke-linejoin="round">
<path d="M125.2,81.6 L126.9,69.5 L131.5,66.3 L143,67.2 L158,69.5 L168.4,71.8 L174.2,75.3" stroke="#555" stroke-width="0.9" stroke-opacity="0.45"/>
<path d="M135,75 Q150,72.5 166,75 Q150,77.5 135,76.2 Z" stroke="#444" stroke-width="0.7" stroke-opacity="0.4"/>
<path d="M285.8,81 L286.3,69.5 L291.5,68.4 L303,67.8 L314.6,67.2 L326,69 L334.2,70.7 L337.7,73 L332,75.3 L320.4,77.6 L308.8,78.8 L297.3,80 Z" stroke="#555" stroke-width="0.9" stroke-opacity="0.4"/>
</g>
<ellipse cx="299" cy="74.1" rx="3.8" ry="2.7" fill="#999" fill-opacity="0.5" stroke="#444" stroke-width="1" stroke-opacity="0.85" filter="url(#fb)"/>
<polyline fill="none" stroke="#707070" stroke-width="0.75" points="50.5,84 52.6,60 64.4,30.5 74.5,22.6"/>
<polyline fill="none" stroke="#707070" stroke-width="0.75" points="133,84 134.5,58 143.8,30.5 156,22.6"/>
<polyline fill="none" stroke="#707070" stroke-width="0.75" points="211.8,84 213.7,58 224.4,31 235,22.6"/>
<polyline fill="none" stroke="#707070" stroke-width="0.75" points="292.5,63.5 306,30.3 316.5,22.6"/>
<line x1="36.5" y1="21.8" x2="357" y2="21.8" stroke="#b4b4b4" stroke-width="1.5"/>
<line x1="36.8" y1="21.5" x2="36.8" y2="84" stroke="#b0b0b0" stroke-width="1"/>
<line x1="116.3" y1="21" x2="116.3" y2="84.6" stroke="#a2a2a2" stroke-width="2.3"/>
<line x1="196.3" y1="21" x2="196.3" y2="84.6" stroke="#a2a2a2" stroke-width="2.3"/>
<line x1="276.3" y1="21" x2="276.3" y2="84.6" stroke="#a2a2a2" stroke-width="2.3"/>
<line x1="356.2" y1="21" x2="356.2" y2="84.6" stroke="#a2a2a2" stroke-width="2"/>
<line x1="36.3" y1="83.9" x2="357" y2="83.9" stroke="#999" stroke-width="1.4"/>
<text x="97.30" y="82.20" font-size="15.5" fill="#0a0a0a" textLength="16.70" lengthAdjust="spacingAndGlyphs">93</text>
<text x="179.00" y="82.20" font-size="15.5" fill="#0a0a0a" textLength="15.60" lengthAdjust="spacingAndGlyphs">95</text>
<text x="259.00" y="82.20" font-size="15.5" fill="#0a0a0a" textLength="15.60" lengthAdjust="spacingAndGlyphs">92</text>
<text x="339.00" y="82.20" font-size="15.5" fill="#0a0a0a" textLength="15.60" lengthAdjust="spacingAndGlyphs">85</text>
<text x="64.60" y="17.60" font-size="8.8" fill="#111" textLength="23.10" lengthAdjust="spacingAndGlyphs">Day 0</text>
<text x="148.50" y="17.60" font-size="8.8" fill="#111" textLength="22.10" lengthAdjust="spacingAndGlyphs">Day 7</text>
<text x="224.60" y="17.60" font-size="8.8" fill="#111" textLength="23.10" lengthAdjust="spacingAndGlyphs">Day 0</text>
<text x="304.60" y="17.60" font-size="8.8" fill="#111" textLength="23.10" lengthAdjust="spacingAndGlyphs">Day 7</text>
<text x="100.40" y="10.30" font-size="11.8" fill="#111" textLength="28.60" lengthAdjust="spacingAndGlyphs">Mock</text>
<text x="262.10" y="9.30" font-size="10.8" fill="#111" textLength="27.70" lengthAdjust="spacingAndGlyphs">R848</text>
<path d="M339.6,41.6 L344.1,32.4 L349.5,36.8 Z" fill="#000"/>
<text x="33.60" y="85.80" font-size="5.2" text-anchor="end" fill="#333">0</text>
<line x1="35.2" y1="84.0" x2="36.6" y2="84.0" stroke="#888" stroke-width="0.7"/>
<text x="33.60" y="73.40" font-size="5.2" text-anchor="end" fill="#333">200</text>
<line x1="35.2" y1="71.6" x2="36.6" y2="71.6" stroke="#888" stroke-width="0.7"/>
<text x="33.60" y="61.00" font-size="5.2" text-anchor="end" fill="#333">400</text>
<line x1="35.2" y1="59.2" x2="36.6" y2="59.2" stroke="#888" stroke-width="0.7"/>
<text x="33.60" y="48.60" font-size="5.2" text-anchor="end" fill="#333">600</text>
<line x1="35.2" y1="46.8" x2="36.6" y2="46.8" stroke="#888" stroke-width="0.7"/>
<text x="33.60" y="36.20" font-size="5.2" text-anchor="end" fill="#333">800</text>
<line x1="35.2" y1="34.4" x2="36.6" y2="34.4" stroke="#888" stroke-width="0.7"/>
<text x="33.60" y="23.80" font-size="5.2" text-anchor="end" fill="#333">1000</text>
<line x1="35.2" y1="22.0" x2="36.6" y2="22.0" stroke="#888" stroke-width="0.7"/>
<text x="36.10" y="89.20" font-size="5.2" text-anchor="middle" fill="#333">0</text>
<text x="52.52" y="89.20" font-size="5.2" text-anchor="middle" fill="#333">200</text>
<text x="67.64" y="89.20" font-size="5.2" text-anchor="middle" fill="#333">400</text>
<text x="82.76" y="89.20" font-size="5.2" text-anchor="middle" fill="#333">600</text>
<text x="97.88" y="89.20" font-size="5.2" text-anchor="middle" fill="#333">800</text>
<text x="113.00" y="89.20" font-size="5.2" text-anchor="middle" fill="#333">1000</text>
<text x="132.52" y="89.20" font-size="5.2" text-anchor="middle" fill="#333">200</text>
<text x="147.64" y="89.20" font-size="5.2" text-anchor="middle" fill="#333">400</text>
<text x="162.76" y="89.20" font-size="5.2" text-anchor="middle" fill="#333">600</text>
<text x="177.88" y="89.20" font-size="5.2" text-anchor="middle" fill="#333">800</text>
<text x="193.00" y="89.20" font-size="5.2" text-anchor="middle" fill="#333">1000</text>
<text x="212.52" y="89.20" font-size="5.2" text-anchor="middle" fill="#333">200</text>
<text x="227.64" y="89.20" font-size="5.2" text-anchor="middle" fill="#333">400</text>
<text x="242.76" y="89.20" font-size="5.2" text-anchor="middle" fill="#333">600</text>
<text x="257.88" y="89.20" font-size="5.2" text-anchor="middle" fill="#333">800</text>
<text x="273.00" y="89.20" font-size="5.2" text-anchor="middle" fill="#333">1000</text>
<text x="292.52" y="89.20" font-size="5.2" text-anchor="middle" fill="#333">200</text>
<text x="307.64" y="89.20" font-size="5.2" text-anchor="middle" fill="#333">400</text>
<text x="322.76" y="89.20" font-size="5.2" text-anchor="middle" fill="#333">600</text>
<text x="337.88" y="89.20" font-size="5.2" text-anchor="middle" fill="#333">800</text>
<text x="353.00" y="89.20" font-size="5.2" text-anchor="middle" fill="#333">1000</text>
<line x1="22" y1="64" x2="22" y2="96.4" stroke="#222" stroke-width="1.3"/>
<path d="M22,60.4 L19.6,65.6 L24.4,65.6 Z" fill="#111"/>
<text x="20.60" y="96.30" font-size="7.8" fill="#111" textLength="15.40" lengthAdjust="spacingAndGlyphs" transform="rotate(-90 20.60 96.30)" stroke="#111" stroke-width="0.25">SSC</text>
<line x1="30.6" y1="96.3" x2="73.5" y2="96.3" stroke="#222" stroke-width="1.2"/>
<path d="M78.2,96.3 L72.4,93.9 L72.4,98.7 Z" fill="#111"/>
<text x="30.80" y="104.20" font-size="7.9" fill="#111" textLength="14.60" lengthAdjust="spacingAndGlyphs" stroke="#111" stroke-width="0.25">FSC</text>
<line x1="419.20" y1="37.40" x2="419.20" y2="31.60" stroke="#444" stroke-width="1.05"/>
<line x1="415.78" y1="31.60" x2="422.62" y2="31.60" stroke="#444" stroke-width="1.1"/>
<rect x="411.60" y="37.40" width="15.20" height="45.60" fill="#050505"/>
<line x1="441.00" y1="31.60" x2="441.00" y2="29.00" stroke="#444" stroke-width="1.05"/>
<line x1="437.58" y1="29.00" x2="444.42" y2="29.00" stroke="#444" stroke-width="1.1"/>
<rect x="434.05" y="32.25" width="13.90" height="50.75" fill="url(#hatch)" stroke="#1a1a1a" stroke-width="1.3"/>
<line x1="463.85" y1="27.40" x2="463.85" y2="21.20" stroke="#444" stroke-width="1.05"/>
<line x1="460.41" y1="21.20" x2="467.29" y2="21.20" stroke="#444" stroke-width="1.1"/>
<rect x="456.85" y="28.05" width="14.00" height="54.95" fill="#fff" stroke="#1a1a1a" stroke-width="1.3"/>
<text x="464.25" y="19.00" font-size="4.4" font-style="italic" text-anchor="middle" fill="#555">P = .33</text>
<line x1="485.85" y1="36.90" x2="485.85" y2="32.30" stroke="#444" stroke-width="1.05"/>
<line x1="482.41" y1="32.30" x2="489.29" y2="32.30" stroke="#444" stroke-width="1.1"/>
<rect x="478.85" y="37.55" width="14.00" height="45.45" fill="#fff" stroke="#1a1a1a" stroke-width="1.3"/>
<text x="486.25" y="30.10" font-size="4.4" font-style="italic" text-anchor="middle" fill="#555">P = .83</text>
<line x1="508.00" y1="18.80" x2="508.00" y2="12.30" stroke="#444" stroke-width="1.05"/>
<line x1="504.53" y1="12.30" x2="511.47" y2="12.30" stroke="#444" stroke-width="1.1"/>
<rect x="500.95" y="19.45" width="14.10" height="63.55" fill="#fff" stroke="#1a1a1a" stroke-width="1.3"/>
<text x="508.40" y="9.40" font-size="4.4" font-style="italic" text-anchor="middle" fill="#555">P = .10</text>
<line x1="408.30" y1="8.80" x2="408.30" y2="83.00" stroke="#1a1a1a" stroke-width="1.3"/>
<line x1="407.70" y1="83.00" x2="518.00" y2="83.00" stroke="#1a1a1a" stroke-width="1.3"/>
<line x1="406.30" y1="83.00" x2="408.30" y2="83.00" stroke="#1a1a1a" stroke-width="1"/>
<text x="406.00" y="84.87" font-size="5.2" font-weight="bold" text-anchor="end" fill="#2a2a2a">0</text>
<line x1="406.30" y1="72.40" x2="408.30" y2="72.40" stroke="#1a1a1a" stroke-width="1"/>
<text x="406.00" y="74.27" font-size="5.2" font-weight="bold" text-anchor="end" fill="#2a2a2a">1</text>
<line x1="406.30" y1="61.80" x2="408.30" y2="61.80" stroke="#1a1a1a" stroke-width="1"/>
<text x="406.00" y="63.67" font-size="5.2" font-weight="bold" text-anchor="end" fill="#2a2a2a">2</text>
<line x1="406.30" y1="51.20" x2="408.30" y2="51.20" stroke="#1a1a1a" stroke-width="1"/>
<text x="406.00" y="53.07" font-size="5.2" font-weight="bold" text-anchor="end" fill="#2a2a2a">3</text>
<line x1="406.30" y1="40.60" x2="408.30" y2="40.60" stroke="#1a1a1a" stroke-width="1"/>
<text x="406.00" y="42.47" font-size="5.2" font-weight="bold" text-anchor="end" fill="#2a2a2a">4</text>
<line x1="406.30" y1="30.00" x2="408.30" y2="30.00" stroke="#1a1a1a" stroke-width="1"/>
<text x="406.00" y="31.87" font-size="5.2" font-weight="bold" text-anchor="end" fill="#2a2a2a">5</text>
<line x1="406.30" y1="19.40" x2="408.30" y2="19.40" stroke="#1a1a1a" stroke-width="1"/>
<text x="406.00" y="21.27" font-size="5.2" font-weight="bold" text-anchor="end" fill="#2a2a2a">6</text>
<line x1="406.30" y1="8.80" x2="408.30" y2="8.80" stroke="#1a1a1a" stroke-width="1"/>
<text x="406.00" y="10.67" font-size="5.2" font-weight="bold" text-anchor="end" fill="#2a2a2a">7</text>
<line x1="419.20" y1="83.00" x2="419.20" y2="84.80" stroke="#1a1a1a" stroke-width="1"/>
<line x1="441.00" y1="83.00" x2="441.00" y2="84.80" stroke="#1a1a1a" stroke-width="1"/>
<line x1="463.85" y1="83.00" x2="463.85" y2="84.80" stroke="#1a1a1a" stroke-width="1"/>
<line x1="485.85" y1="83.00" x2="485.85" y2="84.80" stroke="#1a1a1a" stroke-width="1"/>
<line x1="508.00" y1="83.00" x2="508.00" y2="84.80" stroke="#1a1a1a" stroke-width="1"/>
<text x="419.00" y="90.60" font-size="5.6" font-weight="bold" text-anchor="middle" fill="#1a1a1a" stroke="#1a1a1a" stroke-width="0.15">Mock</text>
<text x="441.00" y="90.60" font-size="5.6" font-weight="bold" text-anchor="middle" fill="#1a1a1a" stroke="#1a1a1a" stroke-width="0.15">pIC</text>
<text x="463.50" y="90.60" font-size="5.6" font-weight="bold" text-anchor="middle" fill="#1a1a1a" stroke="#1a1a1a" stroke-width="0.15">0.01mg</text>
<text x="485.50" y="90.60" font-size="5.6" font-weight="bold" text-anchor="middle" fill="#1a1a1a" stroke="#1a1a1a" stroke-width="0.15">0.1mg</text>
<text x="507.80" y="90.60" font-size="5.6" font-weight="bold" text-anchor="middle" fill="#1a1a1a" stroke="#1a1a1a" stroke-width="0.15">1mg</text>
<text x="438.70" y="6.90" font-size="9.0" font-weight="bold" fill="#0a0a0a" textLength="49.00" lengthAdjust="spacingAndGlyphs" stroke="#0a0a0a" stroke-width="0.3">Leukocytes</text>
<text x="394.80" y="45.80" font-size="6.5" font-weight="bold" text-anchor="middle" fill="#222" textLength="20.20" lengthAdjust="spacingAndGlyphs" transform="rotate(-90 394.80 45.80)">mio/mL</text>
<line x1="39.10" y1="157.80" x2="39.10" y2="155.00" stroke="#444" stroke-width="1.05"/>
<line x1="36.53" y1="155.00" x2="41.66" y2="155.00" stroke="#444" stroke-width="1.1"/>
<rect x="33.40" y="157.80" width="11.40" height="47.40" fill="#050505"/>
<line x1="56.60" y1="153.70" x2="56.60" y2="149.70" stroke="#444" stroke-width="1.05"/>
<line x1="54.03" y1="149.70" x2="59.16" y2="149.70" stroke="#444" stroke-width="1.1"/>
<rect x="51.55" y="154.35" width="10.10" height="50.85" fill="url(#hatch)" stroke="#1a1a1a" stroke-width="1.3"/>
<line x1="73.45" y1="153.90" x2="73.45" y2="151.00" stroke="#444" stroke-width="1.05"/>
<line x1="70.73" y1="151.00" x2="76.17" y2="151.00" stroke="#444" stroke-width="1.1"/>
<rect x="68.05" y="154.55" width="10.80" height="50.65" fill="#fff" stroke="#1a1a1a" stroke-width="1.3"/>
<line x1="90.40" y1="175.90" x2="90.40" y2="172.40" stroke="#444" stroke-width="1.05"/>
<line x1="87.75" y1="172.40" x2="93.06" y2="172.40" stroke="#444" stroke-width="1.1"/>
<rect x="85.15" y="176.55" width="10.50" height="28.65" fill="#fff" stroke="#1a1a1a" stroke-width="1.3"/>
<text x="90.40" y="171.30" font-size="9.5" font-weight="bold" text-anchor="middle" fill="#111">**</text>
<line x1="107.45" y1="177.50" x2="107.45" y2="174.40" stroke="#444" stroke-width="1.05"/>
<line x1="104.77" y1="174.40" x2="110.13" y2="174.40" stroke="#444" stroke-width="1.1"/>
<rect x="102.15" y="178.15" width="10.60" height="27.05" fill="#fff" stroke="#1a1a1a" stroke-width="1.3"/>
<text x="107.45" y="171.30" font-size="9.5" font-weight="bold" text-anchor="middle" fill="#111">**</text>
<line x1="130.10" y1="166.30" x2="130.10" y2="159.30" stroke="#444" stroke-width="1.05"/>
<line x1="127.54" y1="159.30" x2="132.67" y2="159.30" stroke="#444" stroke-width="1.1"/>
<rect x="124.40" y="166.30" width="11.40" height="38.90" fill="#050505"/>
<line x1="147.45" y1="169.30" x2="147.45" y2="168.80" stroke="#444" stroke-width="1.05"/>
<line x1="144.82" y1="168.80" x2="150.08" y2="168.80" stroke="#444" stroke-width="1.1"/>
<rect x="142.25" y="169.95" width="10.40" height="35.25" fill="#fff" stroke="#1a1a1a" stroke-width="1.3"/>
<line x1="31.00" y1="142.30" x2="31.00" y2="205.20" stroke="#1a1a1a" stroke-width="1.3"/>
<line x1="30.40" y1="205.20" x2="156.00" y2="205.20" stroke="#1a1a1a" stroke-width="1.3"/>
<line x1="29.00" y1="205.20" x2="31.00" y2="205.20" stroke="#1a1a1a" stroke-width="1"/>
<text x="28.70" y="206.96" font-size="4.9" font-weight="bold" text-anchor="end" fill="#2a2a2a">0</text>
<line x1="29.00" y1="189.47" x2="31.00" y2="189.47" stroke="#1a1a1a" stroke-width="1"/>
<text x="28.70" y="191.24" font-size="4.9" font-weight="bold" text-anchor="end" fill="#2a2a2a">25</text>
<line x1="29.00" y1="173.75" x2="31.00" y2="173.75" stroke="#1a1a1a" stroke-width="1"/>
<text x="28.70" y="175.51" font-size="4.9" font-weight="bold" text-anchor="end" fill="#2a2a2a">50</text>
<line x1="29.00" y1="158.03" x2="31.00" y2="158.03" stroke="#1a1a1a" stroke-width="1"/>
<text x="28.70" y="159.79" font-size="4.9" font-weight="bold" text-anchor="end" fill="#2a2a2a">75</text>
<line x1="29.00" y1="142.30" x2="31.00" y2="142.30" stroke="#1a1a1a" stroke-width="1"/>
<text x="28.70" y="144.06" font-size="4.9" font-weight="bold" text-anchor="end" fill="#2a2a2a">100</text>
<line x1="39.10" y1="205.20" x2="39.10" y2="207.00" stroke="#1a1a1a" stroke-width="1"/>
<line x1="56.60" y1="205.20" x2="56.60" y2="207.00" stroke="#1a1a1a" stroke-width="1"/>
<line x1="73.45" y1="205.20" x2="73.45" y2="207.00" stroke="#1a1a1a" stroke-width="1"/>
<line x1="90.40" y1="205.20" x2="90.40" y2="207.00" stroke="#1a1a1a" stroke-width="1"/>
<line x1="107.45" y1="205.20" x2="107.45" y2="207.00" stroke="#1a1a1a" stroke-width="1"/>
<line x1="130.10" y1="205.20" x2="130.10" y2="207.00" stroke="#1a1a1a" stroke-width="1"/>
<line x1="147.45" y1="205.20" x2="147.45" y2="207.00" stroke="#1a1a1a" stroke-width="1"/>
<text x="39.10" y="211.90" font-size="4.85" font-weight="bold" text-anchor="middle" fill="#1a1a1a" stroke="#1a1a1a" stroke-width="0.15">Mock</text>
<text x="56.60" y="211.90" font-size="4.85" font-weight="bold" text-anchor="middle" fill="#1a1a1a" stroke="#1a1a1a" stroke-width="0.15">pIC</text>
<text x="73.50" y="211.90" font-size="4.85" font-weight="bold" text-anchor="middle" fill="#1a1a1a" stroke="#1a1a1a" stroke-width="0.15">0.01mg</text>
<text x="90.40" y="211.90" font-size="4.85" font-weight="bold" text-anchor="middle" fill="#1a1a1a" stroke="#1a1a1a" stroke-width="0.15">0.1mg</text>
<text x="107.50" y="211.90" font-size="4.85" font-weight="bold" text-anchor="middle" fill="#1a1a1a" stroke="#1a1a1a" stroke-width="0.15">1mg</text>
<text x="130.10" y="211.90" font-size="4.85" font-weight="bold" text-anchor="middle" fill="#1a1a1a" stroke="#1a1a1a" stroke-width="0.15">Mock</text>
<text x="147.50" y="211.90" font-size="4.85" font-weight="bold" text-anchor="middle" fill="#1a1a1a" stroke="#1a1a1a" stroke-width="0.15">1mg</text>
<text x="64.00" y="139.80" font-size="9.4" font-weight="bold" fill="#0a0a0a" textLength="58.60" lengthAdjust="spacingAndGlyphs" stroke="#0a0a0a" stroke-width="0.3">Lymphocytes</text>
<text x="18.30" y="174.30" font-size="5.5" font-weight="bold" text-anchor="middle" fill="#222" transform="rotate(-90 18.30 174.30)">%</text>
<line x1="205.70" y1="166.60" x2="205.70" y2="163.20" stroke="#444" stroke-width="1.05"/>
<line x1="202.82" y1="163.20" x2="208.58" y2="163.20" stroke="#444" stroke-width="1.1"/>
<rect x="199.30" y="166.60" width="12.80" height="38.20" fill="#050505"/>
<line x1="225.05" y1="158.30" x2="225.05" y2="144.10" stroke="#444" stroke-width="1.05"/>
<line x1="222.10" y1="144.10" x2="228.00" y2="144.10" stroke="#444" stroke-width="1.1"/>
<rect x="219.15" y="158.95" width="11.80" height="45.85" fill="url(#hatch)" stroke="#1a1a1a" stroke-width="1.3"/>
<line x1="244.00" y1="176.80" x2="244.00" y2="176.20" stroke="#444" stroke-width="1.05"/>
<line x1="241.03" y1="176.20" x2="246.97" y2="176.20" stroke="#444" stroke-width="1.1"/>
<rect x="238.05" y="177.45" width="11.90" height="27.35" fill="#fff" stroke="#1a1a1a" stroke-width="1.3"/>
<text x="244.00" y="174.60" font-size="9.5" font-weight="bold" text-anchor="middle" fill="#111">*</text>
<line x1="263.35" y1="192.00" x2="263.35" y2="190.20" stroke="#444" stroke-width="1.05"/>
<line x1="260.45" y1="190.20" x2="266.25" y2="190.20" stroke="#444" stroke-width="1.1"/>
<rect x="257.55" y="192.65" width="11.60" height="12.15" fill="#fff" stroke="#1a1a1a" stroke-width="1.3"/>
<text x="263.35" y="188.50" font-size="9.5" font-weight="bold" text-anchor="middle" fill="#111">***</text>
<line x1="282.20" y1="194.30" x2="282.20" y2="190.80" stroke="#444" stroke-width="1.05"/>
<line x1="279.37" y1="190.80" x2="285.03" y2="190.80" stroke="#444" stroke-width="1.1"/>
<rect x="276.55" y="194.95" width="11.30" height="9.85" fill="#fff" stroke="#1a1a1a" stroke-width="1.3"/>
<text x="282.20" y="188.50" font-size="9.5" font-weight="bold" text-anchor="middle" fill="#111">***</text>
<line x1="195.60" y1="140.50" x2="195.60" y2="204.80" stroke="#1a1a1a" stroke-width="1.3"/>
<line x1="195.00" y1="204.80" x2="292.00" y2="204.80" stroke="#1a1a1a" stroke-width="1.3"/>
<line x1="193.60" y1="204.80" x2="195.60" y2="204.80" stroke="#1a1a1a" stroke-width="1"/>
<text x="193.30" y="206.56" font-size="4.9" font-weight="bold" text-anchor="end" fill="#2a2a2a">0</text>
<line x1="193.60" y1="183.37" x2="195.60" y2="183.37" stroke="#1a1a1a" stroke-width="1"/>
<text x="193.30" y="185.13" font-size="4.9" font-weight="bold" text-anchor="end" fill="#2a2a2a">1000</text>
<line x1="193.60" y1="161.93" x2="195.60" y2="161.93" stroke="#1a1a1a" stroke-width="1"/>
<text x="193.30" y="163.70" font-size="4.9" font-weight="bold" text-anchor="end" fill="#2a2a2a">2000</text>
<line x1="193.60" y1="140.50" x2="195.60" y2="140.50" stroke="#1a1a1a" stroke-width="1"/>
<text x="193.30" y="142.26" font-size="4.9" font-weight="bold" text-anchor="end" fill="#2a2a2a">3000</text>
<line x1="205.70" y1="204.80" x2="205.70" y2="206.60" stroke="#1a1a1a" stroke-width="1"/>
<line x1="225.05" y1="204.80" x2="225.05" y2="206.60" stroke="#1a1a1a" stroke-width="1"/>
<line x1="244.00" y1="204.80" x2="244.00" y2="206.60" stroke="#1a1a1a" stroke-width="1"/>
<line x1="263.35" y1="204.80" x2="263.35" y2="206.60" stroke="#1a1a1a" stroke-width="1"/>
<line x1="282.20" y1="204.80" x2="282.20" y2="206.60" stroke="#1a1a1a" stroke-width="1"/>
<text x="205.70" y="211.90" font-size="5.2" font-weight="bold" text-anchor="middle" fill="#1a1a1a" stroke="#1a1a1a" stroke-width="0.15">Mock</text>
<text x="225.00" y="211.90" font-size="5.2" font-weight="bold" text-anchor="middle" fill="#1a1a1a" stroke="#1a1a1a" stroke-width="0.15">pIC</text>
<text x="244.00" y="211.90" font-size="5.2" font-weight="bold" text-anchor="middle" fill="#1a1a1a" stroke="#1a1a1a" stroke-width="0.15">0.01mg</text>
<text x="263.30" y="211.90" font-size="5.2" font-weight="bold" text-anchor="middle" fill="#1a1a1a" stroke="#1a1a1a" stroke-width="0.15">0.1mg</text>
<text x="282.20" y="211.90" font-size="5.2" font-weight="bold" text-anchor="middle" fill="#1a1a1a" stroke="#1a1a1a" stroke-width="0.15">1mg</text>
<text x="228.00" y="139.50" font-size="9.4" font-weight="bold" fill="#0a0a0a" textLength="30.00" lengthAdjust="spacingAndGlyphs" stroke="#0a0a0a" stroke-width="0.3">B-cells</text>
<text x="179.60" y="173.70" font-size="5.6" font-weight="bold" text-anchor="middle" fill="#222" textLength="52.00" lengthAdjust="spacingAndGlyphs" transform="rotate(-90 179.60 173.70)">absolute count / ul</text>
<line x1="316.80" y1="153.30" x2="316.80" y2="148.60" stroke="#444" stroke-width="1.05"/>
<line x1="313.83" y1="148.60" x2="319.77" y2="148.60" stroke="#444" stroke-width="1.1"/>
<rect x="310.20" y="153.30" width="13.20" height="51.20" fill="#050505"/>
<line x1="335.95" y1="177.50" x2="335.95" y2="167.40" stroke="#444" stroke-width="1.05"/>
<line x1="333.00" y1="167.40" x2="338.90" y2="167.40" stroke="#444" stroke-width="1.1"/>
<rect x="330.05" y="178.15" width="11.80" height="26.35" fill="url(#hatch)" stroke="#1a1a1a" stroke-width="1.3"/>
<line x1="355.00" y1="172.50" x2="355.00" y2="170.80" stroke="#444" stroke-width="1.05"/>
<line x1="352.07" y1="170.80" x2="357.93" y2="170.80" stroke="#444" stroke-width="1.1"/>
<rect x="349.15" y="173.15" width="11.70" height="31.35" fill="#fff" stroke="#1a1a1a" stroke-width="1.3"/>
<text x="355.00" y="171.00" font-size="9.5" font-weight="bold" text-anchor="middle" fill="#111">**</text>
<line x1="374.65" y1="180.20" x2="374.65" y2="177.80" stroke="#444" stroke-width="1.05"/>
<line x1="371.79" y1="177.80" x2="377.51" y2="177.80" stroke="#444" stroke-width="1.1"/>
<rect x="368.95" y="180.85" width="11.40" height="23.65" fill="#fff" stroke="#1a1a1a" stroke-width="1.3"/>
<text x="374.65" y="177.00" font-size="9.5" font-weight="bold" text-anchor="middle" fill="#111">***</text>
<line x1="394.00" y1="179.50" x2="394.00" y2="176.10" stroke="#444" stroke-width="1.05"/>
<line x1="391.03" y1="176.10" x2="396.97" y2="176.10" stroke="#444" stroke-width="1.1"/>
<rect x="388.05" y="180.15" width="11.90" height="24.35" fill="#fff" stroke="#1a1a1a" stroke-width="1.3"/>
<text x="394.00" y="175.60" font-size="9.5" font-weight="bold" text-anchor="middle" fill="#111">***</text>
<line x1="307.20" y1="140.90" x2="307.20" y2="204.50" stroke="#1a1a1a" stroke-width="1.3"/>
<line x1="306.60" y1="204.50" x2="403.00" y2="204.50" stroke="#1a1a1a" stroke-width="1.3"/>
<line x1="305.20" y1="204.50" x2="307.20" y2="204.50" stroke="#1a1a1a" stroke-width="1"/>
<text x="304.90" y="206.26" font-size="4.9" font-weight="bold" text-anchor="end" fill="#2a2a2a">0</text>
<line x1="305.20" y1="191.78" x2="307.20" y2="191.78" stroke="#1a1a1a" stroke-width="1"/>
<text x="304.90" y="193.54" font-size="4.9" font-weight="bold" text-anchor="end" fill="#2a2a2a">250</text>
<line x1="305.20" y1="179.06" x2="307.20" y2="179.06" stroke="#1a1a1a" stroke-width="1"/>
<text x="304.90" y="180.82" font-size="4.9" font-weight="bold" text-anchor="end" fill="#2a2a2a">500</text>
<line x1="305.20" y1="166.34" x2="307.20" y2="166.34" stroke="#1a1a1a" stroke-width="1"/>
<text x="304.90" y="168.10" font-size="4.9" font-weight="bold" text-anchor="end" fill="#2a2a2a">750</text>
<line x1="305.20" y1="153.62" x2="307.20" y2="153.62" stroke="#1a1a1a" stroke-width="1"/>
<text x="304.90" y="155.38" font-size="4.9" font-weight="bold" text-anchor="end" fill="#2a2a2a">1000</text>
<line x1="305.20" y1="140.90" x2="307.20" y2="140.90" stroke="#1a1a1a" stroke-width="1"/>
<text x="304.90" y="142.66" font-size="4.9" font-weight="bold" text-anchor="end" fill="#2a2a2a">1250</text>
<line x1="316.80" y1="204.50" x2="316.80" y2="206.30" stroke="#1a1a1a" stroke-width="1"/>
<line x1="335.95" y1="204.50" x2="335.95" y2="206.30" stroke="#1a1a1a" stroke-width="1"/>
<line x1="355.00" y1="204.50" x2="355.00" y2="206.30" stroke="#1a1a1a" stroke-width="1"/>
<line x1="374.65" y1="204.50" x2="374.65" y2="206.30" stroke="#1a1a1a" stroke-width="1"/>
<line x1="394.00" y1="204.50" x2="394.00" y2="206.30" stroke="#1a1a1a" stroke-width="1"/>
<text x="316.80" y="211.90" font-size="5.2" font-weight="bold" text-anchor="middle" fill="#1a1a1a" stroke="#1a1a1a" stroke-width="0.15">Mock</text>
<text x="336.00" y="211.90" font-size="5.2" font-weight="bold" text-anchor="middle" fill="#1a1a1a" stroke="#1a1a1a" stroke-width="0.15">pIC</text>
<text x="355.00" y="211.90" font-size="5.2" font-weight="bold" text-anchor="middle" fill="#1a1a1a" stroke="#1a1a1a" stroke-width="0.15">0.01mg</text>
<text x="374.60" y="211.90" font-size="5.2" font-weight="bold" text-anchor="middle" fill="#1a1a1a" stroke="#1a1a1a" stroke-width="0.15">0.1mg</text>
<text x="394.00" y="211.90" font-size="5.2" font-weight="bold" text-anchor="middle" fill="#1a1a1a" stroke="#1a1a1a" stroke-width="0.15">1mg</text>
<text x="345.40" y="141.20" font-size="9.4" font-weight="bold" fill="#0a0a0a" textLength="18.60" lengthAdjust="spacingAndGlyphs" stroke="#0a0a0a" stroke-width="0.3">CD4</text>
<line x1="431.60" y1="162.40" x2="431.60" y2="159.30" stroke="#444" stroke-width="1.05"/>
<line x1="428.72" y1="159.30" x2="434.48" y2="159.30" stroke="#444" stroke-width="1.1"/>
<rect x="425.20" y="162.40" width="12.80" height="42.40" fill="#050505"/>
<line x1="451.00" y1="160.30" x2="451.00" y2="146.30" stroke="#444" stroke-width="1.05"/>
<line x1="448.03" y1="146.30" x2="453.97" y2="146.30" stroke="#444" stroke-width="1.1"/>
<rect x="445.05" y="160.95" width="11.90" height="43.85" fill="url(#hatch)" stroke="#1a1a1a" stroke-width="1.3"/>
<line x1="470.00" y1="177.20" x2="470.00" y2="175.00" stroke="#444" stroke-width="1.05"/>
<line x1="467.07" y1="175.00" x2="472.93" y2="175.00" stroke="#444" stroke-width="1.1"/>
<rect x="464.15" y="177.85" width="11.70" height="26.95" fill="#fff" stroke="#1a1a1a" stroke-width="1.3"/>
<text x="470.00" y="175.10" font-size="9.5" font-weight="bold" text-anchor="middle" fill="#111">**</text>
<line x1="489.50" y1="185.20" x2="489.50" y2="183.10" stroke="#444" stroke-width="1.05"/>
<line x1="486.57" y1="183.10" x2="492.43" y2="183.10" stroke="#444" stroke-width="1.1"/>
<rect x="483.65" y="185.85" width="11.70" height="18.95" fill="#fff" stroke="#1a1a1a" stroke-width="1.3"/>
<text x="489.50" y="183.00" font-size="9.5" font-weight="bold" text-anchor="middle" fill="#111">***</text>
<line x1="509.00" y1="186.90" x2="509.00" y2="185.80" stroke="#444" stroke-width="1.05"/>
<line x1="506.07" y1="185.80" x2="511.93" y2="185.80" stroke="#444" stroke-width="1.1"/>
<rect x="503.15" y="187.55" width="11.70" height="17.25" fill="#fff" stroke="#1a1a1a" stroke-width="1.3"/>
<text x="509.00" y="185.10" font-size="9.5" font-weight="bold" text-anchor="middle" fill="#111">**</text>
<line x1="421.90" y1="140.90" x2="421.90" y2="204.80" stroke="#1a1a1a" stroke-width="1.3"/>
<line x1="421.30" y1="204.80" x2="518.00" y2="204.80" stroke="#1a1a1a" stroke-width="1.3"/>
<line x1="419.90" y1="204.80" x2="421.90" y2="204.80" stroke="#1a1a1a" stroke-width="1"/>
<text x="419.60" y="206.56" font-size="4.9" font-weight="bold" text-anchor="end" fill="#2a2a2a">0</text>
<line x1="419.90" y1="188.83" x2="421.90" y2="188.83" stroke="#1a1a1a" stroke-width="1"/>
<text x="419.60" y="190.59" font-size="4.9" font-weight="bold" text-anchor="end" fill="#2a2a2a">250</text>
<line x1="419.90" y1="172.85" x2="421.90" y2="172.85" stroke="#1a1a1a" stroke-width="1"/>
<text x="419.60" y="174.61" font-size="4.9" font-weight="bold" text-anchor="end" fill="#2a2a2a">500</text>
<line x1="419.90" y1="156.88" x2="421.90" y2="156.88" stroke="#1a1a1a" stroke-width="1"/>
<text x="419.60" y="158.64" font-size="4.9" font-weight="bold" text-anchor="end" fill="#2a2a2a">750</text>
<line x1="419.90" y1="140.90" x2="421.90" y2="140.90" stroke="#1a1a1a" stroke-width="1"/>
<text x="419.60" y="142.66" font-size="4.9" font-weight="bold" text-anchor="end" fill="#2a2a2a">1000</text>
<line x1="431.60" y1="204.80" x2="431.60" y2="206.60" stroke="#1a1a1a" stroke-width="1"/>
<line x1="451.00" y1="204.80" x2="451.00" y2="206.60" stroke="#1a1a1a" stroke-width="1"/>
<line x1="470.00" y1="204.80" x2="470.00" y2="206.60" stroke="#1a1a1a" stroke-width="1"/>
<line x1="489.50" y1="204.80" x2="489.50" y2="206.60" stroke="#1a1a1a" stroke-width="1"/>
<line x1="509.00" y1="204.80" x2="509.00" y2="206.60" stroke="#1a1a1a" stroke-width="1"/>
<text x="431.60" y="211.90" font-size="5.2" font-weight="bold" text-anchor="middle" fill="#1a1a1a" stroke="#1a1a1a" stroke-width="0.15">Mock</text>
<text x="451.00" y="211.90" font-size="5.2" font-weight="bold" text-anchor="middle" fill="#1a1a1a" stroke="#1a1a1a" stroke-width="0.15">pIC</text>
<text x="470.00" y="211.90" font-size="5.2" font-weight="bold" text-anchor="middle" fill="#1a1a1a" stroke="#1a1a1a" stroke-width="0.15">0.01mg</text>
<text x="489.50" y="211.90" font-size="5.2" font-weight="bold" text-anchor="middle" fill="#1a1a1a" stroke="#1a1a1a" stroke-width="0.15">0.1mg</text>
<text x="509.00" y="211.90" font-size="5.2" font-weight="bold" text-anchor="middle" fill="#1a1a1a" stroke="#1a1a1a" stroke-width="0.15">1mg</text>
<text x="460.10" y="141.00" font-size="9.4" font-weight="bold" fill="#0a0a0a" textLength="18.80" lengthAdjust="spacingAndGlyphs" stroke="#0a0a0a" stroke-width="0.3">CD8</text>
<line x1="39.05" y1="304.30" x2="39.05" y2="301.60" stroke="#444" stroke-width="1.05"/>
<line x1="36.42" y1="301.60" x2="41.68" y2="301.60" stroke="#444" stroke-width="1.1"/>
<rect x="33.20" y="304.30" width="11.70" height="8.90" fill="#050505"/>
<line x1="56.00" y1="292.60" x2="56.00" y2="288.60" stroke="#444" stroke-width="1.05"/>
<line x1="53.44" y1="288.60" x2="58.56" y2="288.60" stroke="#444" stroke-width="1.1"/>
<rect x="50.95" y="293.25" width="10.10" height="19.95" fill="url(#hatch)" stroke="#1a1a1a" stroke-width="1.3"/>
<line x1="73.05" y1="283.50" x2="73.05" y2="277.40" stroke="#444" stroke-width="1.05"/>
<line x1="70.51" y1="277.40" x2="75.59" y2="277.40" stroke="#444" stroke-width="1.1"/>
<rect x="68.05" y="284.15" width="10.00" height="29.05" fill="#fff" stroke="#1a1a1a" stroke-width="1.3"/>
<text x="73.05" y="277.00" font-size="9.5" font-weight="bold" text-anchor="middle" fill="#111">*</text>
<line x1="90.10" y1="276.30" x2="90.10" y2="262.60" stroke="#444" stroke-width="1.05"/>
<line x1="87.58" y1="262.60" x2="92.62" y2="262.60" stroke="#444" stroke-width="1.1"/>
<rect x="85.15" y="276.95" width="9.90" height="36.25" fill="#fff" stroke="#1a1a1a" stroke-width="1.3"/>
<text x="90.50" y="260.40" font-size="4.4" font-style="italic" text-anchor="middle" fill="#555">P = .12</text>
<line x1="107.00" y1="267.30" x2="107.00" y2="258.60" stroke="#444" stroke-width="1.05"/>
<line x1="104.53" y1="258.60" x2="109.47" y2="258.60" stroke="#444" stroke-width="1.1"/>
<rect x="102.15" y="267.95" width="9.70" height="45.25" fill="#fff" stroke="#1a1a1a" stroke-width="1.3"/>
<text x="107.00" y="257.90" font-size="9.5" font-weight="bold" text-anchor="middle" fill="#111">*</text>
<line x1="130.00" y1="278.00" x2="130.00" y2="268.70" stroke="#444" stroke-width="1.05"/>
<line x1="127.39" y1="268.70" x2="132.61" y2="268.70" stroke="#444" stroke-width="1.1"/>
<rect x="124.20" y="278.00" width="11.60" height="35.20" fill="#050505"/>
<line x1="147.10" y1="279.30" x2="147.10" y2="273.40" stroke="#444" stroke-width="1.05"/>
<line x1="144.54" y1="273.40" x2="149.67" y2="273.40" stroke="#444" stroke-width="1.1"/>
<rect x="142.05" y="279.95" width="10.10" height="33.25" fill="#fff" stroke="#1a1a1a" stroke-width="1.3"/>
<line x1="30.60" y1="251.00" x2="30.60" y2="313.20" stroke="#1a1a1a" stroke-width="1.3"/>
<line x1="30.00" y1="313.20" x2="156.00" y2="313.20" stroke="#1a1a1a" stroke-width="1.3"/>
<line x1="28.60" y1="313.20" x2="30.60" y2="313.20" stroke="#1a1a1a" stroke-width="1"/>
<text x="28.30" y="314.96" font-size="4.9" font-weight="bold" text-anchor="end" fill="#2a2a2a">0</text>
<line x1="28.60" y1="304.31" x2="30.60" y2="304.31" stroke="#1a1a1a" stroke-width="1"/>
<text x="28.30" y="306.08" font-size="4.9" font-weight="bold" text-anchor="end" fill="#2a2a2a">1</text>
<line x1="28.60" y1="295.43" x2="30.60" y2="295.43" stroke="#1a1a1a" stroke-width="1"/>
<text x="28.30" y="297.19" font-size="4.9" font-weight="bold" text-anchor="end" fill="#2a2a2a">2</text>
<line x1="28.60" y1="286.54" x2="30.60" y2="286.54" stroke="#1a1a1a" stroke-width="1"/>
<text x="28.30" y="288.31" font-size="4.9" font-weight="bold" text-anchor="end" fill="#2a2a2a">3</text>
<line x1="28.60" y1="277.66" x2="30.60" y2="277.66" stroke="#1a1a1a" stroke-width="1"/>
<text x="28.30" y="279.42" font-size="4.9" font-weight="bold" text-anchor="end" fill="#2a2a2a">4</text>
<line x1="28.60" y1="268.77" x2="30.60" y2="268.77" stroke="#1a1a1a" stroke-width="1"/>
<text x="28.30" y="270.54" font-size="4.9" font-weight="bold" text-anchor="end" fill="#2a2a2a">5</text>
<line x1="28.60" y1="259.89" x2="30.60" y2="259.89" stroke="#1a1a1a" stroke-width="1"/>
<text x="28.30" y="261.65" font-size="4.9" font-weight="bold" text-anchor="end" fill="#2a2a2a">6</text>
<line x1="28.60" y1="251.00" x2="30.60" y2="251.00" stroke="#1a1a1a" stroke-width="1"/>
<text x="28.30" y="252.76" font-size="4.9" font-weight="bold" text-anchor="end" fill="#2a2a2a">7</text>
<line x1="39.05" y1="313.20" x2="39.05" y2="315.00" stroke="#1a1a1a" stroke-width="1"/>
<line x1="56.00" y1="313.20" x2="56.00" y2="315.00" stroke="#1a1a1a" stroke-width="1"/>
<line x1="73.05" y1="313.20" x2="73.05" y2="315.00" stroke="#1a1a1a" stroke-width="1"/>
<line x1="90.10" y1="313.20" x2="90.10" y2="315.00" stroke="#1a1a1a" stroke-width="1"/>
<line x1="107.00" y1="313.20" x2="107.00" y2="315.00" stroke="#1a1a1a" stroke-width="1"/>
<line x1="130.00" y1="313.20" x2="130.00" y2="315.00" stroke="#1a1a1a" stroke-width="1"/>
<line x1="147.10" y1="313.20" x2="147.10" y2="315.00" stroke="#1a1a1a" stroke-width="1"/>
<text x="39.00" y="320.50" font-size="4.85" font-weight="bold" text-anchor="middle" fill="#1a1a1a" stroke="#1a1a1a" stroke-width="0.15">Mock</text>
<text x="56.00" y="320.50" font-size="4.85" font-weight="bold" text-anchor="middle" fill="#1a1a1a" stroke="#1a1a1a" stroke-width="0.15">pIC</text>
<text x="73.00" y="320.50" font-size="4.85" font-weight="bold" text-anchor="middle" fill="#1a1a1a" stroke="#1a1a1a" stroke-width="0.15">0.01mg</text>
<text x="90.10" y="320.50" font-size="4.85" font-weight="bold" text-anchor="middle" fill="#1a1a1a" stroke="#1a1a1a" stroke-width="0.15">0.1mg</text>
<text x="107.00" y="320.50" font-size="4.85" font-weight="bold" text-anchor="middle" fill="#1a1a1a" stroke="#1a1a1a" stroke-width="0.15">1mg</text>
<text x="130.00" y="320.50" font-size="4.85" font-weight="bold" text-anchor="middle" fill="#1a1a1a" stroke="#1a1a1a" stroke-width="0.15">Mock</text>
<text x="147.10" y="320.50" font-size="4.85" font-weight="bold" text-anchor="middle" fill="#1a1a1a" stroke="#1a1a1a" stroke-width="0.15">1mg</text>
<text x="66.10" y="248.50" font-size="10.3" font-weight="bold" fill="#0a0a0a" textLength="53.20" lengthAdjust="spacingAndGlyphs" stroke="#0a0a0a" stroke-width="0.3">Monocytes</text>
<text x="18.50" y="282.00" font-size="5.5" font-weight="bold" text-anchor="middle" fill="#222" transform="rotate(-90 18.50 282.00)">%</text>
<line x1="204.30" y1="300.30" x2="204.30" y2="298.30" stroke="#444" stroke-width="1.05"/>
<line x1="201.69" y1="298.30" x2="206.91" y2="298.30" stroke="#444" stroke-width="1.1"/>
<rect x="198.50" y="300.30" width="11.60" height="13.30" fill="#050505"/>
<line x1="221.35" y1="300.00" x2="221.35" y2="293.50" stroke="#444" stroke-width="1.05"/>
<line x1="218.72" y1="293.50" x2="223.98" y2="293.50" stroke="#444" stroke-width="1.1"/>
<rect x="216.15" y="300.65" width="10.40" height="12.95" fill="url(#hatch)" stroke="#1a1a1a" stroke-width="1.3"/>
<line x1="238.50" y1="301.00" x2="238.50" y2="297.30" stroke="#444" stroke-width="1.05"/>
<line x1="235.80" y1="297.30" x2="241.20" y2="297.30" stroke="#444" stroke-width="1.1"/>
<rect x="233.15" y="301.65" width="10.70" height="11.95" fill="#fff" stroke="#1a1a1a" stroke-width="1.3"/>
<line x1="255.40" y1="269.70" x2="255.40" y2="266.20" stroke="#444" stroke-width="1.05"/>
<line x1="252.75" y1="266.20" x2="258.06" y2="266.20" stroke="#444" stroke-width="1.1"/>
<rect x="250.15" y="270.35" width="10.50" height="43.25" fill="#fff" stroke="#1a1a1a" stroke-width="1.3"/>
<text x="255.40" y="266.60" font-size="9.5" font-weight="bold" text-anchor="middle" fill="#111">***</text>
<line x1="272.35" y1="269.70" x2="272.35" y2="263.30" stroke="#444" stroke-width="1.05"/>
<line x1="269.72" y1="263.30" x2="274.98" y2="263.30" stroke="#444" stroke-width="1.1"/>
<rect x="267.15" y="270.35" width="10.40" height="43.25" fill="#fff" stroke="#1a1a1a" stroke-width="1.3"/>
<text x="272.35" y="262.90" font-size="9.5" font-weight="bold" text-anchor="middle" fill="#111">**</text>
<line x1="294.95" y1="284.10" x2="294.95" y2="282.00" stroke="#444" stroke-width="1.05"/>
<line x1="292.32" y1="282.00" x2="297.58" y2="282.00" stroke="#444" stroke-width="1.1"/>
<rect x="289.10" y="284.10" width="11.70" height="29.50" fill="#050505"/>
<line x1="312.20" y1="280.40" x2="312.20" y2="279.30" stroke="#444" stroke-width="1.05"/>
<line x1="309.59" y1="279.30" x2="314.81" y2="279.30" stroke="#444" stroke-width="1.1"/>
<rect x="307.05" y="281.05" width="10.30" height="32.55" fill="#fff" stroke="#1a1a1a" stroke-width="1.3"/>
<line x1="195.60" y1="250.90" x2="195.60" y2="313.60" stroke="#1a1a1a" stroke-width="1.3"/>
<line x1="195.00" y1="313.60" x2="321.00" y2="313.60" stroke="#1a1a1a" stroke-width="1.3"/>
<line x1="193.60" y1="313.60" x2="195.60" y2="313.60" stroke="#1a1a1a" stroke-width="1"/>
<text x="193.30" y="315.36" font-size="4.9" font-weight="bold" text-anchor="end" fill="#2a2a2a">0</text>
<line x1="193.60" y1="304.64" x2="195.60" y2="304.64" stroke="#1a1a1a" stroke-width="1"/>
<text x="193.30" y="306.41" font-size="4.9" font-weight="bold" text-anchor="end" fill="#2a2a2a">10</text>
<line x1="193.60" y1="295.69" x2="195.60" y2="295.69" stroke="#1a1a1a" stroke-width="1"/>
<text x="193.30" y="297.45" font-size="4.9" font-weight="bold" text-anchor="end" fill="#2a2a2a">20</text>
<line x1="193.60" y1="286.73" x2="195.60" y2="286.73" stroke="#1a1a1a" stroke-width="1"/>
<text x="193.30" y="288.49" font-size="4.9" font-weight="bold" text-anchor="end" fill="#2a2a2a">30</text>
<line x1="193.60" y1="277.77" x2="195.60" y2="277.77" stroke="#1a1a1a" stroke-width="1"/>
<text x="193.30" y="279.54" font-size="4.9" font-weight="bold" text-anchor="end" fill="#2a2a2a">40</text>
<line x1="193.60" y1="268.81" x2="195.60" y2="268.81" stroke="#1a1a1a" stroke-width="1"/>
<text x="193.30" y="270.58" font-size="4.9" font-weight="bold" text-anchor="end" fill="#2a2a2a">50</text>
<line x1="193.60" y1="259.86" x2="195.60" y2="259.86" stroke="#1a1a1a" stroke-width="1"/>
<text x="193.30" y="261.62" font-size="4.9" font-weight="bold" text-anchor="end" fill="#2a2a2a">60</text>
<line x1="193.60" y1="250.90" x2="195.60" y2="250.90" stroke="#1a1a1a" stroke-width="1"/>
<text x="193.30" y="252.66" font-size="4.9" font-weight="bold" text-anchor="end" fill="#2a2a2a">70</text>
<line x1="204.30" y1="313.60" x2="204.30" y2="315.40" stroke="#1a1a1a" stroke-width="1"/>
<line x1="221.35" y1="313.60" x2="221.35" y2="315.40" stroke="#1a1a1a" stroke-width="1"/>
<line x1="238.50" y1="313.60" x2="238.50" y2="315.40" stroke="#1a1a1a" stroke-width="1"/>
<line x1="255.40" y1="313.60" x2="255.40" y2="315.40" stroke="#1a1a1a" stroke-width="1"/>
<line x1="272.35" y1="313.60" x2="272.35" y2="315.40" stroke="#1a1a1a" stroke-width="1"/>
<line x1="294.95" y1="313.60" x2="294.95" y2="315.40" stroke="#1a1a1a" stroke-width="1"/>
<line x1="312.20" y1="313.60" x2="312.20" y2="315.40" stroke="#1a1a1a" stroke-width="1"/>
<text x="204.30" y="320.50" font-size="4.85" font-weight="bold" text-anchor="middle" fill="#1a1a1a" stroke="#1a1a1a" stroke-width="0.15">Mock</text>
<text x="221.30" y="320.50" font-size="4.85" font-weight="bold" text-anchor="middle" fill="#1a1a1a" stroke="#1a1a1a" stroke-width="0.15">pIC</text>
<text x="238.50" y="320.50" font-size="4.85" font-weight="bold" text-anchor="middle" fill="#1a1a1a" stroke="#1a1a1a" stroke-width="0.15">0.01mg</text>
<text x="255.40" y="320.50" font-size="4.85" font-weight="bold" text-anchor="middle" fill="#1a1a1a" stroke="#1a1a1a" stroke-width="0.15">0.1mg</text>
<text x="272.30" y="320.50" font-size="4.85" font-weight="bold" text-anchor="middle" fill="#1a1a1a" stroke="#1a1a1a" stroke-width="0.15">1mg</text>
<text x="295.00" y="320.50" font-size="4.85" font-weight="bold" text-anchor="middle" fill="#1a1a1a" stroke="#1a1a1a" stroke-width="0.15">TLR7</text>
<text x="312.20" y="320.50" font-size="4.85" font-weight="bold" text-anchor="middle" fill="#1a1a1a" stroke="#1a1a1a" stroke-width="0.15">Mock</text>
<text x="228.00" y="248.50" font-size="10.3" font-weight="bold" fill="#0a0a0a" textLength="60.30" lengthAdjust="spacingAndGlyphs" stroke="#0a0a0a" stroke-width="0.3">Neutrophiles</text>
<text x="184.40" y="282.40" font-size="5.6" font-weight="bold" text-anchor="middle" fill="#222" transform="rotate(-90 184.40 282.40)">%</text>
<line x1="401.75" y1="262.00" x2="401.75" y2="258.30" stroke="#444" stroke-width="1.05"/>
<line x1="399.16" y1="258.30" x2="404.34" y2="258.30" stroke="#444" stroke-width="1.1"/>
<rect x="396.00" y="262.00" width="11.50" height="51.20" fill="#050505"/>
<line x1="418.55" y1="256.80" x2="418.55" y2="256.30" stroke="#444" stroke-width="1.05"/>
<line x1="415.83" y1="256.30" x2="421.27" y2="256.30" stroke="#444" stroke-width="1.1"/>
<rect x="413.15" y="257.45" width="10.80" height="55.75" fill="url(#hatch)" stroke="#1a1a1a" stroke-width="1.3"/>
<line x1="433.00" y1="261.80" x2="438.40" y2="261.80" stroke="#444" stroke-width="1.1"/>
<rect x="430.35" y="262.95" width="10.70" height="50.25" fill="#fff" stroke="#1a1a1a" stroke-width="1.3"/>
<line x1="452.50" y1="280.40" x2="452.50" y2="269.30" stroke="#444" stroke-width="1.05"/>
<line x1="449.80" y1="269.30" x2="455.20" y2="269.30" stroke="#444" stroke-width="1.1"/>
<rect x="447.15" y="281.05" width="10.70" height="32.15" fill="#fff" stroke="#1a1a1a" stroke-width="1.3"/>
<text x="452.90" y="267.20" font-size="4.4" font-style="italic" text-anchor="middle" fill="#555">P = .07</text>
<line x1="470.00" y1="278.30" x2="470.00" y2="274.70" stroke="#444" stroke-width="1.05"/>
<line x1="467.48" y1="274.70" x2="472.52" y2="274.70" stroke="#444" stroke-width="1.1"/>
<rect x="465.05" y="278.95" width="9.90" height="34.25" fill="#fff" stroke="#1a1a1a" stroke-width="1.3"/>
<text x="470.00" y="275.00" font-size="9.5" font-weight="bold" text-anchor="middle" fill="#111">*</text>
<line x1="492.40" y1="269.30" x2="492.40" y2="261.20" stroke="#444" stroke-width="1.05"/>
<line x1="489.79" y1="261.20" x2="495.01" y2="261.20" stroke="#444" stroke-width="1.1"/>
<rect x="486.60" y="269.30" width="11.60" height="43.90" fill="#050505"/>
<line x1="509.65" y1="270.30" x2="509.65" y2="263.30" stroke="#444" stroke-width="1.05"/>
<line x1="507.02" y1="263.30" x2="512.28" y2="263.30" stroke="#444" stroke-width="1.1"/>
<rect x="504.45" y="270.95" width="10.40" height="42.25" fill="#fff" stroke="#1a1a1a" stroke-width="1.3"/>
<line x1="393.60" y1="250.60" x2="393.60" y2="313.20" stroke="#1a1a1a" stroke-width="1.3"/>
<line x1="393.00" y1="313.20" x2="517.00" y2="313.20" stroke="#1a1a1a" stroke-width="1.3"/>
<line x1="391.60" y1="313.20" x2="393.60" y2="313.20" stroke="#1a1a1a" stroke-width="1"/>
<text x="391.30" y="314.96" font-size="4.9" font-weight="bold" text-anchor="end" fill="#2a2a2a">0</text>
<line x1="391.60" y1="292.33" x2="393.60" y2="292.33" stroke="#1a1a1a" stroke-width="1"/>
<text x="391.30" y="294.10" font-size="4.9" font-weight="bold" text-anchor="end" fill="#2a2a2a">500</text>
<line x1="391.60" y1="271.47" x2="393.60" y2="271.47" stroke="#1a1a1a" stroke-width="1"/>
<text x="391.30" y="273.23" font-size="4.9" font-weight="bold" text-anchor="end" fill="#2a2a2a">1000</text>
<line x1="391.60" y1="250.60" x2="393.60" y2="250.60" stroke="#1a1a1a" stroke-width="1"/>
<text x="391.30" y="252.36" font-size="4.9" font-weight="bold" text-anchor="end" fill="#2a2a2a">1500</text>
<line x1="401.75" y1="313.20" x2="401.75" y2="315.00" stroke="#1a1a1a" stroke-width="1"/>
<line x1="418.55" y1="313.20" x2="418.55" y2="315.00" stroke="#1a1a1a" stroke-width="1"/>
<line x1="435.70" y1="313.20" x2="435.70" y2="315.00" stroke="#1a1a1a" stroke-width="1"/>
<line x1="452.50" y1="313.20" x2="452.50" y2="315.00" stroke="#1a1a1a" stroke-width="1"/>
<line x1="470.00" y1="313.20" x2="470.00" y2="315.00" stroke="#1a1a1a" stroke-width="1"/>
<line x1="492.40" y1="313.20" x2="492.40" y2="315.00" stroke="#1a1a1a" stroke-width="1"/>
<line x1="509.65" y1="313.20" x2="509.65" y2="315.00" stroke="#1a1a1a" stroke-width="1"/>
<text x="401.80" y="320.00" font-size="4.85" font-weight="bold" text-anchor="middle" fill="#1a1a1a" stroke="#1a1a1a" stroke-width="0.15">Mock</text>
<text x="418.50" y="320.00" font-size="4.85" font-weight="bold" text-anchor="middle" fill="#1a1a1a" stroke="#1a1a1a" stroke-width="0.15">pIC</text>
<text x="435.70" y="320.00" font-size="4.85" font-weight="bold" text-anchor="middle" fill="#1a1a1a" stroke="#1a1a1a" stroke-width="0.15">0.01mg</text>
<text x="452.50" y="320.00" font-size="4.85" font-weight="bold" text-anchor="middle" fill="#1a1a1a" stroke="#1a1a1a" stroke-width="0.15">0.1mg</text>
<text x="470.00" y="320.00" font-size="4.85" font-weight="bold" text-anchor="middle" fill="#1a1a1a" stroke="#1a1a1a" stroke-width="0.15">1mg</text>
<text x="492.40" y="320.00" font-size="4.85" font-weight="bold" text-anchor="middle" fill="#1a1a1a" stroke="#1a1a1a" stroke-width="0.15">Mock</text>
<text x="509.60" y="320.00" font-size="4.85" font-weight="bold" text-anchor="middle" fill="#1a1a1a" stroke="#1a1a1a" stroke-width="0.15">1mg</text>
<text x="423.50" y="248.50" font-size="10.3" font-weight="bold" fill="#0a0a0a" textLength="62.50" lengthAdjust="spacingAndGlyphs" stroke="#0a0a0a" stroke-width="0.3">Thrombocytes</text>
<text x="378.10" y="278.20" font-size="6.0" font-weight="bold" text-anchor="middle" fill="#222" textLength="25.50" lengthAdjust="spacingAndGlyphs" transform="rotate(-90 378.10 278.20)">mio/mL</text>
<line x1="47.70" y1="388.00" x2="47.70" y2="383.30" stroke="#444" stroke-width="1.05"/>
<line x1="43.26" y1="383.30" x2="52.14" y2="383.30" stroke="#444" stroke-width="1.1"/>
<rect x="36.60" y="388.00" width="22.20" height="36.40" fill="#050505"/>
<line x1="80.50" y1="381.50" x2="80.50" y2="376.30" stroke="#444" stroke-width="1.05"/>
<line x1="76.06" y1="376.30" x2="84.94" y2="376.30" stroke="#444" stroke-width="1.1"/>
<rect x="70.05" y="382.15" width="20.90" height="42.25" fill="#fff" stroke="#1a1a1a" stroke-width="1.3"/>
<line x1="113.35" y1="383.30" x2="113.35" y2="376.90" stroke="#444" stroke-width="1.05"/>
<line x1="108.93" y1="376.90" x2="117.77" y2="376.90" stroke="#444" stroke-width="1.1"/>
<rect x="102.95" y="383.95" width="20.80" height="40.45" fill="#fff" stroke="#1a1a1a" stroke-width="1.3"/>
<line x1="31.20" y1="357.30" x2="31.20" y2="424.40" stroke="#1a1a1a" stroke-width="1.3"/>
<line x1="30.60" y1="424.40" x2="131.00" y2="424.40" stroke="#1a1a1a" stroke-width="1.3"/>
<line x1="29.20" y1="424.40" x2="31.20" y2="424.40" stroke="#1a1a1a" stroke-width="1"/>
<text x="28.90" y="426.06" font-size="4.6" font-weight="bold" text-anchor="end" fill="#2a2a2a">0</text>
<line x1="29.20" y1="414.81" x2="31.20" y2="414.81" stroke="#1a1a1a" stroke-width="1"/>
<text x="28.90" y="416.47" font-size="4.6" font-weight="bold" text-anchor="end" fill="#2a2a2a">1</text>
<line x1="29.20" y1="405.23" x2="31.20" y2="405.23" stroke="#1a1a1a" stroke-width="1"/>
<text x="28.90" y="406.88" font-size="4.6" font-weight="bold" text-anchor="end" fill="#2a2a2a">2</text>
<line x1="29.20" y1="395.64" x2="31.20" y2="395.64" stroke="#1a1a1a" stroke-width="1"/>
<text x="28.90" y="397.30" font-size="4.6" font-weight="bold" text-anchor="end" fill="#2a2a2a">3</text>
<line x1="29.20" y1="386.06" x2="31.20" y2="386.06" stroke="#1a1a1a" stroke-width="1"/>
<text x="28.90" y="387.71" font-size="4.6" font-weight="bold" text-anchor="end" fill="#2a2a2a">4</text>
<line x1="29.20" y1="376.47" x2="31.20" y2="376.47" stroke="#1a1a1a" stroke-width="1"/>
<text x="28.90" y="378.13" font-size="4.6" font-weight="bold" text-anchor="end" fill="#2a2a2a">5</text>
<line x1="29.20" y1="366.89" x2="31.20" y2="366.89" stroke="#1a1a1a" stroke-width="1"/>
<text x="28.90" y="368.54" font-size="4.6" font-weight="bold" text-anchor="end" fill="#2a2a2a">6</text>
<line x1="29.20" y1="357.30" x2="31.20" y2="357.30" stroke="#1a1a1a" stroke-width="1"/>
<text x="28.90" y="358.96" font-size="4.6" font-weight="bold" text-anchor="end" fill="#2a2a2a">7</text>
<line x1="47.70" y1="424.40" x2="47.70" y2="426.20" stroke="#1a1a1a" stroke-width="1"/>
<line x1="80.50" y1="424.40" x2="80.50" y2="426.20" stroke="#1a1a1a" stroke-width="1"/>
<line x1="113.35" y1="424.40" x2="113.35" y2="426.20" stroke="#1a1a1a" stroke-width="1"/>
<text x="47.80" y="432.60" font-size="6.4" font-weight="bold" text-anchor="middle" fill="#1a1a1a" stroke="#1a1a1a" stroke-width="0.15">Mock</text>
<text x="80.50" y="432.60" font-size="6.4" font-weight="bold" text-anchor="middle" fill="#1a1a1a" stroke="#1a1a1a" stroke-width="0.15">0.01mg</text>
<text x="113.30" y="432.60" font-size="6.4" font-weight="bold" text-anchor="middle" fill="#1a1a1a" stroke="#1a1a1a" stroke-width="0.15">0.1mg</text>
<text x="51.80" y="355.80" font-size="10.4" font-weight="bold" fill="#0a0a0a" textLength="57.40" lengthAdjust="spacingAndGlyphs" stroke="#0a0a0a" stroke-width="0.3">Leukocytes</text>
<text x="18.80" y="391.40" font-size="6.0" font-weight="bold" text-anchor="middle" fill="#222" textLength="21.50" lengthAdjust="spacingAndGlyphs" transform="rotate(-90 18.80 391.40)">mio/mL</text>
<line x1="175.40" y1="403.10" x2="175.40" y2="394.50" stroke="#444" stroke-width="1.05"/>
<line x1="170.96" y1="394.50" x2="179.84" y2="394.50" stroke="#444" stroke-width="1.1"/>
<rect x="164.30" y="403.10" width="22.20" height="21.40" fill="#050505"/>
<line x1="208.35" y1="398.00" x2="208.35" y2="389.80" stroke="#444" stroke-width="1.05"/>
<line x1="203.93" y1="389.80" x2="212.77" y2="389.80" stroke="#444" stroke-width="1.1"/>
<rect x="197.95" y="398.65" width="20.80" height="25.85" fill="#fff" stroke="#1a1a1a" stroke-width="1.3"/>
<line x1="241.15" y1="380.70" x2="241.15" y2="372.00" stroke="#444" stroke-width="1.05"/>
<line x1="236.81" y1="372.00" x2="245.49" y2="372.00" stroke="#444" stroke-width="1.1"/>
<rect x="230.95" y="381.35" width="20.40" height="43.15" fill="#fff" stroke="#1a1a1a" stroke-width="1.3"/>
<text x="241.55" y="369.00" font-size="4.4" font-style="italic" text-anchor="middle" fill="#555">P = .13</text>
<line x1="158.60" y1="358.30" x2="158.60" y2="424.50" stroke="#1a1a1a" stroke-width="1.3"/>
<line x1="158.00" y1="424.50" x2="257.50" y2="424.50" stroke="#1a1a1a" stroke-width="1.3"/>
<line x1="156.60" y1="424.50" x2="158.60" y2="424.50" stroke="#1a1a1a" stroke-width="1"/>
<text x="156.30" y="426.16" font-size="4.6" font-weight="bold" text-anchor="end" fill="#2a2a2a">0.0</text>
<line x1="156.60" y1="411.26" x2="158.60" y2="411.26" stroke="#1a1a1a" stroke-width="1"/>
<text x="156.30" y="412.92" font-size="4.6" font-weight="bold" text-anchor="end" fill="#2a2a2a">2.5</text>
<line x1="156.60" y1="398.02" x2="158.60" y2="398.02" stroke="#1a1a1a" stroke-width="1"/>
<text x="156.30" y="399.68" font-size="4.6" font-weight="bold" text-anchor="end" fill="#2a2a2a">5.0</text>
<line x1="156.60" y1="384.78" x2="158.60" y2="384.78" stroke="#1a1a1a" stroke-width="1"/>
<text x="156.30" y="386.44" font-size="4.6" font-weight="bold" text-anchor="end" fill="#2a2a2a">7.5</text>
<line x1="156.60" y1="371.54" x2="158.60" y2="371.54" stroke="#1a1a1a" stroke-width="1"/>
<text x="156.30" y="373.20" font-size="4.6" font-weight="bold" text-anchor="end" fill="#2a2a2a">10.0</text>
<line x1="156.60" y1="358.30" x2="158.60" y2="358.30" stroke="#1a1a1a" stroke-width="1"/>
<text x="156.30" y="359.96" font-size="4.6" font-weight="bold" text-anchor="end" fill="#2a2a2a">12.5</text>
<line x1="175.40" y1="424.50" x2="175.40" y2="426.30" stroke="#1a1a1a" stroke-width="1"/>
<line x1="208.35" y1="424.50" x2="208.35" y2="426.30" stroke="#1a1a1a" stroke-width="1"/>
<line x1="241.15" y1="424.50" x2="241.15" y2="426.30" stroke="#1a1a1a" stroke-width="1"/>
<text x="175.40" y="432.60" font-size="6.4" font-weight="bold" text-anchor="middle" fill="#1a1a1a" stroke="#1a1a1a" stroke-width="0.15">Mock</text>
<text x="208.40" y="432.60" font-size="6.4" font-weight="bold" text-anchor="middle" fill="#1a1a1a" stroke="#1a1a1a" stroke-width="0.15">0.01mg</text>
<text x="241.20" y="432.60" font-size="6.4" font-weight="bold" text-anchor="middle" fill="#1a1a1a" stroke="#1a1a1a" stroke-width="0.15">0.1mg</text>
<text x="180.40" y="355.80" font-size="10.4" font-weight="bold" fill="#0a0a0a" textLength="55.20" lengthAdjust="spacingAndGlyphs" stroke="#0a0a0a" stroke-width="0.3">Monocytes</text>
<text x="146.50" y="391.00" font-size="5.5" font-weight="bold" text-anchor="middle" fill="#222" transform="rotate(-90 146.50 391.00)">%</text>
<line x1="303.30" y1="411.10" x2="303.30" y2="408.20" stroke="#444" stroke-width="1.05"/>
<line x1="298.90" y1="408.20" x2="307.70" y2="408.20" stroke="#444" stroke-width="1.1"/>
<rect x="292.30" y="411.10" width="22.00" height="13.20" fill="#050505"/>
<line x1="335.95" y1="407.70" x2="335.95" y2="404.70" stroke="#444" stroke-width="1.05"/>
<line x1="331.45" y1="404.70" x2="340.45" y2="404.70" stroke="#444" stroke-width="1.1"/>
<rect x="325.35" y="408.35" width="21.20" height="15.95" fill="#fff" stroke="#1a1a1a" stroke-width="1.3"/>
<line x1="369.20" y1="385.50" x2="369.20" y2="382.00" stroke="#444" stroke-width="1.05"/>
<line x1="364.72" y1="382.00" x2="373.68" y2="382.00" stroke="#444" stroke-width="1.1"/>
<rect x="358.65" y="386.15" width="21.10" height="38.15" fill="#fff" stroke="#1a1a1a" stroke-width="1.3"/>
<text x="369.20" y="383.10" font-size="9.5" font-weight="bold" text-anchor="middle" fill="#111">**</text>
<line x1="286.60" y1="358.40" x2="286.60" y2="424.30" stroke="#1a1a1a" stroke-width="1.3"/>
<line x1="286.00" y1="424.30" x2="385.00" y2="424.30" stroke="#1a1a1a" stroke-width="1.3"/>
<line x1="284.60" y1="424.30" x2="286.60" y2="424.30" stroke="#1a1a1a" stroke-width="1"/>
<text x="284.30" y="425.96" font-size="4.6" font-weight="bold" text-anchor="end" fill="#2a2a2a">0</text>
<line x1="284.60" y1="414.89" x2="286.60" y2="414.89" stroke="#1a1a1a" stroke-width="1"/>
<text x="284.30" y="416.54" font-size="4.6" font-weight="bold" text-anchor="end" fill="#2a2a2a">10</text>
<line x1="284.60" y1="405.47" x2="286.60" y2="405.47" stroke="#1a1a1a" stroke-width="1"/>
<text x="284.30" y="407.13" font-size="4.6" font-weight="bold" text-anchor="end" fill="#2a2a2a">20</text>
<line x1="284.60" y1="396.06" x2="286.60" y2="396.06" stroke="#1a1a1a" stroke-width="1"/>
<text x="284.30" y="397.71" font-size="4.6" font-weight="bold" text-anchor="end" fill="#2a2a2a">30</text>
<line x1="284.60" y1="386.64" x2="286.60" y2="386.64" stroke="#1a1a1a" stroke-width="1"/>
<text x="284.30" y="388.30" font-size="4.6" font-weight="bold" text-anchor="end" fill="#2a2a2a">40</text>
<line x1="284.60" y1="377.23" x2="286.60" y2="377.23" stroke="#1a1a1a" stroke-width="1"/>
<text x="284.30" y="378.88" font-size="4.6" font-weight="bold" text-anchor="end" fill="#2a2a2a">50</text>
<line x1="284.60" y1="367.81" x2="286.60" y2="367.81" stroke="#1a1a1a" stroke-width="1"/>
<text x="284.30" y="369.47" font-size="4.6" font-weight="bold" text-anchor="end" fill="#2a2a2a">60</text>
<line x1="284.60" y1="358.40" x2="286.60" y2="358.40" stroke="#1a1a1a" stroke-width="1"/>
<text x="284.30" y="360.06" font-size="4.6" font-weight="bold" text-anchor="end" fill="#2a2a2a">70</text>
<line x1="303.30" y1="424.30" x2="303.30" y2="426.10" stroke="#1a1a1a" stroke-width="1"/>
<line x1="335.95" y1="424.30" x2="335.95" y2="426.10" stroke="#1a1a1a" stroke-width="1"/>
<line x1="369.20" y1="424.30" x2="369.20" y2="426.10" stroke="#1a1a1a" stroke-width="1"/>
<text x="303.30" y="432.60" font-size="6.4" font-weight="bold" text-anchor="middle" fill="#1a1a1a" stroke="#1a1a1a" stroke-width="0.15">Mock</text>
<text x="336.00" y="432.60" font-size="6.4" font-weight="bold" text-anchor="middle" fill="#1a1a1a" stroke="#1a1a1a" stroke-width="0.15">0.01mg</text>
<text x="369.20" y="432.60" font-size="6.4" font-weight="bold" text-anchor="middle" fill="#1a1a1a" stroke="#1a1a1a" stroke-width="0.15">0.1mg</text>
<text x="303.80" y="355.90" font-size="10.4" font-weight="bold" fill="#0a0a0a" textLength="64.00" lengthAdjust="spacingAndGlyphs" stroke="#0a0a0a" stroke-width="0.3">Neutrophiles</text>
<text x="274.60" y="391.20" font-size="5.5" font-weight="bold" text-anchor="middle" fill="#222" transform="rotate(-90 274.60 391.20)">%</text>
<line x1="436.30" y1="376.20" x2="436.30" y2="368.40" stroke="#444" stroke-width="1.05"/>
<line x1="431.98" y1="368.40" x2="440.62" y2="368.40" stroke="#444" stroke-width="1.1"/>
<rect x="425.50" y="376.20" width="21.60" height="48.20" fill="#050505"/>
<line x1="468.60" y1="365.00" x2="468.60" y2="364.20" stroke="#444" stroke-width="1.05"/>
<line x1="464.12" y1="364.20" x2="473.08" y2="364.20" stroke="#444" stroke-width="1.1"/>
<rect x="458.05" y="365.65" width="21.10" height="58.75" fill="#fff" stroke="#1a1a1a" stroke-width="1.3"/>
<line x1="501.65" y1="382.90" x2="501.65" y2="376.20" stroke="#444" stroke-width="1.05"/>
<line x1="497.23" y1="376.20" x2="506.07" y2="376.20" stroke="#444" stroke-width="1.1"/>
<rect x="491.25" y="383.55" width="20.80" height="40.85" fill="#fff" stroke="#1a1a1a" stroke-width="1.3"/>
<line x1="419.40" y1="358.70" x2="419.40" y2="424.40" stroke="#1a1a1a" stroke-width="1.3"/>
<line x1="418.80" y1="424.40" x2="517.00" y2="424.40" stroke="#1a1a1a" stroke-width="1.3"/>
<line x1="417.40" y1="424.40" x2="419.40" y2="424.40" stroke="#1a1a1a" stroke-width="1"/>
<text x="417.10" y="426.06" font-size="4.6" font-weight="bold" text-anchor="end" fill="#2a2a2a">0</text>
<line x1="417.40" y1="402.50" x2="419.40" y2="402.50" stroke="#1a1a1a" stroke-width="1"/>
<text x="417.10" y="404.16" font-size="4.6" font-weight="bold" text-anchor="end" fill="#2a2a2a">500</text>
<line x1="417.40" y1="380.60" x2="419.40" y2="380.60" stroke="#1a1a1a" stroke-width="1"/>
<text x="417.10" y="382.26" font-size="4.6" font-weight="bold" text-anchor="end" fill="#2a2a2a">1000</text>
<line x1="417.40" y1="358.70" x2="419.40" y2="358.70" stroke="#1a1a1a" stroke-width="1"/>
<text x="417.10" y="360.36" font-size="4.6" font-weight="bold" text-anchor="end" fill="#2a2a2a">1500</text>
<line x1="436.30" y1="424.40" x2="436.30" y2="426.20" stroke="#1a1a1a" stroke-width="1"/>
<line x1="468.60" y1="424.40" x2="468.60" y2="426.20" stroke="#1a1a1a" stroke-width="1"/>
<line x1="501.65" y1="424.40" x2="501.65" y2="426.20" stroke="#1a1a1a" stroke-width="1"/>
<text x="436.30" y="432.60" font-size="6.4" font-weight="bold" text-anchor="middle" fill="#1a1a1a" stroke="#1a1a1a" stroke-width="0.15">Mock</text>
<text x="468.60" y="432.60" font-size="6.4" font-weight="bold" text-anchor="middle" fill="#1a1a1a" stroke="#1a1a1a" stroke-width="0.15">0.01mg</text>
<text x="501.60" y="432.60" font-size="6.4" font-weight="bold" text-anchor="middle" fill="#1a1a1a" stroke="#1a1a1a" stroke-width="0.15">0.1mg</text>
<text x="431.70" y="356.00" font-size="10.4" font-weight="bold" fill="#0a0a0a" textLength="72.30" lengthAdjust="spacingAndGlyphs" stroke="#0a0a0a" stroke-width="0.3">Thrombocytes</text>
<text x="401.80" y="391.90" font-size="6.0" font-weight="bold" text-anchor="middle" fill="#222" textLength="22.20" lengthAdjust="spacingAndGlyphs" transform="rotate(-90 401.80 391.90)">mio/mL</text>
<line x1="47.55" y1="471.30" x2="47.55" y2="470.30" stroke="#444" stroke-width="1.05"/>
<line x1="43.05" y1="470.30" x2="52.05" y2="470.30" stroke="#444" stroke-width="1.1"/>
<rect x="36.30" y="471.30" width="22.50" height="52.60" fill="#050505"/>
<line x1="80.30" y1="474.30" x2="80.30" y2="472.20" stroke="#444" stroke-width="1.05"/>
<line x1="75.78" y1="472.20" x2="84.82" y2="472.20" stroke="#444" stroke-width="1.1"/>
<rect x="69.65" y="474.95" width="21.30" height="48.95" fill="#fff" stroke="#1a1a1a" stroke-width="1.3"/>
<line x1="113.50" y1="491.60" x2="113.50" y2="490.20" stroke="#444" stroke-width="1.05"/>
<line x1="109.10" y1="490.20" x2="117.90" y2="490.20" stroke="#444" stroke-width="1.1"/>
<rect x="103.15" y="492.25" width="20.70" height="31.65" fill="#fff" stroke="#1a1a1a" stroke-width="1.3"/>
<text x="113.50" y="490.60" font-size="9.5" font-weight="bold" text-anchor="middle" fill="#111">***</text>
<line x1="31.20" y1="458.80" x2="31.20" y2="523.90" stroke="#1a1a1a" stroke-width="1.3"/>
<line x1="30.60" y1="523.90" x2="130.00" y2="523.90" stroke="#1a1a1a" stroke-width="1.3"/>
<line x1="29.20" y1="523.90" x2="31.20" y2="523.90" stroke="#1a1a1a" stroke-width="1"/>
<text x="28.90" y="525.56" font-size="4.6" font-weight="bold" text-anchor="end" fill="#2a2a2a">0</text>
<line x1="29.20" y1="507.62" x2="31.20" y2="507.62" stroke="#1a1a1a" stroke-width="1"/>
<text x="28.90" y="509.28" font-size="4.6" font-weight="bold" text-anchor="end" fill="#2a2a2a">25</text>
<line x1="29.20" y1="491.35" x2="31.20" y2="491.35" stroke="#1a1a1a" stroke-width="1"/>
<text x="28.90" y="493.01" font-size="4.6" font-weight="bold" text-anchor="end" fill="#2a2a2a">50</text>
<line x1="29.20" y1="475.07" x2="31.20" y2="475.07" stroke="#1a1a1a" stroke-width="1"/>
<text x="28.90" y="476.73" font-size="4.6" font-weight="bold" text-anchor="end" fill="#2a2a2a">75</text>
<line x1="29.20" y1="458.80" x2="31.20" y2="458.80" stroke="#1a1a1a" stroke-width="1"/>
<text x="28.90" y="460.46" font-size="4.6" font-weight="bold" text-anchor="end" fill="#2a2a2a">100</text>
<line x1="47.55" y1="523.90" x2="47.55" y2="525.70" stroke="#1a1a1a" stroke-width="1"/>
<line x1="80.30" y1="523.90" x2="80.30" y2="525.70" stroke="#1a1a1a" stroke-width="1"/>
<line x1="113.50" y1="523.90" x2="113.50" y2="525.70" stroke="#1a1a1a" stroke-width="1"/>
<text x="47.50" y="532.60" font-size="6.4" font-weight="bold" text-anchor="middle" fill="#1a1a1a" stroke="#1a1a1a" stroke-width="0.15">Mock</text>
<text x="80.30" y="532.60" font-size="6.4" font-weight="bold" text-anchor="middle" fill="#1a1a1a" stroke="#1a1a1a" stroke-width="0.15">0.01mg</text>
<text x="113.50" y="532.60" font-size="6.4" font-weight="bold" text-anchor="middle" fill="#1a1a1a" stroke="#1a1a1a" stroke-width="0.15">0.1mg</text>
<text x="46.70" y="456.10" font-size="10.4" font-weight="bold" fill="#0a0a0a" textLength="67.60" lengthAdjust="spacingAndGlyphs" stroke="#0a0a0a" stroke-width="0.3">Lymphocytes</text>
<text x="18.60" y="491.50" font-size="5.5" font-weight="bold" text-anchor="middle" fill="#222" transform="rotate(-90 18.60 491.50)">%</text>
<line x1="175.45" y1="469.50" x2="175.45" y2="466.80" stroke="#444" stroke-width="1.05"/>
<line x1="170.99" y1="466.80" x2="179.91" y2="466.80" stroke="#444" stroke-width="1.1"/>
<rect x="164.30" y="469.50" width="22.30" height="54.70" fill="#050505"/>
<line x1="208.45" y1="483.60" x2="208.45" y2="481.40" stroke="#444" stroke-width="1.05"/>
<line x1="204.07" y1="481.40" x2="212.83" y2="481.40" stroke="#444" stroke-width="1.1"/>
<rect x="198.15" y="484.25" width="20.60" height="39.95" fill="#fff" stroke="#1a1a1a" stroke-width="1.3"/>
<text x="208.45" y="480.50" font-size="9.5" font-weight="bold" text-anchor="middle" fill="#111">**</text>
<line x1="241.15" y1="509.20" x2="241.15" y2="506.40" stroke="#444" stroke-width="1.05"/>
<line x1="236.57" y1="506.40" x2="245.73" y2="506.40" stroke="#444" stroke-width="1.1"/>
<rect x="230.35" y="509.85" width="21.60" height="14.35" fill="#fff" stroke="#1a1a1a" stroke-width="1.3"/>
<text x="241.15" y="505.10" font-size="9.5" font-weight="bold" text-anchor="middle" fill="#111">***</text>
<line x1="158.30" y1="458.40" x2="158.30" y2="524.20" stroke="#1a1a1a" stroke-width="1.3"/>
<line x1="157.70" y1="524.20" x2="257.20" y2="524.20" stroke="#1a1a1a" stroke-width="1.3"/>
<line x1="156.30" y1="524.20" x2="158.30" y2="524.20" stroke="#1a1a1a" stroke-width="1"/>
<text x="156.00" y="525.86" font-size="4.6" font-weight="bold" text-anchor="end" fill="#2a2a2a">0</text>
<line x1="156.30" y1="502.27" x2="158.30" y2="502.27" stroke="#1a1a1a" stroke-width="1"/>
<text x="156.00" y="503.92" font-size="4.6" font-weight="bold" text-anchor="end" fill="#2a2a2a">1000</text>
<line x1="156.30" y1="480.33" x2="158.30" y2="480.33" stroke="#1a1a1a" stroke-width="1"/>
<text x="156.00" y="481.99" font-size="4.6" font-weight="bold" text-anchor="end" fill="#2a2a2a">2000</text>
<line x1="156.30" y1="458.40" x2="158.30" y2="458.40" stroke="#1a1a1a" stroke-width="1"/>
<text x="156.00" y="460.06" font-size="4.6" font-weight="bold" text-anchor="end" fill="#2a2a2a">3000</text>
<line x1="175.45" y1="524.20" x2="175.45" y2="526.00" stroke="#1a1a1a" stroke-width="1"/>
<line x1="208.45" y1="524.20" x2="208.45" y2="526.00" stroke="#1a1a1a" stroke-width="1"/>
<line x1="241.15" y1="524.20" x2="241.15" y2="526.00" stroke="#1a1a1a" stroke-width="1"/>
<text x="175.40" y="532.60" font-size="6.4" font-weight="bold" text-anchor="middle" fill="#1a1a1a" stroke="#1a1a1a" stroke-width="0.15">Mock</text>
<text x="208.40" y="532.60" font-size="6.4" font-weight="bold" text-anchor="middle" fill="#1a1a1a" stroke="#1a1a1a" stroke-width="0.15">0.01mg</text>
<text x="241.20" y="532.60" font-size="6.4" font-weight="bold" text-anchor="middle" fill="#1a1a1a" stroke="#1a1a1a" stroke-width="0.15">0.1mg</text>
<text x="190.40" y="456.30" font-size="10.4" font-weight="bold" fill="#0a0a0a" textLength="33.80" lengthAdjust="spacingAndGlyphs" stroke="#0a0a0a" stroke-width="0.3">B-cells</text>
<text x="142.40" y="488.60" font-size="6" font-weight="bold" text-anchor="middle" fill="#222" textLength="60.50" lengthAdjust="spacingAndGlyphs" transform="rotate(-90 142.40 488.60)">absolute count / ul</text>
<line x1="303.20" y1="474.00" x2="303.20" y2="471.20" stroke="#444" stroke-width="1.05"/>
<line x1="298.68" y1="471.20" x2="307.72" y2="471.20" stroke="#444" stroke-width="1.1"/>
<rect x="291.90" y="474.00" width="22.60" height="50.40" fill="#050505"/>
<line x1="335.85" y1="484.20" x2="335.85" y2="481.40" stroke="#444" stroke-width="1.05"/>
<line x1="331.39" y1="481.40" x2="340.31" y2="481.40" stroke="#444" stroke-width="1.1"/>
<rect x="325.35" y="484.85" width="21.00" height="39.55" fill="#fff" stroke="#1a1a1a" stroke-width="1.3"/>
<text x="335.85" y="480.50" font-size="9.5" font-weight="bold" text-anchor="middle" fill="#111">*</text>
<line x1="369.00" y1="497.50" x2="369.00" y2="495.30" stroke="#444" stroke-width="1.05"/>
<line x1="364.44" y1="495.30" x2="373.56" y2="495.30" stroke="#444" stroke-width="1.1"/>
<rect x="358.25" y="498.15" width="21.50" height="26.25" fill="#fff" stroke="#1a1a1a" stroke-width="1.3"/>
<text x="369.00" y="494.00" font-size="9.5" font-weight="bold" text-anchor="middle" fill="#111">***</text>
<line x1="286.70" y1="458.60" x2="286.70" y2="524.40" stroke="#1a1a1a" stroke-width="1.3"/>
<line x1="286.10" y1="524.40" x2="385.50" y2="524.40" stroke="#1a1a1a" stroke-width="1.3"/>
<line x1="284.70" y1="524.40" x2="286.70" y2="524.40" stroke="#1a1a1a" stroke-width="1"/>
<text x="284.40" y="526.06" font-size="4.6" font-weight="bold" text-anchor="end" fill="#2a2a2a">0</text>
<line x1="284.70" y1="511.24" x2="286.70" y2="511.24" stroke="#1a1a1a" stroke-width="1"/>
<text x="284.40" y="512.90" font-size="4.6" font-weight="bold" text-anchor="end" fill="#2a2a2a">250</text>
<line x1="284.70" y1="498.08" x2="286.70" y2="498.08" stroke="#1a1a1a" stroke-width="1"/>
<text x="284.40" y="499.74" font-size="4.6" font-weight="bold" text-anchor="end" fill="#2a2a2a">500</text>
<line x1="284.70" y1="484.92" x2="286.70" y2="484.92" stroke="#1a1a1a" stroke-width="1"/>
<text x="284.40" y="486.58" font-size="4.6" font-weight="bold" text-anchor="end" fill="#2a2a2a">750</text>
<line x1="284.70" y1="471.76" x2="286.70" y2="471.76" stroke="#1a1a1a" stroke-width="1"/>
<text x="284.40" y="473.42" font-size="4.6" font-weight="bold" text-anchor="end" fill="#2a2a2a">1000</text>
<line x1="284.70" y1="458.60" x2="286.70" y2="458.60" stroke="#1a1a1a" stroke-width="1"/>
<text x="284.40" y="460.26" font-size="4.6" font-weight="bold" text-anchor="end" fill="#2a2a2a">1250</text>
<line x1="303.20" y1="524.40" x2="303.20" y2="526.20" stroke="#1a1a1a" stroke-width="1"/>
<line x1="335.85" y1="524.40" x2="335.85" y2="526.20" stroke="#1a1a1a" stroke-width="1"/>
<line x1="369.00" y1="524.40" x2="369.00" y2="526.20" stroke="#1a1a1a" stroke-width="1"/>
<text x="303.20" y="532.60" font-size="6.4" font-weight="bold" text-anchor="middle" fill="#1a1a1a" stroke="#1a1a1a" stroke-width="0.15">Mock</text>
<text x="335.80" y="532.60" font-size="6.4" font-weight="bold" text-anchor="middle" fill="#1a1a1a" stroke="#1a1a1a" stroke-width="0.15">0.01mg</text>
<text x="369.00" y="532.60" font-size="6.4" font-weight="bold" text-anchor="middle" fill="#1a1a1a" stroke="#1a1a1a" stroke-width="0.15">0.1mg</text>
<text x="325.70" y="456.10" font-size="10.4" font-weight="bold" fill="#0a0a0a" textLength="19.40" lengthAdjust="spacingAndGlyphs" stroke="#0a0a0a" stroke-width="0.3">CD4</text>
<line x1="435.85" y1="476.00" x2="435.85" y2="473.50" stroke="#444" stroke-width="1.05"/>
<line x1="431.43" y1="473.50" x2="440.27" y2="473.50" stroke="#444" stroke-width="1.1"/>
<rect x="424.80" y="476.00" width="22.10" height="48.40" fill="#050505"/>
<line x1="468.85" y1="484.20" x2="468.85" y2="481.70" stroke="#444" stroke-width="1.05"/>
<line x1="464.31" y1="481.70" x2="473.39" y2="481.70" stroke="#444" stroke-width="1.1"/>
<rect x="458.15" y="484.85" width="21.40" height="39.55" fill="#fff" stroke="#1a1a1a" stroke-width="1.3"/>
<text x="468.85" y="480.60" font-size="9.5" font-weight="bold" text-anchor="middle" fill="#111">*</text>
<line x1="502.05" y1="498.50" x2="502.05" y2="496.50" stroke="#444" stroke-width="1.05"/>
<line x1="497.55" y1="496.50" x2="506.55" y2="496.50" stroke="#444" stroke-width="1.1"/>
<rect x="491.45" y="499.15" width="21.20" height="25.25" fill="#fff" stroke="#1a1a1a" stroke-width="1.3"/>
<text x="502.05" y="496.00" font-size="9.5" font-weight="bold" text-anchor="middle" fill="#111">***</text>
<line x1="419.80" y1="458.60" x2="419.80" y2="524.40" stroke="#1a1a1a" stroke-width="1.3"/>
<line x1="419.20" y1="524.40" x2="516.00" y2="524.40" stroke="#1a1a1a" stroke-width="1.3"/>
<line x1="417.80" y1="524.40" x2="419.80" y2="524.40" stroke="#1a1a1a" stroke-width="1"/>
<text x="417.50" y="526.06" font-size="4.6" font-weight="bold" text-anchor="end" fill="#2a2a2a">0</text>
<line x1="417.80" y1="507.95" x2="419.80" y2="507.95" stroke="#1a1a1a" stroke-width="1"/>
<text x="417.50" y="509.61" font-size="4.6" font-weight="bold" text-anchor="end" fill="#2a2a2a">250</text>
<line x1="417.80" y1="491.50" x2="419.80" y2="491.50" stroke="#1a1a1a" stroke-width="1"/>
<text x="417.50" y="493.16" font-size="4.6" font-weight="bold" text-anchor="end" fill="#2a2a2a">500</text>
<line x1="417.80" y1="475.05" x2="419.80" y2="475.05" stroke="#1a1a1a" stroke-width="1"/>
<text x="417.50" y="476.71" font-size="4.6" font-weight="bold" text-anchor="end" fill="#2a2a2a">750</text>
<line x1="417.80" y1="458.60" x2="419.80" y2="458.60" stroke="#1a1a1a" stroke-width="1"/>
<text x="417.50" y="460.26" font-size="4.6" font-weight="bold" text-anchor="end" fill="#2a2a2a">1000</text>
<line x1="435.85" y1="524.40" x2="435.85" y2="526.20" stroke="#1a1a1a" stroke-width="1"/>
<line x1="468.85" y1="524.40" x2="468.85" y2="526.20" stroke="#1a1a1a" stroke-width="1"/>
<line x1="502.05" y1="524.40" x2="502.05" y2="526.20" stroke="#1a1a1a" stroke-width="1"/>
<text x="435.80" y="532.60" font-size="6.4" font-weight="bold" text-anchor="middle" fill="#1a1a1a" stroke="#1a1a1a" stroke-width="0.15">Mock</text>
<text x="468.80" y="532.60" font-size="6.4" font-weight="bold" text-anchor="middle" fill="#1a1a1a" stroke="#1a1a1a" stroke-width="0.15">0.01mg</text>
<text x="502.00" y="532.60" font-size="6.4" font-weight="bold" text-anchor="middle" fill="#1a1a1a" stroke="#1a1a1a" stroke-width="0.15">0.1mg</text>
<text x="457.50" y="455.90" font-size="10.4" font-weight="bold" fill="#0a0a0a" textLength="20.50" lengthAdjust="spacingAndGlyphs" stroke="#0a0a0a" stroke-width="0.3">CD8</text>
<line x1="117.9" y1="144.5" x2="117.9" y2="205" stroke="#333" stroke-width="1.3" stroke-dasharray="2.6 1.6"/>
<line x1="118.1" y1="252.7" x2="118.1" y2="313" stroke="#333" stroke-width="1.3" stroke-dasharray="2.6 1.6"/>
<line x1="283" y1="253" x2="283" y2="313.4" stroke="#333" stroke-width="1.3" stroke-dasharray="2.6 1.6"/>
<line x1="480.3" y1="253.2" x2="480.3" y2="313" stroke="#333" stroke-width="1.3" stroke-dasharray="2.6 1.6"/>
<text x="124.10" y="150.90" font-size="8.2" fill="#0a0a0a" textLength="18.90" lengthAdjust="spacingAndGlyphs" stroke="#0a0a0a" stroke-width="0.18">TLR7</text>
<text x="143.40" y="147.46" font-size="5.903999999999999" fill="#222" textLength="5.61" lengthAdjust="spacingAndGlyphs">-/-</text>
<text x="124.10" y="258.80" font-size="8.2" fill="#0a0a0a" textLength="18.90" lengthAdjust="spacingAndGlyphs" stroke="#0a0a0a" stroke-width="0.18">TLR7</text>
<text x="143.40" y="255.36" font-size="5.903999999999999" fill="#222" textLength="5.61" lengthAdjust="spacingAndGlyphs">-/-</text>
<text x="288.20" y="258.80" font-size="8.2" fill="#0a0a0a" textLength="19.80" lengthAdjust="spacingAndGlyphs" stroke="#0a0a0a" stroke-width="0.18">TLR7</text>
<text x="308.40" y="255.36" font-size="5.903999999999999" fill="#222" textLength="5.61" lengthAdjust="spacingAndGlyphs">-/-</text>
<text x="488.00" y="259.40" font-size="8.4" fill="#0a0a0a" textLength="19.20" lengthAdjust="spacingAndGlyphs" stroke="#0a0a0a" stroke-width="0.18">TLR7</text>
<text x="507.60" y="255.87" font-size="6.048" fill="#222" textLength="5.75" lengthAdjust="spacingAndGlyphs">-/-</text>
<line x1="156.4" y1="136.8" x2="171.1" y2="136.8" stroke="#111" stroke-width="1.4"/>
<path d="M176,136.8 L170.6,134.5 L170.6,139.10000000000002 Z" fill="#111"/>
<line x1="122.8" y1="448.2" x2="136.3" y2="448.2" stroke="#111" stroke-width="1.9"/>
<path d="M142,448.2 L135.8,445.3 L135.8,451.09999999999997 Z" fill="#111"/>
<text x="0.10" y="7.70" font-size="11.5" font-weight="bold" fill="#111">A</text>
<text x="0.50" y="125.40" font-size="10.6" font-weight="bold" fill="#111">B</text>
<text x="0.80" y="233.20" font-size="11.5" font-weight="bold" fill="#111">C</text>
<text x="357.40" y="232.60" font-size="11.5" font-weight="bold" fill="#111">D</text>
<text x="-0.80" y="342.20" font-size="11.5" font-weight="bold" fill="#111">E</text>
<line x1="456" y1="94.3" x2="515.8" y2="94.3" stroke="#222" stroke-width="1.2"/>
<text x="474.60" y="103.90" font-size="10.8" fill="#222" textLength="22.60" lengthAdjust="spacingAndGlyphs">R848</text>
</svg>
</body></html>
